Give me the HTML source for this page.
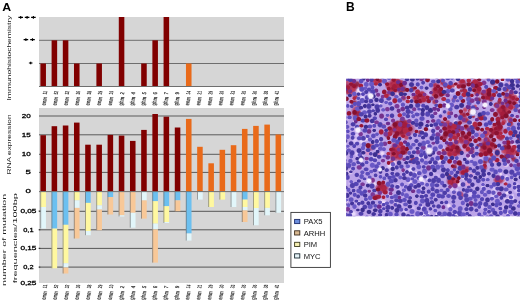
<!DOCTYPE html>
<html><head><meta charset="utf-8"><title>Figure</title>
<style>
html,body{margin:0;padding:0;background:#fff;}
body{width:520px;height:302px;overflow:hidden;font-family:"Liberation Sans",sans-serif;}
svg{display:block;will-change:transform;}
</style></head><body>
<svg width="520" height="302" viewBox="0 0 520 302"><rect x="39" y="17" width="245" height="69.5" fill="#d6d6d6"/><line x1="39" x2="284" y1="40.3" y2="40.3" stroke="#6e6e6e" stroke-width="1"/><line x1="39" x2="284" y1="63.5" y2="63.5" stroke="#6e6e6e" stroke-width="1"/><rect x="40.40" y="63.5" width="5.55" height="23.00" fill="#800000"/><rect x="51.60" y="40.3" width="5.55" height="46.20" fill="#800000"/><rect x="62.80" y="40.3" width="5.55" height="46.20" fill="#800000"/><rect x="73.99" y="63.5" width="5.55" height="23.00" fill="#800000"/><rect x="96.39" y="63.5" width="5.55" height="23.00" fill="#800000"/><rect x="118.79" y="17" width="5.55" height="69.50" fill="#800000"/><rect x="141.18" y="63.5" width="5.55" height="23.00" fill="#800000"/><rect x="152.38" y="40.3" width="5.55" height="46.20" fill="#800000"/><rect x="163.58" y="17" width="5.55" height="69.50" fill="#800000"/><rect x="185.97" y="63.5" width="5.55" height="23.00" fill="#e96a1a"/><line x1="39" x2="284" y1="86.5" y2="86.5" stroke="#6e6e6e" stroke-width="1"/><path d="M18.40 17.40h4.6M20.70 16.00v2.8" stroke="#000" stroke-width="1.15" fill="none"/><path d="M24.80 17.40h4.6M27.10 16.00v2.8" stroke="#000" stroke-width="1.15" fill="none"/><path d="M31.10 17.40h4.6M33.40 16.00v2.8" stroke="#000" stroke-width="1.15" fill="none"/><path d="M23.60 39.60h4.6M25.90 38.20v2.8" stroke="#000" stroke-width="1.15" fill="none"/><path d="M30.20 39.60h4.6M32.50 38.20v2.8" stroke="#000" stroke-width="1.15" fill="none"/><path d="M28.90 63.00h3.6M30.70 61.70v2.6" stroke="#000" stroke-width="1.2" fill="none"/><rect x="39" y="108" width="245" height="83.5" fill="#d6d6d6"/><line x1="39" x2="284" y1="116.0" y2="116.0" stroke="#5a5a5a" stroke-width="1"/><line x1="39" x2="284" y1="134.8" y2="134.8" stroke="#5a5a5a" stroke-width="1"/><line x1="39" x2="284" y1="154.3" y2="154.3" stroke="#5a5a5a" stroke-width="1"/><line x1="39" x2="284" y1="172.4" y2="172.4" stroke="#5a5a5a" stroke-width="1"/><rect x="40.40" y="135.2" width="5.55" height="56.30" fill="#800000"/><rect x="51.60" y="126.2" width="5.55" height="65.30" fill="#800000"/><rect x="62.80" y="125.5" width="5.55" height="66.00" fill="#800000"/><rect x="73.99" y="122.6" width="5.55" height="68.90" fill="#800000"/><rect x="85.19" y="144.7" width="5.55" height="46.80" fill="#800000"/><rect x="96.39" y="144.7" width="5.55" height="46.80" fill="#800000"/><rect x="107.59" y="134.9" width="5.55" height="56.60" fill="#800000"/><rect x="118.79" y="135.6" width="5.55" height="55.90" fill="#800000"/><rect x="129.98" y="140.9" width="5.55" height="50.60" fill="#800000"/><rect x="141.18" y="129.9" width="5.55" height="61.60" fill="#800000"/><rect x="152.38" y="114.0" width="5.55" height="77.50" fill="#800000"/><rect x="163.58" y="116.7" width="5.55" height="74.80" fill="#800000"/><rect x="174.78" y="127.5" width="5.55" height="64.00" fill="#800000"/><rect x="185.97" y="118.9" width="5.55" height="72.60" fill="#e96a1a"/><rect x="197.17" y="146.8" width="5.55" height="44.70" fill="#e96a1a"/><rect x="208.37" y="163.3" width="5.55" height="28.20" fill="#e96a1a"/><rect x="219.57" y="149.8" width="5.55" height="41.70" fill="#e96a1a"/><rect x="230.77" y="145.2" width="5.55" height="46.30" fill="#e96a1a"/><rect x="241.96" y="128.9" width="5.55" height="62.60" fill="#e96a1a"/><rect x="253.16" y="125.9" width="5.55" height="65.60" fill="#e96a1a"/><rect x="264.36" y="124.6" width="5.55" height="66.90" fill="#e96a1a"/><rect x="275.56" y="134.5" width="5.55" height="57.00" fill="#e96a1a"/><rect x="39" y="191.5" width="245" height="91.5" fill="#d6d6d6"/><line x1="39" x2="284" y1="211.3" y2="211.3" stroke="#555" stroke-width="1"/><line x1="39" x2="284" y1="229.8" y2="229.8" stroke="#555" stroke-width="1"/><line x1="39" x2="284" y1="248.4" y2="248.4" stroke="#555" stroke-width="1"/><line x1="39" x2="284" y1="267.1" y2="267.1" stroke="#555" stroke-width="1"/><rect x="40.40" y="192.00" width="5.55" height="15.00" fill="#fff8a0"/><rect x="40.40" y="207.00" width="5.55" height="21.50" fill="#e2f6fa"/><line x1="40.70" x2="40.70" y1="192" y2="228.50" stroke="#6a6a6a" stroke-width="0.8" opacity="0.8"/><rect x="51.60" y="192.00" width="5.55" height="36.60" fill="#6cc0f0"/><rect x="51.60" y="228.60" width="5.55" height="39.70" fill="#fff8a0"/><line x1="51.90" x2="51.90" y1="192" y2="268.30" stroke="#6a6a6a" stroke-width="0.8" opacity="0.8"/><rect x="62.80" y="192.00" width="5.55" height="32.80" fill="#6cc0f0"/><rect x="62.80" y="224.80" width="5.55" height="38.50" fill="#fff8a0"/><rect x="62.80" y="263.30" width="5.55" height="4.20" fill="#e2f6fa"/><rect x="62.80" y="267.50" width="5.55" height="6.00" fill="#f8c898"/><line x1="63.10" x2="63.10" y1="192" y2="273.50" stroke="#6a6a6a" stroke-width="0.8" opacity="0.8"/><rect x="73.99" y="192.00" width="5.55" height="8.40" fill="#fff8a0"/><rect x="73.99" y="200.40" width="5.55" height="7.50" fill="#e2f6fa"/><rect x="73.99" y="207.90" width="5.55" height="30.60" fill="#f8c898"/><line x1="74.29" x2="74.29" y1="192" y2="238.50" stroke="#6a6a6a" stroke-width="0.8" opacity="0.8"/><rect x="85.19" y="192.00" width="5.55" height="10.90" fill="#6cc0f0"/><rect x="85.19" y="202.90" width="5.55" height="28.10" fill="#fff8a0"/><rect x="85.19" y="231.00" width="5.55" height="4.20" fill="#e2f6fa"/><line x1="85.49" x2="85.49" y1="192" y2="235.20" stroke="#6a6a6a" stroke-width="0.8" opacity="0.8"/><rect x="96.39" y="192.00" width="5.55" height="13.40" fill="#fff8a0"/><rect x="96.39" y="205.40" width="5.55" height="4.10" fill="#e2f6fa"/><rect x="96.39" y="209.50" width="5.55" height="20.70" fill="#f8c898"/><line x1="96.69" x2="96.69" y1="192" y2="230.20" stroke="#6a6a6a" stroke-width="0.8" opacity="0.8"/><rect x="107.59" y="192.00" width="5.55" height="5.10" fill="#6cc0f0"/><rect x="107.59" y="197.10" width="5.55" height="17.40" fill="#f8c898"/><line x1="107.89" x2="107.89" y1="192" y2="214.50" stroke="#6a6a6a" stroke-width="0.8" opacity="0.8"/><rect x="118.79" y="192.00" width="5.55" height="23.30" fill="#f8c898"/><rect x="118.79" y="215.30" width="5.55" height="1.20" fill="#e2f6fa"/><line x1="119.09" x2="119.09" y1="192" y2="216.50" stroke="#6a6a6a" stroke-width="0.8" opacity="0.8"/><rect x="129.98" y="192.00" width="5.55" height="20.80" fill="#f8c898"/><rect x="129.98" y="212.80" width="5.55" height="14.90" fill="#e2f6fa"/><line x1="130.28" x2="130.28" y1="192" y2="227.70" stroke="#6a6a6a" stroke-width="0.8" opacity="0.8"/><rect x="141.18" y="192.00" width="5.55" height="8.40" fill="#e2f6fa"/><rect x="141.18" y="200.40" width="5.55" height="18.20" fill="#f8c898"/><line x1="141.48" x2="141.48" y1="192" y2="218.60" stroke="#6a6a6a" stroke-width="0.8" opacity="0.8"/><rect x="152.38" y="192.00" width="5.55" height="9.20" fill="#6cc0f0"/><rect x="152.38" y="201.20" width="5.55" height="22.40" fill="#fff8a0"/><rect x="152.38" y="223.60" width="5.55" height="5.80" fill="#e2f6fa"/><rect x="152.38" y="229.40" width="5.55" height="33.20" fill="#f8c898"/><line x1="152.68" x2="152.68" y1="192" y2="262.60" stroke="#6a6a6a" stroke-width="0.8" opacity="0.8"/><rect x="163.58" y="192.00" width="5.55" height="14.20" fill="#6cc0f0"/><rect x="163.58" y="206.20" width="5.55" height="15.80" fill="#fff8a0"/><rect x="163.58" y="222.00" width="5.55" height="1.00" fill="#e2f6fa"/><line x1="163.88" x2="163.88" y1="192" y2="223.00" stroke="#6a6a6a" stroke-width="0.8" opacity="0.8"/><rect x="174.78" y="192.00" width="5.55" height="8.40" fill="#6cc0f0"/><rect x="174.78" y="200.40" width="5.55" height="10.80" fill="#f8c898"/><line x1="175.08" x2="175.08" y1="192" y2="211.20" stroke="#6a6a6a" stroke-width="0.8" opacity="0.8"/><rect x="185.97" y="192.00" width="5.55" height="41.50" fill="#6cc0f0"/><rect x="185.97" y="233.50" width="5.55" height="7.10" fill="#e2f6fa"/><line x1="186.27" x2="186.27" y1="192" y2="240.60" stroke="#6a6a6a" stroke-width="0.8" opacity="0.8"/><rect x="197.17" y="192.00" width="5.55" height="7.60" fill="#e2f6fa"/><line x1="197.47" x2="197.47" y1="192" y2="199.60" stroke="#6a6a6a" stroke-width="0.8" opacity="0.8"/><rect x="208.37" y="192.00" width="5.55" height="15.00" fill="#fff8a0"/><line x1="208.67" x2="208.67" y1="192" y2="207.00" stroke="#6a6a6a" stroke-width="0.8" opacity="0.8"/><rect x="219.57" y="192.00" width="5.55" height="7.60" fill="#fff8a0"/><line x1="219.87" x2="219.87" y1="192" y2="199.60" stroke="#6a6a6a" stroke-width="0.8" opacity="0.8"/><rect x="230.77" y="192.00" width="5.55" height="15.00" fill="#e2f6fa"/><line x1="231.07" x2="231.07" y1="192" y2="207.00" stroke="#6a6a6a" stroke-width="0.8" opacity="0.8"/><rect x="241.96" y="192.00" width="5.55" height="7.60" fill="#6cc0f0"/><rect x="241.96" y="199.60" width="5.55" height="7.40" fill="#fff8a0"/><rect x="241.96" y="207.00" width="5.55" height="3.40" fill="#e2f6fa"/><rect x="241.96" y="210.40" width="5.55" height="11.60" fill="#f8c898"/><line x1="242.26" x2="242.26" y1="192" y2="222.00" stroke="#6a6a6a" stroke-width="0.8" opacity="0.8"/><rect x="253.16" y="192.00" width="5.55" height="16.00" fill="#fff8a0"/><rect x="253.16" y="208.00" width="5.55" height="17.30" fill="#e2f6fa"/><line x1="253.46" x2="253.46" y1="192" y2="225.30" stroke="#6a6a6a" stroke-width="0.8" opacity="0.8"/><rect x="264.36" y="192.00" width="5.55" height="15.90" fill="#fff8a0"/><rect x="264.36" y="207.90" width="5.55" height="7.40" fill="#e2f6fa"/><line x1="264.66" x2="264.66" y1="192" y2="215.30" stroke="#6a6a6a" stroke-width="0.8" opacity="0.8"/><rect x="275.56" y="192.00" width="5.55" height="20.80" fill="#e2f6fa"/><line x1="275.86" x2="275.86" y1="192" y2="212.80" stroke="#6a6a6a" stroke-width="0.8" opacity="0.8"/><line x1="39" x2="284" y1="191.6" y2="191.6" stroke="#6e6e6e" stroke-width="1"/><text x="21.8" y="117.7" font-family="Liberation Sans, sans-serif" font-size="5.7" stroke="#000" stroke-width="0.28" textLength="9.0" lengthAdjust="spacingAndGlyphs">20</text><text x="21.8" y="136.7" font-family="Liberation Sans, sans-serif" font-size="5.7" stroke="#000" stroke-width="0.28" textLength="9.0" lengthAdjust="spacingAndGlyphs">15</text><text x="21.8" y="156.2" font-family="Liberation Sans, sans-serif" font-size="5.7" stroke="#000" stroke-width="0.28" textLength="9.0" lengthAdjust="spacingAndGlyphs">10</text><text x="25.4" y="174.4" font-family="Liberation Sans, sans-serif" font-size="5.7" stroke="#000" stroke-width="0.28" textLength="5.4" lengthAdjust="spacingAndGlyphs">5</text><text x="25.4" y="193.4" font-family="Liberation Sans, sans-serif" font-size="5.7" stroke="#000" stroke-width="0.28" textLength="5.4" lengthAdjust="spacingAndGlyphs">0</text><text x="20.4" y="213.1" font-family="Liberation Sans, sans-serif" font-size="5.7" stroke="#000" stroke-width="0.28" textLength="16.0" lengthAdjust="spacingAndGlyphs">0,05</text><text x="23.2" y="231.8" font-family="Liberation Sans, sans-serif" font-size="5.7" stroke="#000" stroke-width="0.28" textLength="10.4" lengthAdjust="spacingAndGlyphs">0,1</text><text x="20.4" y="250.3" font-family="Liberation Sans, sans-serif" font-size="5.7" stroke="#000" stroke-width="0.28" textLength="16.0" lengthAdjust="spacingAndGlyphs">0,15</text><text x="23.2" y="269.1" font-family="Liberation Sans, sans-serif" font-size="5.7" stroke="#000" stroke-width="0.28" textLength="10.4" lengthAdjust="spacingAndGlyphs">0,2</text><text x="20.4" y="285.0" font-family="Liberation Sans, sans-serif" font-size="5.7" stroke="#000" stroke-width="0.28" textLength="16.0" lengthAdjust="spacingAndGlyphs">0,25</text><line x1="38.6" x2="40.3" y1="211.1" y2="211.1" stroke="#222" stroke-width="0.9"/><line x1="38.6" x2="40.3" y1="229.8" y2="229.8" stroke="#222" stroke-width="0.9"/><line x1="38.6" x2="40.3" y1="248.3" y2="248.3" stroke="#222" stroke-width="0.9"/><line x1="38.6" x2="40.3" y1="267.1" y2="267.1" stroke="#222" stroke-width="0.9"/><text transform="translate(10.5,100.5) rotate(-90)" font-family="Liberation Sans, sans-serif" font-size="5.0" fill="#1a1a1a" textLength="85" lengthAdjust="spacingAndGlyphs">Immunohistochemistry</text><text transform="translate(10.7,174.6) rotate(-90)" font-family="Liberation Sans, sans-serif" font-size="5.2" fill="#1a1a1a" textLength="60.2" lengthAdjust="spacingAndGlyphs">RNA expression</text><text transform="translate(5.8,286.0) rotate(-90)" font-family="Liberation Sans, sans-serif" font-size="5.0" fill="#1a1a1a" textLength="92.3" lengthAdjust="spacingAndGlyphs">number of mutation</text><text transform="translate(16.9,283.3) rotate(-90)" font-family="Liberation Sans, sans-serif" font-size="5.0" fill="#1a1a1a" textLength="90.2" lengthAdjust="spacingAndGlyphs">frequencies/100bp</text><text transform="translate(45.40,105.6) rotate(-90) skewY(12)" font-family="Liberation Sans, sans-serif" font-size="6.4" font-style="italic" font-weight="bold" fill="#222" textLength="8.6" lengthAdjust="spacingAndGlyphs">enm</text><text transform="translate(46.60,94.6) rotate(-90) skewY(12)" font-family="Liberation Sans, sans-serif" font-size="6.0" font-style="italic" font-weight="bold" fill="#222" textLength="3.6" lengthAdjust="spacingAndGlyphs">11</text><text transform="translate(45.40,299.8) rotate(-90) skewY(12)" font-family="Liberation Sans, sans-serif" font-size="6.4" font-style="italic" font-weight="bold" fill="#222" textLength="8.6" lengthAdjust="spacingAndGlyphs">enm</text><text transform="translate(46.60,288.2) rotate(-90) skewY(12)" font-family="Liberation Sans, sans-serif" font-size="6.0" font-style="italic" font-weight="bold" fill="#222" textLength="3.6" lengthAdjust="spacingAndGlyphs">11</text><text transform="translate(56.44,105.6) rotate(-90) skewY(12)" font-family="Liberation Sans, sans-serif" font-size="6.4" font-style="italic" font-weight="bold" fill="#222" textLength="8.6" lengthAdjust="spacingAndGlyphs">enm</text><text transform="translate(57.64,94.6) rotate(-90) skewY(12)" font-family="Liberation Sans, sans-serif" font-size="6.0" font-style="italic" font-weight="bold" fill="#222" textLength="3.6" lengthAdjust="spacingAndGlyphs">52</text><text transform="translate(56.44,299.8) rotate(-90) skewY(12)" font-family="Liberation Sans, sans-serif" font-size="6.4" font-style="italic" font-weight="bold" fill="#222" textLength="8.6" lengthAdjust="spacingAndGlyphs">enm</text><text transform="translate(57.64,288.2) rotate(-90) skewY(12)" font-family="Liberation Sans, sans-serif" font-size="6.0" font-style="italic" font-weight="bold" fill="#222" textLength="3.6" lengthAdjust="spacingAndGlyphs">52</text><text transform="translate(67.48,105.6) rotate(-90) skewY(12)" font-family="Liberation Sans, sans-serif" font-size="6.4" font-style="italic" font-weight="bold" fill="#222" textLength="8.6" lengthAdjust="spacingAndGlyphs">enm</text><text transform="translate(68.68,94.6) rotate(-90) skewY(12)" font-family="Liberation Sans, sans-serif" font-size="6.0" font-style="italic" font-weight="bold" fill="#222" textLength="3.6" lengthAdjust="spacingAndGlyphs">32</text><text transform="translate(67.48,299.8) rotate(-90) skewY(12)" font-family="Liberation Sans, sans-serif" font-size="6.4" font-style="italic" font-weight="bold" fill="#222" textLength="8.6" lengthAdjust="spacingAndGlyphs">enm</text><text transform="translate(68.68,288.2) rotate(-90) skewY(12)" font-family="Liberation Sans, sans-serif" font-size="6.0" font-style="italic" font-weight="bold" fill="#222" textLength="3.6" lengthAdjust="spacingAndGlyphs">32</text><text transform="translate(78.52,105.6) rotate(-90) skewY(12)" font-family="Liberation Sans, sans-serif" font-size="6.4" font-style="italic" font-weight="bold" fill="#222" textLength="8.6" lengthAdjust="spacingAndGlyphs">enm</text><text transform="translate(79.72,94.6) rotate(-90) skewY(12)" font-family="Liberation Sans, sans-serif" font-size="6.0" font-style="italic" font-weight="bold" fill="#222" textLength="3.6" lengthAdjust="spacingAndGlyphs">36</text><text transform="translate(78.52,299.8) rotate(-90) skewY(12)" font-family="Liberation Sans, sans-serif" font-size="6.4" font-style="italic" font-weight="bold" fill="#222" textLength="8.6" lengthAdjust="spacingAndGlyphs">enm</text><text transform="translate(79.72,288.2) rotate(-90) skewY(12)" font-family="Liberation Sans, sans-serif" font-size="6.0" font-style="italic" font-weight="bold" fill="#222" textLength="3.6" lengthAdjust="spacingAndGlyphs">36</text><text transform="translate(89.56,105.6) rotate(-90) skewY(12)" font-family="Liberation Sans, sans-serif" font-size="6.4" font-style="italic" font-weight="bold" fill="#222" textLength="8.6" lengthAdjust="spacingAndGlyphs">enm</text><text transform="translate(90.76,94.6) rotate(-90) skewY(12)" font-family="Liberation Sans, sans-serif" font-size="6.0" font-style="italic" font-weight="bold" fill="#222" textLength="3.6" lengthAdjust="spacingAndGlyphs">38</text><text transform="translate(89.56,299.8) rotate(-90) skewY(12)" font-family="Liberation Sans, sans-serif" font-size="6.4" font-style="italic" font-weight="bold" fill="#222" textLength="8.6" lengthAdjust="spacingAndGlyphs">enm</text><text transform="translate(90.76,288.2) rotate(-90) skewY(12)" font-family="Liberation Sans, sans-serif" font-size="6.0" font-style="italic" font-weight="bold" fill="#222" textLength="3.6" lengthAdjust="spacingAndGlyphs">38</text><text transform="translate(100.60,105.6) rotate(-90) skewY(12)" font-family="Liberation Sans, sans-serif" font-size="6.4" font-style="italic" font-weight="bold" fill="#222" textLength="8.6" lengthAdjust="spacingAndGlyphs">enm</text><text transform="translate(101.80,94.6) rotate(-90) skewY(12)" font-family="Liberation Sans, sans-serif" font-size="6.0" font-style="italic" font-weight="bold" fill="#222" textLength="3.6" lengthAdjust="spacingAndGlyphs">29</text><text transform="translate(100.60,299.8) rotate(-90) skewY(12)" font-family="Liberation Sans, sans-serif" font-size="6.4" font-style="italic" font-weight="bold" fill="#222" textLength="8.6" lengthAdjust="spacingAndGlyphs">enm</text><text transform="translate(101.80,288.2) rotate(-90) skewY(12)" font-family="Liberation Sans, sans-serif" font-size="6.0" font-style="italic" font-weight="bold" fill="#222" textLength="3.6" lengthAdjust="spacingAndGlyphs">29</text><text transform="translate(111.64,105.6) rotate(-90) skewY(12)" font-family="Liberation Sans, sans-serif" font-size="6.4" font-style="italic" font-weight="bold" fill="#222" textLength="8.6" lengthAdjust="spacingAndGlyphs">enm</text><text transform="translate(112.84,94.6) rotate(-90) skewY(12)" font-family="Liberation Sans, sans-serif" font-size="6.0" font-style="italic" font-weight="bold" fill="#222" textLength="3.6" lengthAdjust="spacingAndGlyphs">10</text><text transform="translate(111.64,299.8) rotate(-90) skewY(12)" font-family="Liberation Sans, sans-serif" font-size="6.4" font-style="italic" font-weight="bold" fill="#222" textLength="8.6" lengthAdjust="spacingAndGlyphs">enm</text><text transform="translate(112.84,288.2) rotate(-90) skewY(12)" font-family="Liberation Sans, sans-serif" font-size="6.0" font-style="italic" font-weight="bold" fill="#222" textLength="3.6" lengthAdjust="spacingAndGlyphs">10</text><text transform="translate(122.68,105.6) rotate(-90) skewY(12)" font-family="Liberation Sans, sans-serif" font-size="6.4" font-style="italic" font-weight="bold" fill="#222" textLength="8.6" lengthAdjust="spacingAndGlyphs">ghm</text><text transform="translate(123.88,94.6) rotate(-90) skewY(12)" font-family="Liberation Sans, sans-serif" font-size="6.0" font-style="italic" font-weight="bold" fill="#222" textLength="2.4" lengthAdjust="spacingAndGlyphs">2</text><text transform="translate(122.68,299.8) rotate(-90) skewY(12)" font-family="Liberation Sans, sans-serif" font-size="6.4" font-style="italic" font-weight="bold" fill="#222" textLength="8.6" lengthAdjust="spacingAndGlyphs">ghm</text><text transform="translate(123.88,288.2) rotate(-90) skewY(12)" font-family="Liberation Sans, sans-serif" font-size="6.0" font-style="italic" font-weight="bold" fill="#222" textLength="2.4" lengthAdjust="spacingAndGlyphs">2</text><text transform="translate(133.72,105.6) rotate(-90) skewY(12)" font-family="Liberation Sans, sans-serif" font-size="6.4" font-style="italic" font-weight="bold" fill="#222" textLength="8.6" lengthAdjust="spacingAndGlyphs">ghm</text><text transform="translate(134.92,94.6) rotate(-90) skewY(12)" font-family="Liberation Sans, sans-serif" font-size="6.0" font-style="italic" font-weight="bold" fill="#222" textLength="2.4" lengthAdjust="spacingAndGlyphs">4</text><text transform="translate(133.72,299.8) rotate(-90) skewY(12)" font-family="Liberation Sans, sans-serif" font-size="6.4" font-style="italic" font-weight="bold" fill="#222" textLength="8.6" lengthAdjust="spacingAndGlyphs">ghm</text><text transform="translate(134.92,288.2) rotate(-90) skewY(12)" font-family="Liberation Sans, sans-serif" font-size="6.0" font-style="italic" font-weight="bold" fill="#222" textLength="2.4" lengthAdjust="spacingAndGlyphs">4</text><text transform="translate(144.76,105.6) rotate(-90) skewY(12)" font-family="Liberation Sans, sans-serif" font-size="6.4" font-style="italic" font-weight="bold" fill="#222" textLength="8.6" lengthAdjust="spacingAndGlyphs">ghm</text><text transform="translate(145.96,94.6) rotate(-90) skewY(12)" font-family="Liberation Sans, sans-serif" font-size="6.0" font-style="italic" font-weight="bold" fill="#222" textLength="2.4" lengthAdjust="spacingAndGlyphs">5</text><text transform="translate(144.76,299.8) rotate(-90) skewY(12)" font-family="Liberation Sans, sans-serif" font-size="6.4" font-style="italic" font-weight="bold" fill="#222" textLength="8.6" lengthAdjust="spacingAndGlyphs">ghm</text><text transform="translate(145.96,288.2) rotate(-90) skewY(12)" font-family="Liberation Sans, sans-serif" font-size="6.0" font-style="italic" font-weight="bold" fill="#222" textLength="2.4" lengthAdjust="spacingAndGlyphs">5</text><text transform="translate(155.80,105.6) rotate(-90) skewY(12)" font-family="Liberation Sans, sans-serif" font-size="6.4" font-style="italic" font-weight="bold" fill="#222" textLength="8.6" lengthAdjust="spacingAndGlyphs">ghm</text><text transform="translate(157.00,94.6) rotate(-90) skewY(12)" font-family="Liberation Sans, sans-serif" font-size="6.0" font-style="italic" font-weight="bold" fill="#222" textLength="2.4" lengthAdjust="spacingAndGlyphs">6</text><text transform="translate(155.80,299.8) rotate(-90) skewY(12)" font-family="Liberation Sans, sans-serif" font-size="6.4" font-style="italic" font-weight="bold" fill="#222" textLength="8.6" lengthAdjust="spacingAndGlyphs">ghm</text><text transform="translate(157.00,288.2) rotate(-90) skewY(12)" font-family="Liberation Sans, sans-serif" font-size="6.0" font-style="italic" font-weight="bold" fill="#222" textLength="2.4" lengthAdjust="spacingAndGlyphs">6</text><text transform="translate(166.84,105.6) rotate(-90) skewY(12)" font-family="Liberation Sans, sans-serif" font-size="6.4" font-style="italic" font-weight="bold" fill="#222" textLength="8.6" lengthAdjust="spacingAndGlyphs">ghm</text><text transform="translate(168.04,94.6) rotate(-90) skewY(12)" font-family="Liberation Sans, sans-serif" font-size="6.0" font-style="italic" font-weight="bold" fill="#222" textLength="2.4" lengthAdjust="spacingAndGlyphs">7</text><text transform="translate(166.84,299.8) rotate(-90) skewY(12)" font-family="Liberation Sans, sans-serif" font-size="6.4" font-style="italic" font-weight="bold" fill="#222" textLength="8.6" lengthAdjust="spacingAndGlyphs">ghm</text><text transform="translate(168.04,288.2) rotate(-90) skewY(12)" font-family="Liberation Sans, sans-serif" font-size="6.0" font-style="italic" font-weight="bold" fill="#222" textLength="2.4" lengthAdjust="spacingAndGlyphs">7</text><text transform="translate(177.88,105.6) rotate(-90) skewY(12)" font-family="Liberation Sans, sans-serif" font-size="6.4" font-style="italic" font-weight="bold" fill="#222" textLength="8.6" lengthAdjust="spacingAndGlyphs">ghm</text><text transform="translate(179.08,94.6) rotate(-90) skewY(12)" font-family="Liberation Sans, sans-serif" font-size="6.0" font-style="italic" font-weight="bold" fill="#222" textLength="2.4" lengthAdjust="spacingAndGlyphs">9</text><text transform="translate(177.88,299.8) rotate(-90) skewY(12)" font-family="Liberation Sans, sans-serif" font-size="6.4" font-style="italic" font-weight="bold" fill="#222" textLength="8.6" lengthAdjust="spacingAndGlyphs">ghm</text><text transform="translate(179.08,288.2) rotate(-90) skewY(12)" font-family="Liberation Sans, sans-serif" font-size="6.0" font-style="italic" font-weight="bold" fill="#222" textLength="2.4" lengthAdjust="spacingAndGlyphs">9</text><text transform="translate(188.92,105.6) rotate(-90) skewY(12)" font-family="Liberation Sans, sans-serif" font-size="6.4" font-style="italic" font-weight="bold" fill="#222" textLength="8.6" lengthAdjust="spacingAndGlyphs">enm</text><text transform="translate(190.12,94.6) rotate(-90) skewY(12)" font-family="Liberation Sans, sans-serif" font-size="6.0" font-style="italic" font-weight="bold" fill="#222" textLength="3.6" lengthAdjust="spacingAndGlyphs">14</text><text transform="translate(188.92,299.8) rotate(-90) skewY(12)" font-family="Liberation Sans, sans-serif" font-size="6.4" font-style="italic" font-weight="bold" fill="#222" textLength="8.6" lengthAdjust="spacingAndGlyphs">enm</text><text transform="translate(190.12,288.2) rotate(-90) skewY(12)" font-family="Liberation Sans, sans-serif" font-size="6.0" font-style="italic" font-weight="bold" fill="#222" textLength="3.6" lengthAdjust="spacingAndGlyphs">14</text><text transform="translate(199.96,105.6) rotate(-90) skewY(12)" font-family="Liberation Sans, sans-serif" font-size="6.4" font-style="italic" font-weight="bold" fill="#222" textLength="8.6" lengthAdjust="spacingAndGlyphs">enm</text><text transform="translate(201.16,94.6) rotate(-90) skewY(12)" font-family="Liberation Sans, sans-serif" font-size="6.0" font-style="italic" font-weight="bold" fill="#222" textLength="3.6" lengthAdjust="spacingAndGlyphs">21</text><text transform="translate(199.96,299.8) rotate(-90) skewY(12)" font-family="Liberation Sans, sans-serif" font-size="6.4" font-style="italic" font-weight="bold" fill="#222" textLength="8.6" lengthAdjust="spacingAndGlyphs">enm</text><text transform="translate(201.16,288.2) rotate(-90) skewY(12)" font-family="Liberation Sans, sans-serif" font-size="6.0" font-style="italic" font-weight="bold" fill="#222" textLength="3.6" lengthAdjust="spacingAndGlyphs">21</text><text transform="translate(211.00,105.6) rotate(-90) skewY(12)" font-family="Liberation Sans, sans-serif" font-size="6.4" font-style="italic" font-weight="bold" fill="#222" textLength="8.6" lengthAdjust="spacingAndGlyphs">enm</text><text transform="translate(212.20,94.6) rotate(-90) skewY(12)" font-family="Liberation Sans, sans-serif" font-size="6.0" font-style="italic" font-weight="bold" fill="#222" textLength="3.6" lengthAdjust="spacingAndGlyphs">29</text><text transform="translate(211.00,299.8) rotate(-90) skewY(12)" font-family="Liberation Sans, sans-serif" font-size="6.4" font-style="italic" font-weight="bold" fill="#222" textLength="8.6" lengthAdjust="spacingAndGlyphs">enm</text><text transform="translate(212.20,288.2) rotate(-90) skewY(12)" font-family="Liberation Sans, sans-serif" font-size="6.0" font-style="italic" font-weight="bold" fill="#222" textLength="3.6" lengthAdjust="spacingAndGlyphs">29</text><text transform="translate(222.04,105.6) rotate(-90) skewY(12)" font-family="Liberation Sans, sans-serif" font-size="6.4" font-style="italic" font-weight="bold" fill="#222" textLength="8.6" lengthAdjust="spacingAndGlyphs">enm</text><text transform="translate(223.24,94.6) rotate(-90) skewY(12)" font-family="Liberation Sans, sans-serif" font-size="6.0" font-style="italic" font-weight="bold" fill="#222" textLength="3.6" lengthAdjust="spacingAndGlyphs">30</text><text transform="translate(222.04,299.8) rotate(-90) skewY(12)" font-family="Liberation Sans, sans-serif" font-size="6.4" font-style="italic" font-weight="bold" fill="#222" textLength="8.6" lengthAdjust="spacingAndGlyphs">enm</text><text transform="translate(223.24,288.2) rotate(-90) skewY(12)" font-family="Liberation Sans, sans-serif" font-size="6.0" font-style="italic" font-weight="bold" fill="#222" textLength="3.6" lengthAdjust="spacingAndGlyphs">30</text><text transform="translate(233.08,105.6) rotate(-90) skewY(12)" font-family="Liberation Sans, sans-serif" font-size="6.4" font-style="italic" font-weight="bold" fill="#222" textLength="8.6" lengthAdjust="spacingAndGlyphs">enm</text><text transform="translate(234.28,94.6) rotate(-90) skewY(12)" font-family="Liberation Sans, sans-serif" font-size="6.0" font-style="italic" font-weight="bold" fill="#222" textLength="3.6" lengthAdjust="spacingAndGlyphs">33</text><text transform="translate(233.08,299.8) rotate(-90) skewY(12)" font-family="Liberation Sans, sans-serif" font-size="6.4" font-style="italic" font-weight="bold" fill="#222" textLength="8.6" lengthAdjust="spacingAndGlyphs">enm</text><text transform="translate(234.28,288.2) rotate(-90) skewY(12)" font-family="Liberation Sans, sans-serif" font-size="6.0" font-style="italic" font-weight="bold" fill="#222" textLength="3.6" lengthAdjust="spacingAndGlyphs">33</text><text transform="translate(244.12,105.6) rotate(-90) skewY(12)" font-family="Liberation Sans, sans-serif" font-size="6.4" font-style="italic" font-weight="bold" fill="#222" textLength="8.6" lengthAdjust="spacingAndGlyphs">enm</text><text transform="translate(245.32,94.6) rotate(-90) skewY(12)" font-family="Liberation Sans, sans-serif" font-size="6.0" font-style="italic" font-weight="bold" fill="#222" textLength="3.6" lengthAdjust="spacingAndGlyphs">35</text><text transform="translate(244.12,299.8) rotate(-90) skewY(12)" font-family="Liberation Sans, sans-serif" font-size="6.4" font-style="italic" font-weight="bold" fill="#222" textLength="8.6" lengthAdjust="spacingAndGlyphs">enm</text><text transform="translate(245.32,288.2) rotate(-90) skewY(12)" font-family="Liberation Sans, sans-serif" font-size="6.0" font-style="italic" font-weight="bold" fill="#222" textLength="3.6" lengthAdjust="spacingAndGlyphs">35</text><text transform="translate(255.16,105.6) rotate(-90) skewY(12)" font-family="Liberation Sans, sans-serif" font-size="6.4" font-style="italic" font-weight="bold" fill="#222" textLength="8.6" lengthAdjust="spacingAndGlyphs">ghm</text><text transform="translate(256.36,94.6) rotate(-90) skewY(12)" font-family="Liberation Sans, sans-serif" font-size="6.0" font-style="italic" font-weight="bold" fill="#222" textLength="3.6" lengthAdjust="spacingAndGlyphs">36</text><text transform="translate(255.16,299.8) rotate(-90) skewY(12)" font-family="Liberation Sans, sans-serif" font-size="6.4" font-style="italic" font-weight="bold" fill="#222" textLength="8.6" lengthAdjust="spacingAndGlyphs">ghm</text><text transform="translate(256.36,288.2) rotate(-90) skewY(12)" font-family="Liberation Sans, sans-serif" font-size="6.0" font-style="italic" font-weight="bold" fill="#222" textLength="3.6" lengthAdjust="spacingAndGlyphs">36</text><text transform="translate(266.20,105.6) rotate(-90) skewY(12)" font-family="Liberation Sans, sans-serif" font-size="6.4" font-style="italic" font-weight="bold" fill="#222" textLength="8.6" lengthAdjust="spacingAndGlyphs">ghm</text><text transform="translate(267.40,94.6) rotate(-90) skewY(12)" font-family="Liberation Sans, sans-serif" font-size="6.0" font-style="italic" font-weight="bold" fill="#222" textLength="3.6" lengthAdjust="spacingAndGlyphs">38</text><text transform="translate(266.20,299.8) rotate(-90) skewY(12)" font-family="Liberation Sans, sans-serif" font-size="6.4" font-style="italic" font-weight="bold" fill="#222" textLength="8.6" lengthAdjust="spacingAndGlyphs">ghm</text><text transform="translate(267.40,288.2) rotate(-90) skewY(12)" font-family="Liberation Sans, sans-serif" font-size="6.0" font-style="italic" font-weight="bold" fill="#222" textLength="3.6" lengthAdjust="spacingAndGlyphs">38</text><text transform="translate(277.24,105.6) rotate(-90) skewY(12)" font-family="Liberation Sans, sans-serif" font-size="6.4" font-style="italic" font-weight="bold" fill="#222" textLength="8.6" lengthAdjust="spacingAndGlyphs">ghm</text><text transform="translate(278.44,94.6) rotate(-90) skewY(12)" font-family="Liberation Sans, sans-serif" font-size="6.0" font-style="italic" font-weight="bold" fill="#222" textLength="3.6" lengthAdjust="spacingAndGlyphs">41</text><text transform="translate(277.24,299.8) rotate(-90) skewY(12)" font-family="Liberation Sans, sans-serif" font-size="6.4" font-style="italic" font-weight="bold" fill="#222" textLength="8.6" lengthAdjust="spacingAndGlyphs">ghm</text><text transform="translate(278.44,288.2) rotate(-90) skewY(12)" font-family="Liberation Sans, sans-serif" font-size="6.0" font-style="italic" font-weight="bold" fill="#222" textLength="3.6" lengthAdjust="spacingAndGlyphs">41</text><rect x="290.9" y="212.4" width="39.5" height="55" fill="#fff" stroke="#333" stroke-width="0.9"/><rect x="294.6" y="219.4" width="5.2" height="4.2" fill="#6c8ede" stroke="#1c2c6c" stroke-width="0.9"/><text x="303.7" y="224.2" font-family="Liberation Sans, sans-serif" font-size="7.6" fill="#111">PAX5</text><rect x="294.6" y="230.8" width="5.2" height="4.2" fill="#d8b890" stroke="#3c2c1c" stroke-width="0.9"/><text x="303.7" y="235.6" font-family="Liberation Sans, sans-serif" font-size="7.6" fill="#111">ARHH</text><rect x="294.6" y="242.3" width="5.2" height="4.2" fill="#f4eeb0" stroke="#3c3a1c" stroke-width="0.9"/><text x="303.7" y="247.1" font-family="Liberation Sans, sans-serif" font-size="7.6" fill="#111">PIM</text><rect x="294.6" y="253.8" width="5.2" height="4.2" fill="#e4f2f6" stroke="#1c2c34" stroke-width="0.9"/><text x="303.7" y="258.6" font-family="Liberation Sans, sans-serif" font-size="7.6" fill="#111">MYC</text><text x="2.2" y="10.75" font-family="Liberation Sans, sans-serif" font-size="11.8" font-weight="bold" textLength="8.9" lengthAdjust="spacingAndGlyphs">A</text><text x="345.9" y="11" font-family="Liberation Sans, sans-serif" font-size="12" font-weight="bold">B</text><defs><clipPath id="hc"><rect x="346.2" y="78.7" width="173.8" height="137.5"/></clipPath><radialGradient id="g0"><stop offset="0.3" stop-color="#e8dafc"/><stop offset="1" stop-color="#e8dafc" stop-opacity="0"/></radialGradient><radialGradient id="g1"><stop offset="0.3" stop-color="#dcc8f8"/><stop offset="1" stop-color="#dcc8f8" stop-opacity="0"/></radialGradient><radialGradient id="g2"><stop offset="0.3" stop-color="#e0a0d4"/><stop offset="1" stop-color="#e0a0d4" stop-opacity="0"/></radialGradient><radialGradient id="g3"><stop offset="0.3" stop-color="#d890c8"/><stop offset="1" stop-color="#d890c8" stop-opacity="0"/></radialGradient><radialGradient id="g4"><stop offset="0.3" stop-color="#d0b8f4"/><stop offset="1" stop-color="#d0b8f4" stop-opacity="0"/></radialGradient><radialGradient id="g5"><stop offset="0.3" stop-color="#f0dcf8"/><stop offset="1" stop-color="#f0dcf8" stop-opacity="0"/></radialGradient><radialGradient id="g6"><stop offset="0.3" stop-color="#c878b8"/><stop offset="1" stop-color="#c878b8" stop-opacity="0"/></radialGradient><radialGradient id="g7"><stop offset="0.55" stop-color="#a81c42"/><stop offset="1" stop-color="#a81c42" stop-opacity="0"/></radialGradient><radialGradient id="g8"><stop offset="0.4" stop-color="#b8304c"/><stop offset="1" stop-color="#b8304c" stop-opacity="0"/></radialGradient><radialGradient id="g9"><stop offset="0.4" stop-color="#9a1a3a"/><stop offset="1" stop-color="#9a1a3a" stop-opacity="0"/></radialGradient><radialGradient id="g10"><stop offset="0.4" stop-color="#c03a54"/><stop offset="1" stop-color="#c03a54" stop-opacity="0"/></radialGradient><radialGradient id="g11"><stop offset="0.4" stop-color="#8c1838"/><stop offset="1" stop-color="#8c1838" stop-opacity="0"/></radialGradient><radialGradient id="g12"><stop offset="0.4" stop-color="#a82444"/><stop offset="1" stop-color="#a82444" stop-opacity="0"/></radialGradient><radialGradient id="g13"><stop offset="0.62" stop-color="#5444b4"/><stop offset="1" stop-color="#5444b4" stop-opacity="0"/></radialGradient><radialGradient id="g14"><stop offset="0.62" stop-color="#74308c"/><stop offset="1" stop-color="#74308c" stop-opacity="0"/></radialGradient><radialGradient id="g15"><stop offset="0.62" stop-color="#44349c"/><stop offset="1" stop-color="#44349c" stop-opacity="0"/></radialGradient><radialGradient id="g16"><stop offset="0.62" stop-color="#6a58c6"/><stop offset="1" stop-color="#6a58c6" stop-opacity="0"/></radialGradient><radialGradient id="g17"><stop offset="0.62" stop-color="#4c3ca8"/><stop offset="1" stop-color="#4c3ca8" stop-opacity="0"/></radialGradient><radialGradient id="g18"><stop offset="0.62" stop-color="#803490"/><stop offset="1" stop-color="#803490" stop-opacity="0"/></radialGradient><radialGradient id="g19"><stop offset="0.62" stop-color="#5c4cbc"/><stop offset="1" stop-color="#5c4cbc" stop-opacity="0"/></radialGradient><radialGradient id="g20"><stop offset="0.62" stop-color="#8c1232"/><stop offset="1" stop-color="#8c1232" stop-opacity="0"/></radialGradient><radialGradient id="g21"><stop offset="0.62" stop-color="#84102e"/><stop offset="1" stop-color="#84102e" stop-opacity="0"/></radialGradient><radialGradient id="g22"><stop offset="0.62" stop-color="#a41c3c"/><stop offset="1" stop-color="#a41c3c" stop-opacity="0"/></radialGradient><radialGradient id="g23"><stop offset="0.62" stop-color="#6c2c90"/><stop offset="1" stop-color="#6c2c90" stop-opacity="0"/></radialGradient><radialGradient id="g24"><stop offset="0.62" stop-color="#3c2e90"/><stop offset="1" stop-color="#3c2e90" stop-opacity="0"/></radialGradient><radialGradient id="g25"><stop offset="0.62" stop-color="#5040ac"/><stop offset="1" stop-color="#5040ac" stop-opacity="0"/></radialGradient><radialGradient id="g26"><stop offset="0.62" stop-color="#b02644"/><stop offset="1" stop-color="#b02644" stop-opacity="0"/></radialGradient><radialGradient id="g27"><stop offset="0.62" stop-color="#6454c0"/><stop offset="1" stop-color="#6454c0" stop-opacity="0"/></radialGradient><radialGradient id="g28"><stop offset="0.62" stop-color="#7a3898"/><stop offset="1" stop-color="#7a3898" stop-opacity="0"/></radialGradient><radialGradient id="g29"><stop offset="0.62" stop-color="#961434"/><stop offset="1" stop-color="#961434" stop-opacity="0"/></radialGradient><radialGradient id="g30"><stop offset="0.5" stop-color="#f6f0fc"/><stop offset="1" stop-color="#f6f0fc" stop-opacity="0"/></radialGradient></defs><g clip-path="url(#hc)"><rect x="341.2" y="73.7" width="183.8" height="147.5" fill="#bca4e8"/><circle cx="424.8" cy="155.7" r="3.8" fill="url(#g0)"/><circle cx="378.3" cy="149.1" r="3.2" fill="url(#g1)"/><circle cx="423.8" cy="98.2" r="3.0" fill="url(#g2)"/><circle cx="353.5" cy="213.8" r="3.9" fill="url(#g0)"/><circle cx="454.5" cy="193.1" r="1.9" fill="url(#g3)"/><circle cx="450.4" cy="185.7" r="2.5" fill="url(#g0)"/><circle cx="436.4" cy="166.7" r="2.9" fill="url(#g4)"/><circle cx="460.0" cy="134.6" r="3.0" fill="url(#g1)"/><circle cx="469.2" cy="122.1" r="2.3" fill="url(#g3)"/><circle cx="444.1" cy="93.5" r="2.0" fill="url(#g3)"/><circle cx="512.7" cy="195.2" r="1.8" fill="url(#g1)"/><circle cx="427.9" cy="213.5" r="2.7" fill="url(#g0)"/><circle cx="481.5" cy="115.8" r="2.0" fill="url(#g4)"/><circle cx="477.9" cy="94.9" r="2.3" fill="url(#g3)"/><circle cx="427.0" cy="145.6" r="3.3" fill="url(#g0)"/><circle cx="517.4" cy="184.5" r="2.7" fill="url(#g4)"/><circle cx="419.3" cy="108.0" r="2.4" fill="url(#g5)"/><circle cx="519.6" cy="81.4" r="2.2" fill="url(#g1)"/><circle cx="353.5" cy="98.8" r="2.8" fill="url(#g2)"/><circle cx="403.4" cy="119.4" r="2.0" fill="url(#g2)"/><circle cx="456.8" cy="80.8" r="2.6" fill="url(#g0)"/><circle cx="512.9" cy="145.2" r="3.1" fill="url(#g0)"/><circle cx="455.2" cy="121.4" r="2.3" fill="url(#g0)"/><circle cx="373.7" cy="165.2" r="3.0" fill="url(#g4)"/><circle cx="499.5" cy="161.7" r="2.7" fill="url(#g3)"/><circle cx="435.2" cy="113.8" r="3.4" fill="url(#g4)"/><circle cx="489.4" cy="160.7" r="2.4" fill="url(#g2)"/><circle cx="516.0" cy="96.1" r="2.9" fill="url(#g1)"/><circle cx="394.9" cy="204.8" r="2.2" fill="url(#g6)"/><circle cx="417.7" cy="112.9" r="1.9" fill="url(#g0)"/><circle cx="362.2" cy="97.7" r="2.8" fill="url(#g0)"/><circle cx="448.7" cy="205.7" r="2.8" fill="url(#g5)"/><circle cx="513.5" cy="81.6" r="3.2" fill="url(#g5)"/><circle cx="401.6" cy="216.1" r="2.0" fill="url(#g1)"/><circle cx="502.7" cy="180.0" r="3.3" fill="url(#g5)"/><circle cx="407.3" cy="172.9" r="3.8" fill="url(#g4)"/><circle cx="510.3" cy="82.9" r="2.9" fill="url(#g2)"/><circle cx="412.6" cy="158.8" r="3.1" fill="url(#g2)"/><circle cx="366.3" cy="114.1" r="2.7" fill="url(#g4)"/><circle cx="422.8" cy="194.0" r="2.0" fill="url(#g1)"/><circle cx="400.1" cy="90.8" r="1.8" fill="url(#g1)"/><circle cx="432.6" cy="163.2" r="3.8" fill="url(#g1)"/><circle cx="410.1" cy="98.4" r="3.1" fill="url(#g5)"/><circle cx="460.9" cy="139.5" r="3.8" fill="url(#g2)"/><circle cx="389.8" cy="165.9" r="3.6" fill="url(#g0)"/><circle cx="499.2" cy="131.6" r="3.1" fill="url(#g3)"/><circle cx="369.6" cy="126.9" r="3.8" fill="url(#g3)"/><circle cx="511.3" cy="116.8" r="2.2" fill="url(#g6)"/><circle cx="507.1" cy="192.9" r="2.6" fill="url(#g5)"/><circle cx="470.7" cy="194.5" r="3.2" fill="url(#g1)"/><circle cx="394.5" cy="162.2" r="3.3" fill="url(#g6)"/><circle cx="399.9" cy="187.5" r="1.8" fill="url(#g4)"/><circle cx="379.2" cy="184.5" r="2.4" fill="url(#g1)"/><circle cx="517.2" cy="94.6" r="2.0" fill="url(#g5)"/><circle cx="512.8" cy="172.8" r="2.2" fill="url(#g0)"/><circle cx="470.3" cy="182.5" r="3.0" fill="url(#g0)"/><circle cx="393.5" cy="126.2" r="3.3" fill="url(#g2)"/><circle cx="519.4" cy="100.6" r="3.7" fill="url(#g0)"/><circle cx="361.4" cy="206.9" r="3.4" fill="url(#g4)"/><circle cx="380.4" cy="200.7" r="1.8" fill="url(#g5)"/><circle cx="426.8" cy="168.3" r="2.3" fill="url(#g1)"/><circle cx="383.3" cy="202.4" r="4.0" fill="url(#g5)"/><circle cx="391.7" cy="177.5" r="1.8" fill="url(#g1)"/><circle cx="422.8" cy="154.4" r="3.5" fill="url(#g1)"/><circle cx="384.1" cy="198.0" r="2.7" fill="url(#g2)"/><circle cx="404.4" cy="187.0" r="2.1" fill="url(#g4)"/><circle cx="510.6" cy="146.4" r="3.9" fill="url(#g3)"/><circle cx="422.6" cy="155.5" r="3.6" fill="url(#g0)"/><circle cx="437.1" cy="194.7" r="3.0" fill="url(#g4)"/><circle cx="512.1" cy="198.3" r="3.1" fill="url(#g0)"/><circle cx="514.5" cy="150.8" r="3.1" fill="url(#g2)"/><circle cx="366.1" cy="79.4" r="2.6" fill="url(#g1)"/><circle cx="435.9" cy="133.8" r="3.6" fill="url(#g4)"/><circle cx="362.4" cy="101.6" r="3.8" fill="url(#g4)"/><circle cx="393.0" cy="143.8" r="2.1" fill="url(#g6)"/><circle cx="437.4" cy="93.6" r="2.7" fill="url(#g6)"/><circle cx="368.7" cy="185.9" r="1.9" fill="url(#g0)"/><circle cx="348.3" cy="117.8" r="3.4" fill="url(#g4)"/><circle cx="364.4" cy="179.2" r="2.1" fill="url(#g5)"/><circle cx="470.9" cy="175.1" r="3.7" fill="url(#g2)"/><circle cx="418.0" cy="151.5" r="2.2" fill="url(#g0)"/><circle cx="438.2" cy="195.7" r="3.1" fill="url(#g0)"/><circle cx="505.2" cy="165.0" r="2.6" fill="url(#g2)"/><circle cx="400.9" cy="205.6" r="2.3" fill="url(#g1)"/><circle cx="369.5" cy="111.6" r="3.4" fill="url(#g1)"/><circle cx="421.8" cy="208.1" r="3.0" fill="url(#g0)"/><circle cx="416.2" cy="172.9" r="1.8" fill="url(#g5)"/><circle cx="504.6" cy="211.9" r="2.1" fill="url(#g5)"/><circle cx="433.6" cy="173.0" r="2.2" fill="url(#g1)"/><circle cx="350.4" cy="183.5" r="3.1" fill="url(#g4)"/><circle cx="371.7" cy="104.1" r="2.2" fill="url(#g5)"/><circle cx="507.3" cy="91.8" r="1.9" fill="url(#g4)"/><circle cx="359.7" cy="92.0" r="2.7" fill="url(#g5)"/><circle cx="420.9" cy="161.3" r="1.8" fill="url(#g0)"/><circle cx="377.7" cy="141.1" r="3.4" fill="url(#g0)"/><circle cx="451.3" cy="91.7" r="3.5" fill="url(#g1)"/><circle cx="485.5" cy="175.6" r="3.7" fill="url(#g4)"/><circle cx="445.2" cy="105.0" r="3.1" fill="url(#g5)"/><circle cx="394.8" cy="94.7" r="3.4" fill="url(#g6)"/><circle cx="369.4" cy="124.1" r="3.0" fill="url(#g4)"/><circle cx="479.2" cy="134.5" r="3.4" fill="url(#g6)"/><circle cx="398.6" cy="92.6" r="3.8" fill="url(#g1)"/><circle cx="386.5" cy="208.6" r="3.3" fill="url(#g4)"/><circle cx="445.2" cy="152.0" r="2.7" fill="url(#g0)"/><circle cx="468.1" cy="183.4" r="4.0" fill="url(#g2)"/><circle cx="365.0" cy="111.3" r="2.8" fill="url(#g0)"/><circle cx="458.8" cy="80.2" r="2.4" fill="url(#g6)"/><circle cx="441.8" cy="148.5" r="3.9" fill="url(#g1)"/><circle cx="457.1" cy="190.0" r="2.0" fill="url(#g1)"/><circle cx="413.4" cy="207.8" r="2.6" fill="url(#g4)"/><circle cx="440.4" cy="160.7" r="2.7" fill="url(#g5)"/><circle cx="437.8" cy="160.9" r="2.6" fill="url(#g5)"/><circle cx="443.6" cy="117.7" r="3.4" fill="url(#g3)"/><circle cx="480.5" cy="159.2" r="3.2" fill="url(#g4)"/><circle cx="355.4" cy="122.0" r="2.7" fill="url(#g5)"/><circle cx="359.0" cy="203.2" r="2.7" fill="url(#g0)"/><circle cx="354.1" cy="92.2" r="3.6" fill="url(#g0)"/><circle cx="516.3" cy="191.0" r="3.1" fill="url(#g4)"/><circle cx="425.4" cy="106.7" r="1.9" fill="url(#g1)"/><circle cx="409.3" cy="97.9" r="2.7" fill="url(#g4)"/><circle cx="409.5" cy="181.0" r="3.6" fill="url(#g5)"/><circle cx="473.8" cy="111.5" r="2.1" fill="url(#g5)"/><circle cx="394.0" cy="162.5" r="3.4" fill="url(#g0)"/><circle cx="456.2" cy="182.3" r="2.2" fill="url(#g2)"/><circle cx="505.4" cy="199.5" r="1.9" fill="url(#g5)"/><circle cx="391.3" cy="82.4" r="1.9" fill="url(#g6)"/><circle cx="358.8" cy="90.6" r="3.3" fill="url(#g5)"/><circle cx="430.3" cy="127.4" r="2.5" fill="url(#g0)"/><circle cx="491.9" cy="88.9" r="2.1" fill="url(#g0)"/><circle cx="423.4" cy="181.5" r="2.7" fill="url(#g0)"/><circle cx="459.8" cy="214.7" r="2.5" fill="url(#g0)"/><circle cx="420.5" cy="129.5" r="2.0" fill="url(#g1)"/><circle cx="440.7" cy="138.1" r="3.0" fill="url(#g4)"/><circle cx="398.1" cy="185.3" r="2.0" fill="url(#g1)"/><circle cx="467.0" cy="146.7" r="3.5" fill="url(#g3)"/><circle cx="384.2" cy="169.1" r="2.5" fill="url(#g5)"/><circle cx="469.5" cy="157.0" r="3.8" fill="url(#g5)"/><circle cx="422.3" cy="189.1" r="2.5" fill="url(#g4)"/><circle cx="514.4" cy="179.0" r="2.9" fill="url(#g5)"/><circle cx="350.4" cy="171.8" r="3.1" fill="url(#g5)"/><circle cx="484.7" cy="153.0" r="3.6" fill="url(#g3)"/><circle cx="361.8" cy="141.2" r="3.7" fill="url(#g0)"/><circle cx="435.8" cy="153.5" r="3.0" fill="url(#g4)"/><circle cx="357.3" cy="153.9" r="3.5" fill="url(#g1)"/><circle cx="393.8" cy="93.2" r="2.5" fill="url(#g2)"/><circle cx="371.2" cy="181.2" r="3.2" fill="url(#g0)"/><circle cx="431.2" cy="203.5" r="2.5" fill="url(#g5)"/><circle cx="404.9" cy="211.8" r="3.3" fill="url(#g1)"/><circle cx="469.3" cy="204.5" r="2.7" fill="url(#g5)"/><circle cx="494.5" cy="189.5" r="3.6" fill="url(#g1)"/><circle cx="437.2" cy="176.3" r="3.6" fill="url(#g4)"/><circle cx="505.3" cy="112.5" r="2.2" fill="url(#g2)"/><circle cx="375.3" cy="106.8" r="2.7" fill="url(#g1)"/><circle cx="428.1" cy="179.2" r="2.5" fill="url(#g0)"/><circle cx="504.7" cy="182.3" r="1.8" fill="url(#g1)"/><circle cx="400.5" cy="105.9" r="2.6" fill="url(#g4)"/><circle cx="449.6" cy="109.5" r="2.2" fill="url(#g3)"/><circle cx="504.5" cy="207.6" r="3.2" fill="url(#g4)"/><circle cx="494.5" cy="145.4" r="2.7" fill="url(#g1)"/><circle cx="430.1" cy="109.1" r="1.9" fill="url(#g4)"/><circle cx="515.8" cy="188.0" r="3.5" fill="url(#g1)"/><circle cx="460.5" cy="111.4" r="1.8" fill="url(#g5)"/><circle cx="424.4" cy="112.6" r="2.7" fill="url(#g4)"/><circle cx="373.5" cy="122.9" r="2.4" fill="url(#g0)"/><circle cx="456.9" cy="215.3" r="2.4" fill="url(#g0)"/><circle cx="445.6" cy="103.2" r="2.2" fill="url(#g0)"/><circle cx="489.1" cy="90.0" r="2.4" fill="url(#g3)"/><circle cx="500.8" cy="174.1" r="2.0" fill="url(#g5)"/><circle cx="349.5" cy="104.5" r="2.2" fill="url(#g4)"/><circle cx="382.4" cy="153.4" r="3.0" fill="url(#g5)"/><circle cx="401.1" cy="134.5" r="3.0" fill="url(#g1)"/><circle cx="408.7" cy="173.2" r="2.0" fill="url(#g4)"/><circle cx="476.0" cy="186.6" r="2.1" fill="url(#g4)"/><circle cx="469.9" cy="144.0" r="2.4" fill="url(#g3)"/><circle cx="495.0" cy="194.8" r="3.4" fill="url(#g0)"/><circle cx="396.7" cy="130.4" r="3.0" fill="url(#g6)"/><circle cx="477.4" cy="155.1" r="2.0" fill="url(#g6)"/><circle cx="473.3" cy="124.0" r="3.9" fill="url(#g5)"/><circle cx="423.9" cy="131.3" r="2.0" fill="url(#g0)"/><circle cx="464.0" cy="176.1" r="2.2" fill="url(#g6)"/><circle cx="449.2" cy="91.1" r="2.3" fill="url(#g3)"/><circle cx="421.6" cy="184.7" r="2.6" fill="url(#g0)"/><circle cx="458.7" cy="184.1" r="3.6" fill="url(#g5)"/><circle cx="506.3" cy="164.4" r="3.4" fill="url(#g5)"/><circle cx="516.9" cy="187.3" r="3.3" fill="url(#g1)"/><circle cx="391.5" cy="104.7" r="2.5" fill="url(#g4)"/><circle cx="381.8" cy="124.5" r="2.4" fill="url(#g2)"/><circle cx="373.7" cy="184.1" r="3.8" fill="url(#g5)"/><circle cx="452.6" cy="149.3" r="3.1" fill="url(#g2)"/><circle cx="519.7" cy="175.9" r="3.9" fill="url(#g1)"/><circle cx="455.2" cy="105.9" r="2.0" fill="url(#g2)"/><circle cx="418.8" cy="124.6" r="2.0" fill="url(#g5)"/><circle cx="426.7" cy="95.8" r="3.9" fill="url(#g2)"/><circle cx="440.6" cy="155.8" r="3.0" fill="url(#g2)"/><circle cx="518.6" cy="191.1" r="3.1" fill="url(#g1)"/><circle cx="396.4" cy="202.0" r="2.3" fill="url(#g0)"/><circle cx="378.5" cy="154.0" r="2.0" fill="url(#g3)"/><circle cx="482.2" cy="206.6" r="4.0" fill="url(#g4)"/><circle cx="453.1" cy="166.7" r="3.5" fill="url(#g6)"/><circle cx="427.5" cy="98.4" r="2.7" fill="url(#g3)"/><circle cx="404.6" cy="96.8" r="2.3" fill="url(#g1)"/><circle cx="457.7" cy="83.9" r="3.3" fill="url(#g6)"/><circle cx="450.5" cy="143.3" r="2.7" fill="url(#g2)"/><circle cx="444.4" cy="134.7" r="2.4" fill="url(#g4)"/><circle cx="491.9" cy="196.3" r="2.7" fill="url(#g1)"/><circle cx="503.5" cy="151.0" r="3.0" fill="url(#g3)"/><circle cx="401.9" cy="86.2" r="3.4" fill="url(#g2)"/><circle cx="411.6" cy="123.0" r="3.5" fill="url(#g1)"/><circle cx="388.7" cy="194.8" r="2.3" fill="url(#g1)"/><circle cx="428.9" cy="93.2" r="3.8" fill="url(#g4)"/><circle cx="509.6" cy="199.7" r="4.0" fill="url(#g5)"/><circle cx="496.8" cy="136.6" r="3.6" fill="url(#g2)"/><circle cx="419.5" cy="95.6" r="2.0" fill="url(#g3)"/><circle cx="367.7" cy="152.6" r="3.9" fill="url(#g3)"/><circle cx="472.8" cy="82.0" r="2.2" fill="url(#g6)"/><circle cx="487.9" cy="133.3" r="2.6" fill="url(#g3)"/><circle cx="399.4" cy="141.2" r="2.5" fill="url(#g3)"/><circle cx="508.5" cy="213.1" r="2.8" fill="url(#g5)"/><circle cx="495.5" cy="173.9" r="1.9" fill="url(#g5)"/><circle cx="502.5" cy="80.9" r="3.2" fill="url(#g0)"/><circle cx="438.9" cy="111.2" r="3.9" fill="url(#g1)"/><circle cx="399.4" cy="191.1" r="3.9" fill="url(#g4)"/><circle cx="470.1" cy="97.2" r="3.3" fill="url(#g4)"/><circle cx="418.4" cy="102.0" r="3.7" fill="url(#g2)"/><circle cx="380.3" cy="103.6" r="2.3" fill="url(#g5)"/><circle cx="410.9" cy="169.7" r="3.7" fill="url(#g0)"/><circle cx="516.0" cy="201.8" r="2.2" fill="url(#g0)"/><circle cx="457.4" cy="91.1" r="4.0" fill="url(#g1)"/><circle cx="438.5" cy="84.9" r="3.1" fill="url(#g6)"/><circle cx="419.8" cy="156.9" r="2.2" fill="url(#g0)"/><circle cx="388.9" cy="117.1" r="3.0" fill="url(#g3)"/><circle cx="517.9" cy="83.3" r="2.8" fill="url(#g4)"/><circle cx="346.7" cy="201.3" r="1.9" fill="url(#g5)"/><circle cx="402.0" cy="145.2" r="1.9" fill="url(#g2)"/><circle cx="465.1" cy="150.3" r="3.9" fill="url(#g3)"/><circle cx="365.7" cy="138.6" r="3.3" fill="url(#g5)"/><circle cx="482.9" cy="187.5" r="2.3" fill="url(#g0)"/><circle cx="494.4" cy="161.7" r="2.4" fill="url(#g2)"/><circle cx="355.3" cy="140.4" r="3.7" fill="url(#g1)"/><circle cx="452.0" cy="189.5" r="2.9" fill="url(#g1)"/><circle cx="358.8" cy="203.5" r="3.1" fill="url(#g0)"/><circle cx="454.5" cy="86.1" r="2.7" fill="url(#g5)"/><circle cx="479.2" cy="147.2" r="3.2" fill="url(#g4)"/><circle cx="390.5" cy="100.7" r="3.3" fill="url(#g4)"/><circle cx="356.8" cy="135.2" r="2.6" fill="url(#g1)"/><circle cx="368.5" cy="182.6" r="3.1" fill="url(#g4)"/><circle cx="436.9" cy="214.2" r="1.8" fill="url(#g0)"/><circle cx="362.1" cy="155.2" r="2.8" fill="url(#g1)"/><circle cx="464.4" cy="177.3" r="3.9" fill="url(#g5)"/><circle cx="390.2" cy="154.6" r="2.3" fill="url(#g3)"/><circle cx="409.5" cy="125.0" r="4.0" fill="url(#g3)"/><circle cx="374.1" cy="159.2" r="4.0" fill="url(#g0)"/><circle cx="426.6" cy="132.7" r="3.7" fill="url(#g1)"/><circle cx="383.6" cy="126.5" r="2.2" fill="url(#g0)"/><circle cx="429.7" cy="133.7" r="3.1" fill="url(#g4)"/><circle cx="423.9" cy="215.3" r="3.3" fill="url(#g0)"/><circle cx="440.1" cy="136.3" r="1.9" fill="url(#g6)"/><circle cx="454.1" cy="150.0" r="3.4" fill="url(#g2)"/><circle cx="506.7" cy="177.0" r="2.4" fill="url(#g0)"/><circle cx="472.7" cy="185.5" r="2.1" fill="url(#g1)"/><ellipse cx="351" cy="88" rx="6.6" ry="8.8" fill="url(#g7)" opacity="0.81"/><ellipse cx="356" cy="112" rx="5.5" ry="7.7" fill="url(#g7)" opacity="0.63"/><ellipse cx="375" cy="82" rx="5.5" ry="4.4" fill="url(#g7)" opacity="0.54"/><ellipse cx="396" cy="86" rx="11.0" ry="7.7" fill="url(#g7)" opacity="0.95"/><ellipse cx="420" cy="98" rx="9.9" ry="6.6" fill="url(#g7)" opacity="0.81"/><ellipse cx="437" cy="92" rx="6.6" ry="8.8" fill="url(#g7)" opacity="0.72"/><ellipse cx="463" cy="84" rx="4.4" ry="5.5" fill="url(#g7)" opacity="0.72"/><ellipse cx="476" cy="84" rx="5.5" ry="5.5" fill="url(#g7)" opacity="0.90"/><ellipse cx="487" cy="95" rx="6.6" ry="6.6" fill="url(#g7)" opacity="0.81"/><ellipse cx="503" cy="111" rx="6.6" ry="8.8" fill="url(#g7)" opacity="0.95"/><ellipse cx="512" cy="101" rx="4.4" ry="7.7" fill="url(#g7)" opacity="0.81"/><ellipse cx="463" cy="118" rx="5.5" ry="6.6" fill="url(#g7)" opacity="0.54"/><ellipse cx="402" cy="129" rx="14.3" ry="8.8" fill="url(#g7)" opacity="0.95"/><ellipse cx="396" cy="152" rx="7.7" ry="9.9" fill="url(#g7)" opacity="0.95"/><ellipse cx="371" cy="147" rx="4.4" ry="4.4" fill="url(#g7)" opacity="0.54"/><ellipse cx="452" cy="130" rx="9.9" ry="6.6" fill="url(#g7)" opacity="0.90"/><ellipse cx="453" cy="150" rx="8.8" ry="8.8" fill="url(#g7)" opacity="0.90"/><ellipse cx="415" cy="160" rx="3.3" ry="3.3" fill="url(#g7)" opacity="0.72"/><ellipse cx="487" cy="146" rx="6.6" ry="11.0" fill="url(#g7)" opacity="0.90"/><ellipse cx="510" cy="152" rx="6.6" ry="6.6" fill="url(#g7)" opacity="0.90"/><ellipse cx="466" cy="140" rx="6.6" ry="8.8" fill="url(#g7)" opacity="0.63"/><ellipse cx="498" cy="130" rx="6.6" ry="6.6" fill="url(#g7)" opacity="0.63"/><ellipse cx="382" cy="188" rx="7.7" ry="5.5" fill="url(#g7)" opacity="0.95"/><ellipse cx="376" cy="197" rx="4.4" ry="3.3" fill="url(#g7)" opacity="0.81"/><ellipse cx="453" cy="181" rx="7.7" ry="5.5" fill="url(#g7)" opacity="0.72"/><ellipse cx="463" cy="172" rx="5.5" ry="4.4" fill="url(#g7)" opacity="0.72"/><ellipse cx="499" cy="180" rx="6.6" ry="4.4" fill="url(#g7)" opacity="0.81"/><ellipse cx="461" cy="195" rx="3.3" ry="4.4" fill="url(#g7)" opacity="0.63"/><circle cx="481.2" cy="150.2" r="2.9" fill="url(#g8)" opacity="0.85"/><circle cx="461.6" cy="86.2" r="3.2" fill="url(#g9)" opacity="0.85"/><circle cx="420.2" cy="132.2" r="2.9" fill="url(#g9)" opacity="0.85"/><circle cx="508.8" cy="105.3" r="2.8" fill="url(#g8)" opacity="0.85"/><circle cx="487.2" cy="144.4" r="3.7" fill="url(#g9)" opacity="0.85"/><circle cx="454.6" cy="134.9" r="2.7" fill="url(#g10)" opacity="0.85"/><circle cx="465.1" cy="109.9" r="3.2" fill="url(#g10)" opacity="0.85"/><circle cx="391.2" cy="91.4" r="3.7" fill="url(#g8)" opacity="0.85"/><circle cx="490.8" cy="99.3" r="3.1" fill="url(#g11)" opacity="0.85"/><circle cx="396.4" cy="135.4" r="3.4" fill="url(#g10)" opacity="0.85"/><circle cx="355.4" cy="86.4" r="3.5" fill="url(#g12)" opacity="0.85"/><circle cx="457.1" cy="128.7" r="2.5" fill="url(#g8)" opacity="0.85"/><circle cx="466.5" cy="136.0" r="2.9" fill="url(#g8)" opacity="0.85"/><circle cx="486.5" cy="97.5" r="2.4" fill="url(#g9)" opacity="0.85"/><circle cx="500.8" cy="137.9" r="3.8" fill="url(#g9)" opacity="0.85"/><circle cx="375.5" cy="80.5" r="2.4" fill="url(#g12)" opacity="0.85"/><circle cx="392.4" cy="80.1" r="2.3" fill="url(#g10)" opacity="0.85"/><circle cx="457.6" cy="126.8" r="3.8" fill="url(#g9)" opacity="0.85"/><circle cx="376.2" cy="83.3" r="2.7" fill="url(#g8)" opacity="0.85"/><circle cx="406.5" cy="137.7" r="3.1" fill="url(#g10)" opacity="0.85"/><circle cx="479.6" cy="79.6" r="2.3" fill="url(#g11)" opacity="0.85"/><circle cx="515.4" cy="107.8" r="3.5" fill="url(#g8)" opacity="0.85"/><circle cx="453.8" cy="125.5" r="3.5" fill="url(#g10)" opacity="0.85"/><circle cx="462.5" cy="136.0" r="2.6" fill="url(#g11)" opacity="0.85"/><circle cx="352.4" cy="84.4" r="3.2" fill="url(#g9)" opacity="0.85"/><circle cx="485.9" cy="98.2" r="2.4" fill="url(#g12)" opacity="0.85"/><circle cx="395.5" cy="135.6" r="2.3" fill="url(#g11)" opacity="0.85"/><circle cx="459.6" cy="152.0" r="3.9" fill="url(#g8)" opacity="0.85"/><circle cx="381.5" cy="185.1" r="3.2" fill="url(#g12)" opacity="0.85"/><circle cx="452.7" cy="127.3" r="4.0" fill="url(#g8)" opacity="0.85"/><circle cx="416.8" cy="97.4" r="3.0" fill="url(#g11)" opacity="0.85"/><circle cx="387.7" cy="134.9" r="3.8" fill="url(#g9)" opacity="0.85"/><circle cx="461.1" cy="140.8" r="3.6" fill="url(#g12)" opacity="0.85"/><circle cx="455.0" cy="181.7" r="3.7" fill="url(#g10)" opacity="0.85"/><circle cx="482.2" cy="93.6" r="2.2" fill="url(#g9)" opacity="0.85"/><circle cx="434.4" cy="94.3" r="2.4" fill="url(#g12)" opacity="0.85"/><circle cx="488.2" cy="148.0" r="3.2" fill="url(#g8)" opacity="0.85"/><circle cx="515.6" cy="135.2" r="2.5" fill="url(#g12)" opacity="0.85"/><circle cx="358.1" cy="113.6" r="3.9" fill="url(#g9)" opacity="0.85"/><circle cx="391.7" cy="161.6" r="2.4" fill="url(#g10)" opacity="0.85"/><circle cx="466.5" cy="127.2" r="3.9" fill="url(#g9)" opacity="0.85"/><circle cx="354.2" cy="102.7" r="3.6" fill="url(#g9)" opacity="0.85"/><circle cx="353.6" cy="89.8" r="2.7" fill="url(#g10)" opacity="0.85"/><circle cx="459.3" cy="129.5" r="3.2" fill="url(#g12)" opacity="0.85"/><circle cx="484.4" cy="167.6" r="3.6" fill="url(#g12)" opacity="0.85"/><circle cx="490.7" cy="144.5" r="3.3" fill="url(#g12)" opacity="0.85"/><circle cx="486.6" cy="139.7" r="3.5" fill="url(#g12)" opacity="0.85"/><circle cx="467.0" cy="169.1" r="3.8" fill="url(#g12)" opacity="0.85"/><circle cx="494.0" cy="127.4" r="3.1" fill="url(#g10)" opacity="0.85"/><circle cx="389.9" cy="85.8" r="2.9" fill="url(#g8)" opacity="0.85"/><circle cx="442.3" cy="123.8" r="3.9" fill="url(#g9)" opacity="0.85"/><circle cx="487.5" cy="90.5" r="2.6" fill="url(#g8)" opacity="0.85"/><circle cx="497.3" cy="181.1" r="2.5" fill="url(#g8)" opacity="0.85"/><circle cx="393.6" cy="148.8" r="2.5" fill="url(#g11)" opacity="0.85"/><circle cx="483.7" cy="150.4" r="3.1" fill="url(#g8)" opacity="0.85"/><circle cx="503.9" cy="121.4" r="3.6" fill="url(#g8)" opacity="0.85"/><circle cx="487.8" cy="76.8" r="3.6" fill="url(#g10)" opacity="0.85"/><circle cx="492.4" cy="134.4" r="2.8" fill="url(#g12)" opacity="0.85"/><circle cx="504.0" cy="110.9" r="2.9" fill="url(#g9)" opacity="0.85"/><circle cx="507.6" cy="102.9" r="3.3" fill="url(#g11)" opacity="0.85"/><circle cx="484.7" cy="153.1" r="3.6" fill="url(#g8)" opacity="0.85"/><circle cx="401.0" cy="82.8" r="3.5" fill="url(#g8)" opacity="0.85"/><circle cx="358.7" cy="108.2" r="2.8" fill="url(#g11)" opacity="0.85"/><circle cx="448.1" cy="153.6" r="2.3" fill="url(#g10)" opacity="0.85"/><circle cx="475.1" cy="106.6" r="2.6" fill="url(#g10)" opacity="0.85"/><circle cx="453.0" cy="85.6" r="2.8" fill="url(#g8)" opacity="0.85"/><circle cx="398.3" cy="82.6" r="3.3" fill="url(#g9)" opacity="0.85"/><circle cx="453.1" cy="137.5" r="2.7" fill="url(#g10)" opacity="0.85"/><circle cx="456.5" cy="142.1" r="3.1" fill="url(#g10)" opacity="0.85"/><circle cx="355.2" cy="96.9" r="3.2" fill="url(#g12)" opacity="0.85"/><circle cx="504.7" cy="148.0" r="3.2" fill="url(#g12)" opacity="0.85"/><circle cx="493.8" cy="147.9" r="2.6" fill="url(#g8)" opacity="0.85"/><circle cx="466.8" cy="139.8" r="3.4" fill="url(#g8)" opacity="0.85"/><circle cx="473.4" cy="85.0" r="3.6" fill="url(#g12)" opacity="0.85"/><circle cx="467.7" cy="149.7" r="2.7" fill="url(#g8)" opacity="0.85"/><circle cx="398.1" cy="142.4" r="2.4" fill="url(#g8)" opacity="0.85"/><circle cx="504.7" cy="112.2" r="4.0" fill="url(#g11)" opacity="0.85"/><circle cx="391.9" cy="189.5" r="2.3" fill="url(#g12)" opacity="0.85"/><circle cx="422.0" cy="94.8" r="3.2" fill="url(#g8)" opacity="0.85"/><circle cx="347.2" cy="87.0" r="3.0" fill="url(#g12)" opacity="0.85"/><circle cx="457.6" cy="124.2" r="3.7" fill="url(#g11)" opacity="0.85"/><circle cx="378.3" cy="81.5" r="2.7" fill="url(#g8)" opacity="0.85"/><circle cx="493.1" cy="132.1" r="3.5" fill="url(#g9)" opacity="0.85"/><circle cx="393.0" cy="157.0" r="3.1" fill="url(#g8)" opacity="0.85"/><circle cx="464.4" cy="90.6" r="3.0" fill="url(#g11)" opacity="0.85"/><circle cx="491.5" cy="130.5" r="2.8" fill="url(#g11)" opacity="0.85"/><circle cx="396.0" cy="123.5" r="2.9" fill="url(#g9)" opacity="0.85"/><circle cx="472.0" cy="83.4" r="2.3" fill="url(#g11)" opacity="0.85"/><circle cx="442.7" cy="82.9" r="3.4" fill="url(#g12)" opacity="0.85"/><circle cx="407.5" cy="127.6" r="2.7" fill="url(#g9)" opacity="0.85"/><circle cx="486.4" cy="139.6" r="2.6" fill="url(#g10)" opacity="0.85"/><circle cx="508.3" cy="155.5" r="2.9" fill="url(#g10)" opacity="0.85"/><circle cx="514.0" cy="152.0" r="3.8" fill="url(#g10)" opacity="0.85"/><circle cx="377.7" cy="189.4" r="2.5" fill="url(#g9)" opacity="0.85"/><circle cx="380.1" cy="80.9" r="3.1" fill="url(#g9)" opacity="0.85"/><circle cx="401.0" cy="93.0" r="3.4" fill="url(#g11)" opacity="0.85"/><circle cx="460.6" cy="81.7" r="2.7" fill="url(#g8)" opacity="0.85"/><circle cx="464.1" cy="86.0" r="2.6" fill="url(#g9)" opacity="0.85"/><circle cx="510.5" cy="122.0" r="2.9" fill="url(#g11)" opacity="0.85"/><circle cx="506.8" cy="102.2" r="3.1" fill="url(#g11)" opacity="0.85"/><circle cx="455.6" cy="140.2" r="2.3" fill="url(#g11)" opacity="0.85"/><circle cx="373.1" cy="82.0" r="3.8" fill="url(#g10)" opacity="0.85"/><circle cx="485.0" cy="134.7" r="3.5" fill="url(#g12)" opacity="0.85"/><circle cx="508.6" cy="103.0" r="3.7" fill="url(#g9)" opacity="0.85"/><circle cx="498.2" cy="127.9" r="3.9" fill="url(#g11)" opacity="0.85"/><circle cx="502.3" cy="115.9" r="3.1" fill="url(#g9)" opacity="0.85"/><circle cx="514.9" cy="97.0" r="3.2" fill="url(#g8)" opacity="0.85"/><circle cx="390.9" cy="130.5" r="3.5" fill="url(#g12)" opacity="0.85"/><circle cx="453.8" cy="99.6" r="2.9" fill="url(#g8)" opacity="0.85"/><circle cx="510.1" cy="96.4" r="2.7" fill="url(#g9)" opacity="0.85"/><circle cx="385.0" cy="80.9" r="2.3" fill="url(#g11)" opacity="0.85"/><circle cx="459.7" cy="129.2" r="3.3" fill="url(#g8)" opacity="0.85"/><circle cx="435.0" cy="85.0" r="3.3" fill="url(#g12)" opacity="0.85"/><circle cx="480.0" cy="139.6" r="2.9" fill="url(#g8)" opacity="0.85"/><circle cx="473.7" cy="77.2" r="2.5" fill="url(#g8)" opacity="0.85"/><circle cx="510.5" cy="124.1" r="3.6" fill="url(#g12)" opacity="0.85"/><circle cx="510.8" cy="108.4" r="3.1" fill="url(#g8)" opacity="0.85"/><circle cx="458.8" cy="128.3" r="2.5" fill="url(#g11)" opacity="0.85"/><circle cx="406.9" cy="126.5" r="3.6" fill="url(#g8)" opacity="0.85"/><circle cx="494.2" cy="131.3" r="2.7" fill="url(#g9)" opacity="0.85"/><circle cx="456.1" cy="152.3" r="3.1" fill="url(#g12)" opacity="0.85"/><circle cx="500.3" cy="126.6" r="2.6" fill="url(#g9)" opacity="0.85"/><circle cx="482.7" cy="147.0" r="3.0" fill="url(#g12)" opacity="0.85"/><circle cx="485.0" cy="162.0" r="3.0" fill="url(#g11)" opacity="0.85"/><circle cx="455.9" cy="163.0" r="2.8" fill="url(#g10)" opacity="0.85"/><circle cx="510.8" cy="106.2" r="2.5" fill="url(#g8)" opacity="0.85"/><circle cx="506.2" cy="89.6" r="3.7" fill="url(#g9)" opacity="0.85"/><circle cx="384.1" cy="126.3" r="2.6" fill="url(#g12)" opacity="0.85"/><circle cx="493.4" cy="130.7" r="2.4" fill="url(#g12)" opacity="0.85"/><circle cx="405.2" cy="151.8" r="3.7" fill="url(#g9)" opacity="0.85"/><circle cx="379.9" cy="190.6" r="2.7" fill="url(#g10)" opacity="0.85"/><circle cx="487.6" cy="133.1" r="3.7" fill="url(#g10)" opacity="0.85"/><circle cx="482.4" cy="115.6" r="3.5" fill="url(#g12)" opacity="0.85"/><circle cx="448.8" cy="175.8" r="3.0" fill="url(#g8)" opacity="0.85"/><circle cx="510.4" cy="94.3" r="2.7" fill="url(#g11)" opacity="0.85"/><circle cx="347.6" cy="89.5" r="3.5" fill="url(#g12)" opacity="0.85"/><circle cx="461.3" cy="90.8" r="2.3" fill="url(#g9)" opacity="0.85"/><circle cx="505.3" cy="158.8" r="2.8" fill="url(#g11)" opacity="0.85"/><circle cx="476.5" cy="93.1" r="3.5" fill="url(#g10)" opacity="0.85"/><circle cx="493.2" cy="82.9" r="3.5" fill="url(#g10)" opacity="0.85"/><circle cx="496.1" cy="104.9" r="3.0" fill="url(#g12)" opacity="0.85"/><circle cx="441.7" cy="92.1" r="2.9" fill="url(#g8)" opacity="0.85"/><circle cx="490.0" cy="160.3" r="3.6" fill="url(#g11)" opacity="0.85"/><circle cx="397.7" cy="122.6" r="2.9" fill="url(#g9)" opacity="0.85"/><circle cx="399.4" cy="130.1" r="2.6" fill="url(#g12)" opacity="0.85"/><circle cx="508.0" cy="112.5" r="2.4" fill="url(#g11)" opacity="0.85"/><circle cx="488.3" cy="144.9" r="3.4" fill="url(#g8)" opacity="0.85"/><circle cx="471.7" cy="151.3" r="3.6" fill="url(#g12)" opacity="0.85"/><circle cx="396.3" cy="88.8" r="2.6" fill="url(#g12)" opacity="0.85"/><circle cx="482.3" cy="145.7" r="3.8" fill="url(#g11)" opacity="0.85"/><circle cx="392.5" cy="88.7" r="3.7" fill="url(#g8)" opacity="0.85"/><circle cx="438.9" cy="91.2" r="3.3" fill="url(#g11)" opacity="0.85"/><circle cx="356.1" cy="118.5" r="3.8" fill="url(#g9)" opacity="0.85"/><circle cx="422.5" cy="94.4" r="3.7" fill="url(#g9)" opacity="0.85"/><circle cx="394.2" cy="155.0" r="3.4" fill="url(#g10)" opacity="0.85"/><circle cx="497.2" cy="151.5" r="3.3" fill="url(#g10)" opacity="0.85"/><circle cx="513.6" cy="148.3" r="3.2" fill="url(#g12)" opacity="0.85"/><circle cx="512.1" cy="157.5" r="2.2" fill="url(#g9)" opacity="0.85"/><circle cx="449.3" cy="113.4" r="3.2" fill="url(#g10)" opacity="0.85"/><circle cx="406.6" cy="125.3" r="2.6" fill="url(#g11)" opacity="0.85"/><circle cx="513.8" cy="159.1" r="3.4" fill="url(#g9)" opacity="0.85"/><circle cx="388.2" cy="86.1" r="3.4" fill="url(#g10)" opacity="0.85"/><circle cx="447.7" cy="122.5" r="3.2" fill="url(#g8)" opacity="0.85"/><circle cx="509.9" cy="119.1" r="3.6" fill="url(#g8)" opacity="0.85"/><circle cx="395.5" cy="129.4" r="3.5" fill="url(#g11)" opacity="0.85"/><circle cx="412.6" cy="89.0" r="3.3" fill="url(#g11)" opacity="0.85"/><circle cx="497.1" cy="154.3" r="3.1" fill="url(#g10)" opacity="0.85"/><circle cx="397.2" cy="80.6" r="3.7" fill="url(#g8)" opacity="0.85"/><circle cx="457.6" cy="141.8" r="2.8" fill="url(#g10)" opacity="0.85"/><circle cx="444.6" cy="136.8" r="4.0" fill="url(#g9)" opacity="0.85"/><circle cx="507.7" cy="110.4" r="3.1" fill="url(#g10)" opacity="0.85"/><circle cx="519.8" cy="78.9" r="3.7" fill="url(#g9)" opacity="0.85"/><circle cx="478.0" cy="145.5" r="2.3" fill="url(#g11)" opacity="0.85"/><circle cx="434.8" cy="101.8" r="3.4" fill="url(#g12)" opacity="0.85"/><circle cx="496.3" cy="92.2" r="2.3" fill="url(#g9)" opacity="0.85"/><circle cx="402.2" cy="134.3" r="3.7" fill="url(#g10)" opacity="0.85"/><circle cx="448.0" cy="134.3" r="3.1" fill="url(#g9)" opacity="0.85"/><circle cx="443.2" cy="150.2" r="2.2" fill="url(#g9)" opacity="0.85"/><circle cx="458.3" cy="150.7" r="3.9" fill="url(#g11)" opacity="0.85"/><circle cx="448.8" cy="144.6" r="2.3" fill="url(#g11)" opacity="0.85"/><circle cx="499.5" cy="102.1" r="3.2" fill="url(#g11)" opacity="0.85"/><circle cx="498.4" cy="128.8" r="4.0" fill="url(#g9)" opacity="0.85"/><circle cx="389.2" cy="93.5" r="3.1" fill="url(#g10)" opacity="0.85"/><circle cx="490.1" cy="96.5" r="2.8" fill="url(#g9)" opacity="0.85"/><circle cx="508.4" cy="106.0" r="3.1" fill="url(#g9)" opacity="0.85"/><circle cx="478.3" cy="87.2" r="3.1" fill="url(#g12)" opacity="0.85"/><circle cx="464.1" cy="89.8" r="2.5" fill="url(#g9)" opacity="0.85"/><circle cx="466.6" cy="120.4" r="3.4" fill="url(#g12)" opacity="0.85"/><circle cx="451.1" cy="144.3" r="3.4" fill="url(#g10)" opacity="0.85"/><circle cx="521.8" cy="152.1" r="3.2" fill="url(#g10)" opacity="0.85"/><circle cx="344.5" cy="85.3" r="3.9" fill="url(#g9)" opacity="0.85"/><circle cx="452.9" cy="134.6" r="2.8" fill="url(#g8)" opacity="0.85"/><circle cx="490.7" cy="146.0" r="3.7" fill="url(#g8)" opacity="0.85"/><circle cx="468.8" cy="97.9" r="3.3" fill="url(#g10)" opacity="0.85"/><circle cx="453.6" cy="146.1" r="2.9" fill="url(#g8)" opacity="0.85"/><circle cx="394.6" cy="88.8" r="2.3" fill="url(#g8)" opacity="0.85"/><circle cx="454.8" cy="166.8" r="2.9" fill="url(#g11)" opacity="0.85"/><circle cx="505.8" cy="156.8" r="3.5" fill="url(#g11)" opacity="0.85"/><circle cx="500.4" cy="125.7" r="3.3" fill="url(#g11)" opacity="0.85"/><circle cx="456.3" cy="127.5" r="2.6" fill="url(#g11)" opacity="0.85"/><circle cx="453.0" cy="184.8" r="2.8" fill="url(#g12)" opacity="0.85"/><circle cx="493.8" cy="140.2" r="2.7" fill="url(#g12)" opacity="0.85"/><circle cx="515.2" cy="103.1" r="3.2" fill="url(#g8)" opacity="0.85"/><circle cx="450.6" cy="153.4" r="2.7" fill="url(#g8)" opacity="0.85"/><circle cx="493.1" cy="144.7" r="3.3" fill="url(#g9)" opacity="0.85"/><circle cx="453.1" cy="148.2" r="4.0" fill="url(#g10)" opacity="0.85"/><circle cx="460.9" cy="165.2" r="2.3" fill="url(#g8)" opacity="0.85"/><circle cx="453.4" cy="183.3" r="2.8" fill="url(#g8)" opacity="0.85"/><circle cx="473.2" cy="116.3" r="2.5" fill="url(#g9)" opacity="0.85"/><circle cx="392.8" cy="88.3" r="2.4" fill="url(#g11)" opacity="0.85"/><circle cx="473.0" cy="89.6" r="2.8" fill="url(#g10)" opacity="0.85"/><circle cx="504.2" cy="151.0" r="3.7" fill="url(#g10)" opacity="0.85"/><circle cx="403.8" cy="126.2" r="3.5" fill="url(#g9)" opacity="0.85"/><circle cx="351.6" cy="80.8" r="3.1" fill="url(#g10)" opacity="0.85"/><circle cx="405.3" cy="130.9" r="3.7" fill="url(#g8)" opacity="0.85"/><circle cx="346.1" cy="81.7" r="3.2" fill="url(#g10)" opacity="0.85"/><circle cx="406.3" cy="122.1" r="2.9" fill="url(#g12)" opacity="0.85"/><circle cx="505.7" cy="147.1" r="3.9" fill="url(#g11)" opacity="0.85"/><circle cx="475.3" cy="89.6" r="3.1" fill="url(#g12)" opacity="0.85"/><circle cx="506.6" cy="96.9" r="3.8" fill="url(#g12)" opacity="0.85"/><circle cx="457.0" cy="137.5" r="2.3" fill="url(#g9)" opacity="0.85"/><circle cx="453.0" cy="146.7" r="2.9" fill="url(#g11)" opacity="0.85"/><circle cx="400.3" cy="123.6" r="2.7" fill="url(#g12)" opacity="0.85"/><circle cx="393.8" cy="84.2" r="3.4" fill="url(#g8)" opacity="0.85"/><circle cx="400.7" cy="156.0" r="3.0" fill="url(#g12)" opacity="0.85"/><circle cx="467.0" cy="142.9" r="3.3" fill="url(#g9)" opacity="0.85"/><circle cx="449.8" cy="125.9" r="3.8" fill="url(#g9)" opacity="0.85"/><circle cx="499.4" cy="110.3" r="3.9" fill="url(#g12)" opacity="0.85"/><circle cx="455.0" cy="131.9" r="2.7" fill="url(#g8)" opacity="0.85"/><circle cx="439.6" cy="81.0" r="2.6" fill="url(#g8)" opacity="0.85"/><circle cx="519.1" cy="139.1" r="2.6" fill="url(#g9)" opacity="0.85"/><circle cx="489.7" cy="150.3" r="3.7" fill="url(#g9)" opacity="0.85"/><circle cx="478.8" cy="100.0" r="3.4" fill="url(#g11)" opacity="0.85"/><circle cx="404.9" cy="142.1" r="2.3" fill="url(#g8)" opacity="0.85"/><circle cx="433.7" cy="94.6" r="2.4" fill="url(#g10)" opacity="0.85"/><circle cx="404.0" cy="89.5" r="3.5" fill="url(#g11)" opacity="0.85"/><circle cx="469.6" cy="135.2" r="2.2" fill="url(#g11)" opacity="0.85"/><circle cx="452.8" cy="149.0" r="2.5" fill="url(#g10)" opacity="0.85"/><circle cx="402.5" cy="121.0" r="4.0" fill="url(#g11)" opacity="0.85"/><circle cx="400.1" cy="157.5" r="3.6" fill="url(#g8)" opacity="0.85"/><circle cx="517.3" cy="152.3" r="2.7" fill="url(#g9)" opacity="0.85"/><circle cx="491.3" cy="143.2" r="2.4" fill="url(#g12)" opacity="0.85"/><circle cx="357.2" cy="84.0" r="3.7" fill="url(#g11)" opacity="0.85"/><circle cx="395.6" cy="146.2" r="3.9" fill="url(#g8)" opacity="0.85"/><circle cx="463.9" cy="114.9" r="3.4" fill="url(#g9)" opacity="0.85"/><circle cx="511.9" cy="93.4" r="3.0" fill="url(#g10)" opacity="0.85"/><circle cx="397.7" cy="130.5" r="3.8" fill="url(#g8)" opacity="0.85"/><circle cx="398.0" cy="148.2" r="3.2" fill="url(#g10)" opacity="0.85"/><circle cx="505.2" cy="114.5" r="3.2" fill="url(#g9)" opacity="0.85"/><circle cx="401.7" cy="131.9" r="3.9" fill="url(#g11)" opacity="0.85"/><circle cx="347.3" cy="91.8" r="3.5" fill="url(#g12)" opacity="0.85"/><circle cx="450.5" cy="182.3" r="3.8" fill="url(#g11)" opacity="0.85"/><circle cx="435.3" cy="90.9" r="3.4" fill="url(#g12)" opacity="0.85"/><circle cx="421.6" cy="93.7" r="3.7" fill="url(#g8)" opacity="0.85"/><circle cx="444.2" cy="152.3" r="3.0" fill="url(#g9)" opacity="0.85"/><circle cx="412.6" cy="160.6" r="3.7" fill="url(#g11)" opacity="0.85"/><circle cx="479.8" cy="117.5" r="3.1" fill="url(#g11)" opacity="0.85"/><circle cx="461.2" cy="113.7" r="2.2" fill="url(#g8)" opacity="0.85"/><circle cx="478.5" cy="91.9" r="3.9" fill="url(#g12)" opacity="0.85"/><circle cx="445.4" cy="85.5" r="3.3" fill="url(#g11)" opacity="0.85"/><circle cx="443.6" cy="93.1" r="3.5" fill="url(#g12)" opacity="0.85"/><circle cx="496.5" cy="105.4" r="3.5" fill="url(#g9)" opacity="0.85"/><circle cx="488.7" cy="152.3" r="3.5" fill="url(#g10)" opacity="0.85"/><circle cx="401.6" cy="123.0" r="2.9" fill="url(#g11)" opacity="0.85"/><circle cx="498.8" cy="134.0" r="2.9" fill="url(#g8)" opacity="0.85"/><circle cx="475.6" cy="127.2" r="3.4" fill="url(#g9)" opacity="0.85"/><circle cx="477.9" cy="84.2" r="3.5" fill="url(#g12)" opacity="0.85"/><circle cx="400.7" cy="149.7" r="3.2" fill="url(#g8)" opacity="0.85"/><circle cx="403.7" cy="97.9" r="3.4" fill="url(#g9)" opacity="0.85"/><circle cx="489.1" cy="152.7" r="3.4" fill="url(#g9)" opacity="0.85"/><circle cx="468.4" cy="136.6" r="2.9" fill="url(#g8)" opacity="0.85"/><ellipse cx="502.2" cy="148.3" rx="2.9" ry="2.7" fill="url(#g13)"/><ellipse cx="354.0" cy="81.2" rx="2.8" ry="2.7" fill="url(#g14)"/><ellipse cx="358.5" cy="94.1" rx="2.5" ry="2.1" fill="url(#g15)"/><ellipse cx="374.8" cy="118.2" rx="2.7" ry="2.3" fill="url(#g13)"/><ellipse cx="370.2" cy="197.8" rx="2.9" ry="2.9" fill="url(#g16)"/><ellipse cx="407.8" cy="144.5" rx="2.8" ry="3.0" fill="url(#g17)"/><ellipse cx="484.3" cy="101.6" rx="3.0" ry="2.8" fill="url(#g18)"/><ellipse cx="433.3" cy="81.6" rx="2.9" ry="2.4" fill="url(#g19)"/><ellipse cx="430.4" cy="208.9" rx="2.3" ry="2.1" fill="url(#g17)"/><ellipse cx="445.1" cy="119.1" rx="2.6" ry="2.4" fill="url(#g20)"/><ellipse cx="457.1" cy="147.7" rx="2.9" ry="2.6" fill="url(#g21)"/><ellipse cx="432.7" cy="167.0" rx="3.1" ry="3.0" fill="url(#g19)"/><ellipse cx="471.1" cy="203.5" rx="3.1" ry="3.2" fill="url(#g14)"/><ellipse cx="518.8" cy="213.7" rx="2.3" ry="2.4" fill="url(#g19)"/><ellipse cx="488.9" cy="173.7" rx="2.3" ry="2.2" fill="url(#g15)"/><ellipse cx="378.7" cy="196.6" rx="3.2" ry="2.6" fill="url(#g22)"/><ellipse cx="421.5" cy="78.7" rx="3.0" ry="3.1" fill="url(#g14)"/><ellipse cx="477.1" cy="94.9" rx="2.2" ry="2.1" fill="url(#g23)"/><ellipse cx="392.2" cy="207.9" rx="2.3" ry="2.4" fill="url(#g15)"/><ellipse cx="391.1" cy="189.6" rx="3.2" ry="2.7" fill="url(#g23)"/><ellipse cx="411.8" cy="156.4" rx="3.0" ry="2.5" fill="url(#g24)"/><ellipse cx="466.1" cy="178.7" rx="2.4" ry="2.5" fill="url(#g17)"/><ellipse cx="380.5" cy="172.0" rx="2.3" ry="2.2" fill="url(#g15)"/><ellipse cx="373.1" cy="110.8" rx="2.3" ry="1.9" fill="url(#g25)"/><ellipse cx="483.1" cy="97.6" rx="2.5" ry="2.5" fill="url(#g20)"/><ellipse cx="417.6" cy="92.0" rx="3.1" ry="3.3" fill="url(#g26)"/><ellipse cx="447.9" cy="100.9" rx="3.0" ry="2.7" fill="url(#g27)"/><ellipse cx="408.1" cy="216.2" rx="2.6" ry="2.7" fill="url(#g17)"/><ellipse cx="423.3" cy="147.6" rx="3.0" ry="3.1" fill="url(#g28)"/><ellipse cx="349.0" cy="113.4" rx="2.9" ry="2.9" fill="url(#g29)"/><ellipse cx="362.3" cy="164.6" rx="2.9" ry="2.7" fill="url(#g17)"/><ellipse cx="370.9" cy="101.1" rx="2.8" ry="2.9" fill="url(#g25)"/><ellipse cx="368.9" cy="182.0" rx="2.4" ry="2.0" fill="url(#g19)"/><ellipse cx="460.5" cy="117.6" rx="3.1" ry="3.2" fill="url(#g25)"/><ellipse cx="399.8" cy="115.3" rx="2.8" ry="2.6" fill="url(#g26)"/><ellipse cx="441.7" cy="157.4" rx="2.9" ry="3.1" fill="url(#g21)"/><ellipse cx="367.0" cy="97.7" rx="2.6" ry="2.9" fill="url(#g13)"/><ellipse cx="455.8" cy="115.9" rx="2.5" ry="2.4" fill="url(#g23)"/><ellipse cx="462.9" cy="100.9" rx="2.8" ry="2.6" fill="url(#g20)"/><ellipse cx="360.8" cy="85.7" rx="2.9" ry="2.6" fill="url(#g22)"/><ellipse cx="497.3" cy="152.7" rx="3.1" ry="3.3" fill="url(#g24)"/><ellipse cx="346.7" cy="126.8" rx="3.2" ry="2.6" fill="url(#g27)"/><ellipse cx="456.7" cy="107.1" rx="3.2" ry="2.8" fill="url(#g17)"/><ellipse cx="492.8" cy="76.4" rx="2.8" ry="2.5" fill="url(#g13)"/><ellipse cx="437.7" cy="158.2" rx="2.9" ry="3.0" fill="url(#g19)"/><ellipse cx="377.1" cy="217.3" rx="2.3" ry="1.9" fill="url(#g16)"/><ellipse cx="441.4" cy="94.5" rx="3.0" ry="2.7" fill="url(#g20)"/><ellipse cx="479.0" cy="79.7" rx="2.3" ry="1.9" fill="url(#g21)"/><ellipse cx="465.8" cy="195.5" rx="3.1" ry="2.9" fill="url(#g25)"/><ellipse cx="458.0" cy="79.0" rx="2.9" ry="2.6" fill="url(#g24)"/><ellipse cx="354.7" cy="194.8" rx="2.5" ry="2.5" fill="url(#g19)"/><ellipse cx="495.5" cy="114.4" rx="3.1" ry="3.2" fill="url(#g20)"/><ellipse cx="510.1" cy="192.4" rx="2.3" ry="2.1" fill="url(#g15)"/><ellipse cx="362.4" cy="202.7" rx="2.6" ry="2.6" fill="url(#g17)"/><ellipse cx="345.7" cy="122.3" rx="2.4" ry="2.6" fill="url(#g25)"/><ellipse cx="380.8" cy="105.9" rx="2.2" ry="2.0" fill="url(#g27)"/><ellipse cx="516.8" cy="105.9" rx="2.9" ry="2.6" fill="url(#g19)"/><ellipse cx="465.8" cy="126.2" rx="2.4" ry="1.9" fill="url(#g21)"/><ellipse cx="508.1" cy="156.1" rx="3.2" ry="2.8" fill="url(#g23)"/><ellipse cx="432.4" cy="184.8" rx="3.0" ry="3.2" fill="url(#g27)"/><ellipse cx="444.3" cy="140.4" rx="2.5" ry="2.1" fill="url(#g21)"/><ellipse cx="374.4" cy="190.5" rx="2.7" ry="2.3" fill="url(#g17)"/><ellipse cx="456.2" cy="142.2" rx="2.6" ry="2.4" fill="url(#g14)"/><ellipse cx="520.9" cy="142.3" rx="2.3" ry="2.0" fill="url(#g24)"/><ellipse cx="476.5" cy="99.2" rx="2.7" ry="2.4" fill="url(#g14)"/><ellipse cx="407.8" cy="166.2" rx="2.7" ry="2.3" fill="url(#g16)"/><ellipse cx="389.7" cy="218.7" rx="2.3" ry="2.1" fill="url(#g16)"/><ellipse cx="521.3" cy="168.3" rx="3.0" ry="3.0" fill="url(#g25)"/><ellipse cx="472.5" cy="114.6" rx="2.6" ry="2.1" fill="url(#g19)"/><ellipse cx="482.0" cy="199.2" rx="2.6" ry="2.6" fill="url(#g13)"/><ellipse cx="425.7" cy="156.8" rx="2.5" ry="2.6" fill="url(#g17)"/><ellipse cx="460.9" cy="111.4" rx="2.7" ry="2.5" fill="url(#g20)"/><ellipse cx="351.4" cy="101.8" rx="2.5" ry="2.3" fill="url(#g20)"/><ellipse cx="437.7" cy="167.1" rx="3.2" ry="3.2" fill="url(#g27)"/><ellipse cx="373.4" cy="135.9" rx="2.9" ry="2.8" fill="url(#g19)"/><ellipse cx="431.1" cy="174.0" rx="2.7" ry="2.7" fill="url(#g15)"/><ellipse cx="362.2" cy="100.6" rx="3.2" ry="3.3" fill="url(#g27)"/><ellipse cx="427.9" cy="150.5" rx="2.3" ry="2.1" fill="url(#g17)"/><ellipse cx="374.8" cy="170.4" rx="2.8" ry="2.3" fill="url(#g25)"/><ellipse cx="444.7" cy="213.9" rx="3.1" ry="3.0" fill="url(#g27)"/><ellipse cx="514.7" cy="165.8" rx="2.5" ry="2.4" fill="url(#g16)"/><ellipse cx="359.1" cy="150.6" rx="3.1" ry="3.1" fill="url(#g15)"/><ellipse cx="392.0" cy="115.7" rx="2.8" ry="2.8" fill="url(#g17)"/><ellipse cx="356.8" cy="174.9" rx="2.7" ry="2.7" fill="url(#g25)"/><ellipse cx="384.7" cy="218.1" rx="2.4" ry="2.3" fill="url(#g13)"/><ellipse cx="442.6" cy="175.8" rx="3.0" ry="3.0" fill="url(#g25)"/><ellipse cx="387.4" cy="210.9" rx="2.4" ry="2.1" fill="url(#g15)"/><ellipse cx="472.4" cy="148.7" rx="2.6" ry="2.3" fill="url(#g14)"/><ellipse cx="363.3" cy="138.3" rx="3.2" ry="2.9" fill="url(#g25)"/><ellipse cx="347.7" cy="105.9" rx="2.3" ry="2.3" fill="url(#g19)"/><ellipse cx="483.7" cy="91.7" rx="2.8" ry="2.5" fill="url(#g18)"/><ellipse cx="380.1" cy="124.7" rx="3.2" ry="3.3" fill="url(#g25)"/><ellipse cx="517.2" cy="99.3" rx="2.7" ry="2.3" fill="url(#g22)"/><ellipse cx="418.0" cy="152.1" rx="3.1" ry="2.8" fill="url(#g28)"/><ellipse cx="351.4" cy="156.5" rx="2.3" ry="2.4" fill="url(#g27)"/><ellipse cx="355.8" cy="121.6" rx="2.3" ry="2.5" fill="url(#g23)"/><ellipse cx="401.2" cy="218.8" rx="3.2" ry="2.6" fill="url(#g16)"/><ellipse cx="422.0" cy="118.6" rx="3.2" ry="2.9" fill="url(#g19)"/><ellipse cx="402.4" cy="118.8" rx="3.0" ry="2.9" fill="url(#g28)"/><ellipse cx="372.3" cy="121.0" rx="3.0" ry="2.8" fill="url(#g15)"/><ellipse cx="384.4" cy="81.2" rx="3.0" ry="3.1" fill="url(#g16)"/><ellipse cx="484.8" cy="118.5" rx="2.9" ry="2.7" fill="url(#g25)"/><ellipse cx="391.9" cy="197.4" rx="2.5" ry="2.2" fill="url(#g19)"/><ellipse cx="517.5" cy="154.7" rx="2.3" ry="2.0" fill="url(#g21)"/><ellipse cx="428.7" cy="101.0" rx="2.9" ry="2.8" fill="url(#g29)"/><ellipse cx="375.6" cy="175.3" rx="2.3" ry="2.3" fill="url(#g25)"/><ellipse cx="520.6" cy="177.2" rx="2.5" ry="2.7" fill="url(#g24)"/><ellipse cx="346.8" cy="78.6" rx="2.7" ry="3.0" fill="url(#g19)"/><ellipse cx="515.7" cy="92.3" rx="2.6" ry="2.3" fill="url(#g15)"/><ellipse cx="463.4" cy="172.6" rx="3.2" ry="3.0" fill="url(#g22)"/><ellipse cx="348.5" cy="205.2" rx="2.2" ry="2.4" fill="url(#g16)"/><ellipse cx="399.6" cy="129.4" rx="2.4" ry="2.6" fill="url(#g26)"/><ellipse cx="485.7" cy="153.7" rx="3.1" ry="3.2" fill="url(#g29)"/><ellipse cx="455.8" cy="84.0" rx="2.3" ry="2.0" fill="url(#g20)"/><ellipse cx="455.1" cy="97.1" rx="2.8" ry="2.4" fill="url(#g13)"/><ellipse cx="491.3" cy="186.8" rx="2.5" ry="2.3" fill="url(#g16)"/><ellipse cx="459.9" cy="168.3" rx="2.9" ry="3.1" fill="url(#g17)"/><ellipse cx="518.8" cy="194.7" rx="2.4" ry="2.4" fill="url(#g19)"/><ellipse cx="471.9" cy="127.4" rx="3.2" ry="3.0" fill="url(#g25)"/><ellipse cx="345.5" cy="219.2" rx="2.4" ry="2.0" fill="url(#g17)"/><ellipse cx="450.2" cy="218.1" rx="2.4" ry="2.6" fill="url(#g13)"/><ellipse cx="423.3" cy="105.7" rx="2.6" ry="2.5" fill="url(#g13)"/><ellipse cx="346.6" cy="98.8" rx="2.6" ry="2.8" fill="url(#g21)"/><ellipse cx="408.4" cy="125.8" rx="2.6" ry="2.5" fill="url(#g23)"/><ellipse cx="391.6" cy="201.8" rx="2.8" ry="2.5" fill="url(#g27)"/><ellipse cx="522.9" cy="216.1" rx="3.2" ry="2.8" fill="url(#g27)"/><ellipse cx="372.7" cy="142.0" rx="2.3" ry="2.5" fill="url(#g24)"/><ellipse cx="433.2" cy="120.9" rx="2.8" ry="2.2" fill="url(#g14)"/><ellipse cx="484.2" cy="107.2" rx="2.4" ry="2.3" fill="url(#g23)"/><ellipse cx="487.5" cy="185.6" rx="2.5" ry="2.1" fill="url(#g24)"/><ellipse cx="365.0" cy="191.4" rx="2.5" ry="2.5" fill="url(#g13)"/><ellipse cx="515.6" cy="110.1" rx="2.7" ry="2.5" fill="url(#g19)"/><ellipse cx="463.0" cy="184.5" rx="2.9" ry="2.8" fill="url(#g25)"/><ellipse cx="499.4" cy="95.2" rx="3.1" ry="2.8" fill="url(#g15)"/><ellipse cx="380.0" cy="84.7" rx="2.4" ry="2.2" fill="url(#g24)"/><ellipse cx="468.7" cy="99.3" rx="3.2" ry="3.0" fill="url(#g16)"/><ellipse cx="422.0" cy="160.4" rx="2.6" ry="2.7" fill="url(#g19)"/><ellipse cx="514.1" cy="103.2" rx="2.3" ry="2.2" fill="url(#g21)"/><ellipse cx="484.0" cy="82.9" rx="3.0" ry="2.9" fill="url(#g18)"/><ellipse cx="358.1" cy="196.4" rx="2.3" ry="2.5" fill="url(#g17)"/><ellipse cx="503.0" cy="107.2" rx="2.4" ry="2.6" fill="url(#g29)"/><ellipse cx="470.3" cy="168.8" rx="2.3" ry="2.0" fill="url(#g17)"/><ellipse cx="519.0" cy="146.8" rx="2.9" ry="2.9" fill="url(#g24)"/><ellipse cx="409.4" cy="201.7" rx="2.9" ry="2.9" fill="url(#g24)"/><ellipse cx="408.4" cy="134.1" rx="3.0" ry="2.7" fill="url(#g18)"/><ellipse cx="521.0" cy="133.1" rx="2.8" ry="2.6" fill="url(#g15)"/><ellipse cx="443.5" cy="169.8" rx="3.1" ry="3.1" fill="url(#g15)"/><ellipse cx="472.6" cy="131.7" rx="2.9" ry="3.1" fill="url(#g15)"/><ellipse cx="411.6" cy="101.1" rx="2.3" ry="2.3" fill="url(#g15)"/><ellipse cx="455.8" cy="123.1" rx="2.4" ry="2.3" fill="url(#g15)"/><ellipse cx="499.4" cy="193.8" rx="2.9" ry="2.6" fill="url(#g14)"/><ellipse cx="407.2" cy="89.9" rx="2.6" ry="2.5" fill="url(#g21)"/><ellipse cx="442.5" cy="196.4" rx="3.1" ry="2.6" fill="url(#g13)"/><ellipse cx="493.8" cy="95.0" rx="2.7" ry="2.8" fill="url(#g22)"/><ellipse cx="517.4" cy="141.6" rx="2.6" ry="2.6" fill="url(#g24)"/><ellipse cx="427.7" cy="97.4" rx="2.6" ry="2.2" fill="url(#g22)"/><ellipse cx="386.1" cy="102.4" rx="2.3" ry="2.0" fill="url(#g16)"/><ellipse cx="393.7" cy="153.8" rx="2.6" ry="2.1" fill="url(#g21)"/><ellipse cx="507.0" cy="138.6" rx="2.6" ry="2.7" fill="url(#g17)"/><ellipse cx="424.5" cy="94.5" rx="2.4" ry="2.1" fill="url(#g18)"/><ellipse cx="520.1" cy="77.5" rx="2.3" ry="2.3" fill="url(#g19)"/><ellipse cx="395.0" cy="145.5" rx="3.0" ry="2.5" fill="url(#g23)"/><ellipse cx="425.1" cy="176.8" rx="2.6" ry="2.1" fill="url(#g25)"/><ellipse cx="355.2" cy="117.8" rx="2.9" ry="3.1" fill="url(#g27)"/><ellipse cx="366.3" cy="84.4" rx="3.0" ry="3.1" fill="url(#g16)"/><ellipse cx="353.1" cy="168.6" rx="2.4" ry="2.4" fill="url(#g13)"/><ellipse cx="516.5" cy="160.9" rx="2.8" ry="2.6" fill="url(#g17)"/><ellipse cx="378.7" cy="163.4" rx="2.4" ry="2.2" fill="url(#g27)"/><ellipse cx="432.2" cy="116.3" rx="2.8" ry="2.8" fill="url(#g25)"/><ellipse cx="487.8" cy="113.4" rx="2.7" ry="2.5" fill="url(#g16)"/><ellipse cx="398.2" cy="82.2" rx="2.8" ry="2.4" fill="url(#g23)"/><ellipse cx="429.4" cy="180.3" rx="2.4" ry="2.4" fill="url(#g17)"/><ellipse cx="407.0" cy="148.8" rx="2.9" ry="2.5" fill="url(#g21)"/><ellipse cx="398.7" cy="149.6" rx="2.3" ry="2.5" fill="url(#g18)"/><ellipse cx="347.7" cy="131.3" rx="2.4" ry="2.2" fill="url(#g19)"/><ellipse cx="364.0" cy="144.4" rx="2.9" ry="2.9" fill="url(#g27)"/><ellipse cx="438.6" cy="206.4" rx="2.8" ry="2.6" fill="url(#g17)"/><ellipse cx="500.1" cy="203.9" rx="2.5" ry="2.3" fill="url(#g13)"/><ellipse cx="411.5" cy="84.6" rx="3.2" ry="3.0" fill="url(#g15)"/><ellipse cx="509.7" cy="102.4" rx="2.4" ry="2.3" fill="url(#g21)"/><ellipse cx="493.6" cy="175.8" rx="2.6" ry="2.8" fill="url(#g15)"/><ellipse cx="488.0" cy="143.5" rx="2.9" ry="2.5" fill="url(#g23)"/><ellipse cx="513.3" cy="208.5" rx="3.0" ry="2.8" fill="url(#g24)"/><ellipse cx="409.3" cy="153.0" rx="2.4" ry="2.6" fill="url(#g27)"/><ellipse cx="420.4" cy="205.0" rx="2.3" ry="2.0" fill="url(#g19)"/><ellipse cx="496.7" cy="133.2" rx="3.1" ry="2.8" fill="url(#g20)"/><ellipse cx="409.3" cy="121.2" rx="3.0" ry="2.6" fill="url(#g28)"/><ellipse cx="463.9" cy="76.6" rx="2.5" ry="2.3" fill="url(#g16)"/><ellipse cx="474.4" cy="192.6" rx="2.9" ry="2.9" fill="url(#g13)"/><ellipse cx="383.8" cy="208.7" rx="2.3" ry="1.8" fill="url(#g13)"/><ellipse cx="490.8" cy="104.0" rx="2.4" ry="2.4" fill="url(#g24)"/><ellipse cx="377.0" cy="106.9" rx="3.2" ry="3.3" fill="url(#g17)"/><ellipse cx="406.1" cy="209.6" rx="2.2" ry="2.0" fill="url(#g13)"/><ellipse cx="492.6" cy="82.1" rx="3.2" ry="3.2" fill="url(#g24)"/><ellipse cx="498.1" cy="119.3" rx="3.2" ry="3.3" fill="url(#g22)"/><ellipse cx="345.9" cy="200.1" rx="2.5" ry="2.0" fill="url(#g16)"/><ellipse cx="510.7" cy="133.0" rx="3.1" ry="3.3" fill="url(#g26)"/><ellipse cx="407.8" cy="101.4" rx="2.7" ry="2.4" fill="url(#g26)"/><ellipse cx="435.7" cy="199.8" rx="2.5" ry="2.3" fill="url(#g15)"/><ellipse cx="439.2" cy="153.1" rx="3.2" ry="2.6" fill="url(#g18)"/><ellipse cx="382.7" cy="96.8" rx="2.4" ry="2.4" fill="url(#g28)"/><ellipse cx="386.0" cy="119.3" rx="2.6" ry="2.2" fill="url(#g13)"/><ellipse cx="392.0" cy="108.5" rx="2.9" ry="2.8" fill="url(#g15)"/><ellipse cx="476.4" cy="210.3" rx="2.4" ry="2.2" fill="url(#g25)"/><ellipse cx="417.7" cy="84.4" rx="2.5" ry="2.6" fill="url(#g13)"/><ellipse cx="359.9" cy="154.8" rx="2.8" ry="2.6" fill="url(#g27)"/><ellipse cx="387.4" cy="109.2" rx="2.9" ry="2.7" fill="url(#g28)"/><ellipse cx="364.6" cy="112.4" rx="3.1" ry="2.7" fill="url(#g16)"/><ellipse cx="385.2" cy="192.3" rx="3.2" ry="2.7" fill="url(#g22)"/><ellipse cx="484.6" cy="147.7" rx="2.5" ry="2.6" fill="url(#g20)"/><ellipse cx="442.1" cy="183.0" rx="2.6" ry="2.8" fill="url(#g16)"/><ellipse cx="449.4" cy="86.8" rx="3.2" ry="3.1" fill="url(#g26)"/><ellipse cx="427.8" cy="216.0" rx="2.7" ry="2.3" fill="url(#g16)"/><ellipse cx="447.8" cy="170.3" rx="2.4" ry="2.6" fill="url(#g25)"/><ellipse cx="352.1" cy="203.5" rx="2.5" ry="2.5" fill="url(#g15)"/><ellipse cx="443.4" cy="207.2" rx="2.4" ry="2.5" fill="url(#g23)"/><ellipse cx="413.4" cy="169.0" rx="2.5" ry="2.2" fill="url(#g25)"/><ellipse cx="459.9" cy="123.0" rx="2.5" ry="2.3" fill="url(#g29)"/><ellipse cx="436.3" cy="216.7" rx="2.7" ry="2.2" fill="url(#g15)"/><ellipse cx="444.6" cy="111.9" rx="2.3" ry="2.1" fill="url(#g25)"/><ellipse cx="347.5" cy="136.7" rx="2.9" ry="3.0" fill="url(#g16)"/><ellipse cx="417.7" cy="105.3" rx="3.1" ry="3.2" fill="url(#g25)"/><ellipse cx="512.4" cy="150.4" rx="2.6" ry="2.7" fill="url(#g22)"/><ellipse cx="449.5" cy="131.6" rx="2.4" ry="2.4" fill="url(#g29)"/><ellipse cx="509.1" cy="185.7" rx="2.8" ry="2.8" fill="url(#g19)"/><ellipse cx="469.8" cy="216.3" rx="2.4" ry="2.7" fill="url(#g15)"/><ellipse cx="394.2" cy="76.0" rx="3.0" ry="2.4" fill="url(#g23)"/><ellipse cx="462.8" cy="202.9" rx="2.6" ry="2.8" fill="url(#g16)"/><ellipse cx="466.6" cy="171.0" rx="2.3" ry="2.3" fill="url(#g22)"/><ellipse cx="441.5" cy="190.4" rx="2.5" ry="2.1" fill="url(#g16)"/><ellipse cx="358.9" cy="181.0" rx="2.5" ry="2.1" fill="url(#g17)"/><ellipse cx="450.6" cy="143.8" rx="2.9" ry="2.5" fill="url(#g23)"/><ellipse cx="403.9" cy="190.3" rx="2.6" ry="2.2" fill="url(#g16)"/><ellipse cx="441.5" cy="138.1" rx="2.3" ry="2.4" fill="url(#g21)"/><ellipse cx="435.8" cy="177.5" rx="2.5" ry="2.3" fill="url(#g25)"/><ellipse cx="493.5" cy="192.7" rx="2.6" ry="2.7" fill="url(#g27)"/><ellipse cx="470.7" cy="110.8" rx="3.1" ry="3.1" fill="url(#g22)"/><ellipse cx="343.3" cy="93.0" rx="2.9" ry="2.6" fill="url(#g13)"/><ellipse cx="357.1" cy="143.6" rx="2.6" ry="2.4" fill="url(#g13)"/><ellipse cx="479.1" cy="138.9" rx="2.3" ry="2.3" fill="url(#g20)"/><ellipse cx="500.2" cy="127.3" rx="3.0" ry="2.7" fill="url(#g29)"/><ellipse cx="366.7" cy="158.6" rx="2.7" ry="2.3" fill="url(#g18)"/><ellipse cx="395.4" cy="180.2" rx="2.8" ry="2.7" fill="url(#g15)"/><ellipse cx="386.5" cy="214.8" rx="2.3" ry="2.4" fill="url(#g15)"/><ellipse cx="447.6" cy="190.0" rx="2.5" ry="2.6" fill="url(#g13)"/><ellipse cx="503.7" cy="76.1" rx="3.2" ry="2.9" fill="url(#g13)"/><ellipse cx="517.2" cy="168.8" rx="3.2" ry="3.2" fill="url(#g19)"/><ellipse cx="384.9" cy="143.8" rx="3.0" ry="2.7" fill="url(#g28)"/><ellipse cx="397.4" cy="186.9" rx="2.7" ry="2.4" fill="url(#g17)"/><ellipse cx="415.1" cy="88.0" rx="2.2" ry="2.0" fill="url(#g20)"/><ellipse cx="503.1" cy="123.2" rx="2.3" ry="2.4" fill="url(#g26)"/><ellipse cx="366.6" cy="162.5" rx="2.4" ry="2.1" fill="url(#g19)"/><ellipse cx="514.9" cy="175.2" rx="2.7" ry="2.6" fill="url(#g13)"/><ellipse cx="459.2" cy="193.8" rx="3.0" ry="3.1" fill="url(#g13)"/><ellipse cx="399.7" cy="100.4" rx="3.1" ry="2.8" fill="url(#g19)"/><ellipse cx="489.0" cy="211.7" rx="2.3" ry="2.3" fill="url(#g25)"/><ellipse cx="518.8" cy="150.4" rx="2.5" ry="2.0" fill="url(#g25)"/><ellipse cx="520.5" cy="93.2" rx="2.3" ry="2.1" fill="url(#g13)"/><ellipse cx="438.3" cy="109.7" rx="2.3" ry="2.5" fill="url(#g23)"/><ellipse cx="412.4" cy="79.3" rx="3.0" ry="2.8" fill="url(#g24)"/><ellipse cx="463.4" cy="86.4" rx="3.0" ry="2.4" fill="url(#g21)"/><ellipse cx="395.3" cy="90.3" rx="2.5" ry="2.1" fill="url(#g29)"/><ellipse cx="468.3" cy="106.9" rx="3.2" ry="2.9" fill="url(#g23)"/><ellipse cx="442.9" cy="80.5" rx="2.4" ry="2.7" fill="url(#g19)"/><ellipse cx="445.0" cy="124.8" rx="2.9" ry="3.0" fill="url(#g28)"/><ellipse cx="396.5" cy="200.4" rx="2.9" ry="2.5" fill="url(#g25)"/><ellipse cx="354.2" cy="146.1" rx="2.4" ry="2.4" fill="url(#g13)"/><ellipse cx="373.4" cy="147.3" rx="3.0" ry="3.1" fill="url(#g25)"/><ellipse cx="394.6" cy="129.9" rx="2.4" ry="2.1" fill="url(#g18)"/><ellipse cx="389.6" cy="177.7" rx="2.7" ry="2.5" fill="url(#g13)"/><ellipse cx="417.9" cy="163.1" rx="2.9" ry="3.1" fill="url(#g17)"/><ellipse cx="449.3" cy="177.7" rx="3.1" ry="2.9" fill="url(#g24)"/><ellipse cx="468.0" cy="155.6" rx="2.5" ry="2.5" fill="url(#g28)"/><ellipse cx="438.3" cy="81.4" rx="2.6" ry="2.5" fill="url(#g24)"/><ellipse cx="476.8" cy="147.6" rx="2.2" ry="2.1" fill="url(#g17)"/><ellipse cx="513.5" cy="135.6" rx="2.2" ry="2.1" fill="url(#g15)"/><ellipse cx="427.9" cy="204.3" rx="3.1" ry="3.3" fill="url(#g15)"/><ellipse cx="423.1" cy="137.6" rx="2.6" ry="2.3" fill="url(#g15)"/><ellipse cx="475.5" cy="204.5" rx="3.2" ry="2.7" fill="url(#g25)"/><ellipse cx="381.6" cy="116.1" rx="3.0" ry="3.2" fill="url(#g14)"/><ellipse cx="379.8" cy="192.8" rx="2.8" ry="2.8" fill="url(#g28)"/><ellipse cx="463.9" cy="119.9" rx="2.4" ry="2.6" fill="url(#g18)"/><ellipse cx="362.4" cy="172.3" rx="2.6" ry="2.4" fill="url(#g27)"/><ellipse cx="477.4" cy="167.8" rx="2.5" ry="2.5" fill="url(#g15)"/><ellipse cx="471.7" cy="161.5" rx="2.4" ry="2.0" fill="url(#g16)"/><ellipse cx="348.5" cy="189.8" rx="2.4" ry="2.6" fill="url(#g16)"/><ellipse cx="499.8" cy="99.7" rx="2.3" ry="2.4" fill="url(#g26)"/><ellipse cx="412.1" cy="216.8" rx="3.0" ry="2.5" fill="url(#g13)"/><ellipse cx="379.2" cy="206.6" rx="3.1" ry="2.8" fill="url(#g23)"/><ellipse cx="489.5" cy="207.1" rx="2.7" ry="2.7" fill="url(#g27)"/><ellipse cx="504.7" cy="89.0" rx="2.7" ry="2.7" fill="url(#g13)"/><ellipse cx="374.3" cy="125.7" rx="2.4" ry="2.5" fill="url(#g19)"/><ellipse cx="485.1" cy="194.8" rx="2.8" ry="2.4" fill="url(#g16)"/><ellipse cx="415.0" cy="134.9" rx="2.5" ry="2.7" fill="url(#g25)"/><ellipse cx="453.1" cy="179.0" rx="2.4" ry="2.0" fill="url(#g20)"/><ellipse cx="383.2" cy="182.5" rx="2.4" ry="2.5" fill="url(#g29)"/><ellipse cx="451.9" cy="157.9" rx="2.9" ry="2.7" fill="url(#g24)"/><ellipse cx="437.8" cy="134.7" rx="3.2" ry="3.1" fill="url(#g28)"/><ellipse cx="345.9" cy="152.9" rx="3.0" ry="3.3" fill="url(#g24)"/><ellipse cx="417.7" cy="213.9" rx="3.2" ry="3.5" fill="url(#g16)"/><ellipse cx="513.0" cy="88.6" rx="2.6" ry="2.3" fill="url(#g24)"/><ellipse cx="464.6" cy="146.3" rx="2.8" ry="2.9" fill="url(#g20)"/><ellipse cx="384.3" cy="92.0" rx="2.9" ry="3.0" fill="url(#g29)"/><ellipse cx="459.9" cy="216.8" rx="2.7" ry="2.4" fill="url(#g17)"/><ellipse cx="511.4" cy="202.2" rx="3.1" ry="3.1" fill="url(#g13)"/><ellipse cx="471.5" cy="76.8" rx="2.9" ry="2.6" fill="url(#g15)"/><ellipse cx="371.2" cy="159.2" rx="3.1" ry="2.7" fill="url(#g13)"/><ellipse cx="438.9" cy="195.8" rx="3.2" ry="2.9" fill="url(#g13)"/><ellipse cx="348.7" cy="165.5" rx="3.2" ry="3.4" fill="url(#g19)"/><ellipse cx="356.1" cy="184.0" rx="3.2" ry="2.7" fill="url(#g13)"/><ellipse cx="482.0" cy="217.1" rx="2.6" ry="2.3" fill="url(#g16)"/><ellipse cx="396.8" cy="167.4" rx="2.4" ry="2.6" fill="url(#g17)"/><ellipse cx="440.6" cy="146.7" rx="3.0" ry="3.0" fill="url(#g16)"/><ellipse cx="450.3" cy="139.5" rx="2.5" ry="2.3" fill="url(#g26)"/><ellipse cx="411.3" cy="185.2" rx="2.7" ry="2.5" fill="url(#g19)"/><ellipse cx="363.0" cy="148.0" rx="2.5" ry="2.8" fill="url(#g16)"/><ellipse cx="432.6" cy="189.1" rx="2.6" ry="2.7" fill="url(#g25)"/><ellipse cx="518.7" cy="124.2" rx="2.3" ry="2.2" fill="url(#g17)"/><ellipse cx="467.6" cy="205.0" rx="2.3" ry="2.3" fill="url(#g24)"/><ellipse cx="424.2" cy="217.2" rx="2.3" ry="2.4" fill="url(#g19)"/><ellipse cx="357.3" cy="158.7" rx="2.4" ry="2.2" fill="url(#g24)"/><ellipse cx="401.2" cy="84.9" rx="2.6" ry="2.7" fill="url(#g21)"/><ellipse cx="509.5" cy="87.2" rx="3.2" ry="2.7" fill="url(#g13)"/><ellipse cx="410.1" cy="197.9" rx="2.4" ry="2.1" fill="url(#g25)"/><ellipse cx="399.0" cy="206.5" rx="3.1" ry="3.0" fill="url(#g15)"/><ellipse cx="423.7" cy="166.9" rx="2.5" ry="2.1" fill="url(#g25)"/><ellipse cx="485.8" cy="204.3" rx="3.1" ry="3.1" fill="url(#g25)"/><ellipse cx="521.5" cy="82.3" rx="2.6" ry="2.6" fill="url(#g24)"/><ellipse cx="427.1" cy="125.7" rx="2.4" ry="2.0" fill="url(#g24)"/><ellipse cx="405.1" cy="219.2" rx="2.4" ry="2.1" fill="url(#g27)"/><ellipse cx="451.6" cy="105.1" rx="3.1" ry="3.1" fill="url(#g16)"/><ellipse cx="360.7" cy="134.1" rx="2.7" ry="2.8" fill="url(#g28)"/><ellipse cx="357.9" cy="210.0" rx="2.2" ry="1.8" fill="url(#g24)"/><ellipse cx="389.6" cy="128.4" rx="2.9" ry="2.5" fill="url(#g29)"/><ellipse cx="409.9" cy="206.6" rx="2.8" ry="2.4" fill="url(#g24)"/><ellipse cx="508.2" cy="142.7" rx="3.2" ry="3.1" fill="url(#g29)"/><ellipse cx="505.6" cy="183.9" rx="2.5" ry="2.0" fill="url(#g26)"/><ellipse cx="387.5" cy="196.2" rx="2.2" ry="2.1" fill="url(#g27)"/><ellipse cx="388.3" cy="153.7" rx="2.4" ry="2.1" fill="url(#g26)"/><ellipse cx="389.1" cy="77.9" rx="2.9" ry="2.5" fill="url(#g27)"/><ellipse cx="377.0" cy="134.2" rx="2.3" ry="2.1" fill="url(#g27)"/><ellipse cx="478.3" cy="180.7" rx="3.0" ry="3.0" fill="url(#g25)"/><ellipse cx="425.9" cy="162.8" rx="3.0" ry="2.5" fill="url(#g16)"/><ellipse cx="470.9" cy="152.1" rx="3.2" ry="2.6" fill="url(#g14)"/><ellipse cx="480.0" cy="114.7" rx="3.0" ry="2.9" fill="url(#g24)"/><ellipse cx="435.9" cy="96.3" rx="2.8" ry="2.8" fill="url(#g21)"/><ellipse cx="415.8" cy="202.9" rx="2.4" ry="2.6" fill="url(#g13)"/><ellipse cx="370.8" cy="153.8" rx="2.3" ry="2.1" fill="url(#g25)"/><ellipse cx="427.1" cy="184.8" rx="2.4" ry="2.3" fill="url(#g27)"/><ellipse cx="441.9" cy="217.5" rx="2.7" ry="2.8" fill="url(#g25)"/><ellipse cx="505.9" cy="171.7" rx="3.1" ry="2.9" fill="url(#g24)"/><ellipse cx="510.9" cy="197.4" rx="2.6" ry="2.3" fill="url(#g19)"/><ellipse cx="438.5" cy="121.5" rx="3.0" ry="3.2" fill="url(#g16)"/><ellipse cx="399.1" cy="163.0" rx="2.8" ry="3.0" fill="url(#g24)"/><ellipse cx="497.5" cy="188.6" rx="2.7" ry="2.4" fill="url(#g25)"/><ellipse cx="478.1" cy="102.5" rx="2.4" ry="2.5" fill="url(#g25)"/><ellipse cx="445.3" cy="84.6" rx="2.9" ry="2.8" fill="url(#g19)"/><ellipse cx="477.3" cy="188.8" rx="2.7" ry="2.8" fill="url(#g24)"/><ellipse cx="381.1" cy="139.2" rx="2.6" ry="2.8" fill="url(#g17)"/><ellipse cx="468.7" cy="84.3" rx="2.9" ry="2.7" fill="url(#g20)"/><ellipse cx="453.4" cy="201.8" rx="2.4" ry="2.2" fill="url(#g25)"/><ellipse cx="375.3" cy="205.9" rx="2.4" ry="2.2" fill="url(#g19)"/><ellipse cx="421.5" cy="87.6" rx="2.4" ry="2.3" fill="url(#g16)"/><ellipse cx="490.0" cy="122.7" rx="3.1" ry="3.1" fill="url(#g13)"/><ellipse cx="366.8" cy="76.3" rx="2.6" ry="2.4" fill="url(#g19)"/><ellipse cx="397.5" cy="141.9" rx="3.0" ry="3.1" fill="url(#g19)"/><ellipse cx="432.3" cy="159.3" rx="2.5" ry="2.7" fill="url(#g13)"/><ellipse cx="357.8" cy="76.1" rx="2.6" ry="2.7" fill="url(#g22)"/><ellipse cx="502.7" cy="136.7" rx="2.9" ry="2.4" fill="url(#g26)"/><ellipse cx="450.1" cy="182.0" rx="2.7" ry="2.7" fill="url(#g26)"/><ellipse cx="407.8" cy="116.1" rx="2.8" ry="2.6" fill="url(#g25)"/><ellipse cx="426.6" cy="88.1" rx="2.5" ry="2.1" fill="url(#g24)"/><ellipse cx="495.7" cy="88.0" rx="3.2" ry="2.6" fill="url(#g29)"/><ellipse cx="492.2" cy="110.1" rx="3.0" ry="2.4" fill="url(#g18)"/><ellipse cx="476.9" cy="108.7" rx="2.5" ry="2.1" fill="url(#g28)"/><ellipse cx="479.3" cy="214.4" rx="2.5" ry="2.4" fill="url(#g19)"/><ellipse cx="497.2" cy="81.5" rx="2.7" ry="2.8" fill="url(#g21)"/><ellipse cx="483.7" cy="188.9" rx="2.6" ry="2.6" fill="url(#g19)"/><ellipse cx="486.0" cy="158.7" rx="3.2" ry="3.2" fill="url(#g16)"/><ellipse cx="504.5" cy="217.8" rx="2.6" ry="2.4" fill="url(#g27)"/><ellipse cx="502.6" cy="113.4" rx="2.8" ry="2.9" fill="url(#g22)"/><ellipse cx="508.0" cy="215.8" rx="2.4" ry="2.2" fill="url(#g16)"/><ellipse cx="344.9" cy="160.5" rx="2.4" ry="2.3" fill="url(#g27)"/><ellipse cx="514.7" cy="120.2" rx="2.8" ry="2.4" fill="url(#g21)"/><ellipse cx="408.5" cy="97.5" rx="2.4" ry="2.2" fill="url(#g29)"/><ellipse cx="501.8" cy="156.6" rx="2.8" ry="2.7" fill="url(#g20)"/><ellipse cx="449.6" cy="161.3" rx="3.0" ry="2.9" fill="url(#g29)"/><ellipse cx="403.5" cy="214.8" rx="2.8" ry="3.0" fill="url(#g15)"/><ellipse cx="359.3" cy="167.4" rx="3.2" ry="2.8" fill="url(#g28)"/><ellipse cx="351.1" cy="143.4" rx="2.9" ry="2.6" fill="url(#g15)"/><ellipse cx="381.2" cy="131.9" rx="3.0" ry="3.3" fill="url(#g22)"/><ellipse cx="482.1" cy="129.7" rx="2.4" ry="2.4" fill="url(#g20)"/><ellipse cx="409.2" cy="75.8" rx="2.9" ry="2.6" fill="url(#g27)"/><ellipse cx="375.3" cy="210.2" rx="2.9" ry="2.3" fill="url(#g24)"/><ellipse cx="432.0" cy="138.1" rx="3.1" ry="3.1" fill="url(#g15)"/><ellipse cx="423.5" cy="188.3" rx="2.4" ry="2.3" fill="url(#g24)"/><ellipse cx="391.0" cy="149.5" rx="2.3" ry="2.1" fill="url(#g29)"/><ellipse cx="444.2" cy="153.2" rx="3.0" ry="2.6" fill="url(#g14)"/><ellipse cx="388.4" cy="138.1" rx="2.3" ry="2.3" fill="url(#g20)"/><ellipse cx="427.7" cy="114.1" rx="3.2" ry="3.3" fill="url(#g13)"/><ellipse cx="435.3" cy="210.6" rx="2.4" ry="2.1" fill="url(#g19)"/><ellipse cx="411.9" cy="112.3" rx="2.2" ry="2.0" fill="url(#g27)"/><ellipse cx="492.2" cy="98.3" rx="2.6" ry="2.3" fill="url(#g23)"/><ellipse cx="444.5" cy="185.7" rx="2.7" ry="2.3" fill="url(#g15)"/><ellipse cx="450.8" cy="124.0" rx="2.3" ry="2.2" fill="url(#g18)"/><ellipse cx="463.5" cy="189.9" rx="2.2" ry="2.2" fill="url(#g15)"/><ellipse cx="463.3" cy="167.0" rx="2.9" ry="3.1" fill="url(#g14)"/><ellipse cx="354.1" cy="86.3" rx="2.3" ry="2.5" fill="url(#g29)"/><ellipse cx="352.0" cy="152.9" rx="3.1" ry="3.3" fill="url(#g17)"/><ellipse cx="506.5" cy="85.0" rx="2.7" ry="2.2" fill="url(#g25)"/><ellipse cx="405.8" cy="186.9" rx="2.5" ry="2.2" fill="url(#g19)"/><ellipse cx="491.1" cy="136.3" rx="2.7" ry="2.7" fill="url(#g21)"/><ellipse cx="459.5" cy="212.9" rx="3.1" ry="3.3" fill="url(#g13)"/><ellipse cx="449.4" cy="214.5" rx="3.1" ry="3.4" fill="url(#g25)"/><ellipse cx="451.3" cy="113.3" rx="2.3" ry="2.5" fill="url(#g28)"/><ellipse cx="433.8" cy="206.0" rx="2.2" ry="2.1" fill="url(#g17)"/><ellipse cx="402.1" cy="184.5" rx="2.4" ry="2.5" fill="url(#g27)"/><ellipse cx="417.7" cy="218.4" rx="2.4" ry="2.3" fill="url(#g15)"/><ellipse cx="417.1" cy="114.4" rx="3.1" ry="2.5" fill="url(#g19)"/><ellipse cx="388.6" cy="162.9" rx="2.3" ry="2.4" fill="url(#g29)"/><ellipse cx="364.9" cy="106.0" rx="2.4" ry="2.4" fill="url(#g24)"/><ellipse cx="397.3" cy="174.5" rx="3.1" ry="2.7" fill="url(#g17)"/><ellipse cx="476.7" cy="153.7" rx="2.9" ry="2.3" fill="url(#g25)"/><ellipse cx="369.9" cy="126.5" rx="2.9" ry="2.5" fill="url(#g19)"/><ellipse cx="354.1" cy="218.7" rx="3.1" ry="3.1" fill="url(#g27)"/><ellipse cx="426.0" cy="195.9" rx="2.5" ry="2.3" fill="url(#g25)"/><ellipse cx="387.5" cy="115.3" rx="2.3" ry="1.9" fill="url(#g27)"/><ellipse cx="369.0" cy="131.4" rx="2.9" ry="2.9" fill="url(#g14)"/><ellipse cx="401.3" cy="94.1" rx="2.9" ry="2.5" fill="url(#g24)"/><ellipse cx="392.2" cy="186.1" rx="2.6" ry="2.3" fill="url(#g25)"/><ellipse cx="343.7" cy="194.0" rx="2.9" ry="2.9" fill="url(#g25)"/><ellipse cx="350.9" cy="171.8" rx="2.2" ry="1.8" fill="url(#g15)"/><ellipse cx="433.6" cy="134.9" rx="2.6" ry="2.2" fill="url(#g19)"/><ellipse cx="447.8" cy="78.2" rx="2.9" ry="2.5" fill="url(#g13)"/><ellipse cx="478.1" cy="196.4" rx="2.9" ry="2.5" fill="url(#g19)"/><ellipse cx="369.2" cy="191.2" rx="2.2" ry="1.9" fill="url(#g18)"/><ellipse cx="378.1" cy="94.7" rx="2.5" ry="2.5" fill="url(#g28)"/><ellipse cx="371.6" cy="84.0" rx="3.1" ry="3.2" fill="url(#g16)"/><ellipse cx="349.9" cy="215.6" rx="2.8" ry="3.0" fill="url(#g13)"/><ellipse cx="421.2" cy="155.2" rx="2.6" ry="2.8" fill="url(#g13)"/><ellipse cx="393.0" cy="158.7" rx="2.9" ry="2.9" fill="url(#g14)"/><ellipse cx="380.1" cy="215.0" rx="2.5" ry="2.2" fill="url(#g17)"/><ellipse cx="469.4" cy="180.9" rx="3.1" ry="3.2" fill="url(#g13)"/><ellipse cx="404.2" cy="159.4" rx="2.4" ry="2.1" fill="url(#g28)"/><ellipse cx="423.6" cy="143.5" rx="3.1" ry="3.4" fill="url(#g27)"/><ellipse cx="368.9" cy="106.2" rx="3.1" ry="3.4" fill="url(#g17)"/><ellipse cx="357.6" cy="108.9" rx="3.2" ry="2.8" fill="url(#g16)"/><ellipse cx="513.2" cy="98.0" rx="2.5" ry="2.5" fill="url(#g22)"/><ellipse cx="477.8" cy="128.7" rx="2.6" ry="2.6" fill="url(#g21)"/><ellipse cx="486.2" cy="86.9" rx="2.5" ry="2.5" fill="url(#g13)"/><ellipse cx="408.0" cy="179.7" rx="3.0" ry="3.1" fill="url(#g16)"/><ellipse cx="400.3" cy="124.4" rx="2.9" ry="3.1" fill="url(#g28)"/><ellipse cx="405.3" cy="130.7" rx="3.2" ry="3.1" fill="url(#g26)"/><ellipse cx="515.8" cy="78.1" rx="3.0" ry="2.9" fill="url(#g16)"/><ellipse cx="472.9" cy="137.2" rx="2.2" ry="2.2" fill="url(#g18)"/><ellipse cx="370.2" cy="206.4" rx="3.2" ry="3.3" fill="url(#g27)"/><ellipse cx="380.5" cy="176.8" rx="2.3" ry="2.2" fill="url(#g19)"/><ellipse cx="368.1" cy="150.1" rx="2.9" ry="2.5" fill="url(#g25)"/><ellipse cx="500.7" cy="133.3" rx="2.4" ry="2.1" fill="url(#g26)"/><ellipse cx="472.4" cy="184.7" rx="2.7" ry="2.8" fill="url(#g15)"/><ellipse cx="375.2" cy="154.6" rx="3.0" ry="3.1" fill="url(#g24)"/><ellipse cx="345.8" cy="215.0" rx="2.7" ry="2.8" fill="url(#g13)"/><ellipse cx="497.5" cy="216.6" rx="2.8" ry="2.8" fill="url(#g15)"/><ellipse cx="461.7" cy="152.9" rx="2.5" ry="2.7" fill="url(#g24)"/><ellipse cx="485.4" cy="209.4" rx="2.5" ry="2.1" fill="url(#g19)"/><ellipse cx="345.4" cy="187.5" rx="2.8" ry="2.4" fill="url(#g15)"/><ellipse cx="470.9" cy="175.9" rx="2.6" ry="2.2" fill="url(#g25)"/><ellipse cx="351.2" cy="181.8" rx="2.2" ry="2.0" fill="url(#g16)"/><ellipse cx="367.7" cy="173.7" rx="2.9" ry="2.4" fill="url(#g19)"/><ellipse cx="358.6" cy="103.7" rx="3.2" ry="3.4" fill="url(#g19)"/><ellipse cx="372.9" cy="202.7" rx="2.7" ry="2.5" fill="url(#g15)"/><ellipse cx="419.7" cy="135.7" rx="2.3" ry="1.9" fill="url(#g27)"/><ellipse cx="421.9" cy="196.6" rx="2.9" ry="2.4" fill="url(#g17)"/><ellipse cx="419.1" cy="109.0" rx="2.3" ry="1.9" fill="url(#g19)"/><ellipse cx="452.2" cy="90.5" rx="3.1" ry="2.6" fill="url(#g25)"/><ellipse cx="464.0" cy="94.8" rx="3.2" ry="3.0" fill="url(#g26)"/><ellipse cx="393.1" cy="120.6" rx="2.6" ry="2.6" fill="url(#g18)"/><ellipse cx="466.5" cy="209.1" rx="2.7" ry="2.4" fill="url(#g17)"/><ellipse cx="449.8" cy="154.3" rx="2.5" ry="2.7" fill="url(#g26)"/><ellipse cx="518.9" cy="206.0" rx="2.4" ry="2.2" fill="url(#g16)"/><ellipse cx="443.7" cy="99.0" rx="3.1" ry="2.5" fill="url(#g26)"/><ellipse cx="497.8" cy="184.1" rx="2.9" ry="2.6" fill="url(#g15)"/><ellipse cx="497.1" cy="105.8" rx="2.6" ry="2.7" fill="url(#g18)"/><ellipse cx="377.6" cy="151.6" rx="2.4" ry="2.4" fill="url(#g24)"/><ellipse cx="388.0" cy="123.5" rx="2.7" ry="2.3" fill="url(#g23)"/><ellipse cx="424.2" cy="209.2" rx="3.1" ry="3.2" fill="url(#g13)"/><ellipse cx="508.1" cy="79.3" rx="3.1" ry="2.8" fill="url(#g27)"/><ellipse cx="461.6" cy="105.4" rx="3.1" ry="3.1" fill="url(#g24)"/><ellipse cx="344.7" cy="164.3" rx="3.1" ry="3.4" fill="url(#g13)"/><ellipse cx="453.9" cy="206.0" rx="2.3" ry="2.3" fill="url(#g16)"/><ellipse cx="364.8" cy="206.9" rx="2.9" ry="2.8" fill="url(#g25)"/><ellipse cx="488.0" cy="97.6" rx="2.5" ry="2.5" fill="url(#g22)"/><ellipse cx="440.3" cy="105.9" rx="3.2" ry="2.8" fill="url(#g21)"/><ellipse cx="354.3" cy="98.3" rx="2.3" ry="2.0" fill="url(#g26)"/><ellipse cx="502.2" cy="117.7" rx="2.5" ry="2.2" fill="url(#g29)"/><ellipse cx="345.5" cy="168.4" rx="3.0" ry="2.8" fill="url(#g24)"/><ellipse cx="456.8" cy="131.4" rx="3.0" ry="3.2" fill="url(#g18)"/><ellipse cx="374.9" cy="160.3" rx="2.8" ry="2.5" fill="url(#g13)"/><ellipse cx="455.2" cy="154.4" rx="2.3" ry="2.0" fill="url(#g26)"/><ellipse cx="480.4" cy="161.6" rx="3.2" ry="3.1" fill="url(#g19)"/><ellipse cx="512.0" cy="156.5" rx="2.5" ry="2.3" fill="url(#g28)"/><ellipse cx="436.3" cy="105.3" rx="2.4" ry="2.0" fill="url(#g13)"/><ellipse cx="376.2" cy="90.6" rx="2.6" ry="2.6" fill="url(#g14)"/><ellipse cx="487.7" cy="179.7" rx="2.5" ry="2.0" fill="url(#g27)"/><ellipse cx="510.3" cy="206.3" rx="2.3" ry="2.5" fill="url(#g13)"/><ellipse cx="418.8" cy="166.9" rx="2.9" ry="2.9" fill="url(#g16)"/><ellipse cx="512.3" cy="85.0" rx="3.2" ry="2.6" fill="url(#g24)"/><ellipse cx="418.7" cy="178.1" rx="2.6" ry="2.3" fill="url(#g19)"/><ellipse cx="484.7" cy="165.7" rx="2.6" ry="2.5" fill="url(#g22)"/><ellipse cx="393.7" cy="79.6" rx="2.6" ry="2.9" fill="url(#g29)"/><ellipse cx="384.4" cy="156.1" rx="2.3" ry="1.9" fill="url(#g16)"/><ellipse cx="504.1" cy="160.1" rx="2.9" ry="3.1" fill="url(#g17)"/><ellipse cx="428.5" cy="168.0" rx="3.1" ry="3.3" fill="url(#g14)"/><ellipse cx="418.8" cy="208.3" rx="2.6" ry="2.4" fill="url(#g15)"/><ellipse cx="477.7" cy="173.5" rx="3.2" ry="2.6" fill="url(#g17)"/><ellipse cx="454.8" cy="212.0" rx="2.8" ry="2.6" fill="url(#g13)"/><ellipse cx="470.2" cy="198.7" rx="3.0" ry="2.5" fill="url(#g27)"/><ellipse cx="475.6" cy="140.8" rx="2.8" ry="2.8" fill="url(#g29)"/><ellipse cx="444.3" cy="105.4" rx="2.6" ry="2.7" fill="url(#g23)"/><ellipse cx="390.3" cy="103.6" rx="2.7" ry="2.5" fill="url(#g19)"/><ellipse cx="389.9" cy="133.8" rx="3.1" ry="2.8" fill="url(#g26)"/><ellipse cx="497.7" cy="177.9" rx="3.1" ry="3.4" fill="url(#g23)"/><ellipse cx="492.1" cy="169.6" rx="3.2" ry="2.6" fill="url(#g16)"/><ellipse cx="455.0" cy="161.9" rx="2.6" ry="2.4" fill="url(#g28)"/><ellipse cx="419.3" cy="173.2" rx="2.9" ry="2.6" fill="url(#g19)"/><ellipse cx="430.5" cy="110.4" rx="3.2" ry="3.1" fill="url(#g24)"/><ellipse cx="379.1" cy="183.2" rx="2.9" ry="2.9" fill="url(#g21)"/><ellipse cx="435.4" cy="89.0" rx="2.5" ry="2.3" fill="url(#g29)"/><ellipse cx="392.7" cy="168.9" rx="2.7" ry="2.7" fill="url(#g24)"/><ellipse cx="507.4" cy="201.3" rx="3.2" ry="2.9" fill="url(#g15)"/><ellipse cx="404.9" cy="94.2" rx="2.5" ry="2.0" fill="url(#g24)"/><ellipse cx="465.4" cy="91.4" rx="2.6" ry="2.8" fill="url(#g26)"/><ellipse cx="410.2" cy="161.8" rx="2.4" ry="1.9" fill="url(#g15)"/><ellipse cx="437.6" cy="128.0" rx="2.9" ry="2.6" fill="url(#g18)"/><ellipse cx="468.2" cy="94.3" rx="3.0" ry="3.2" fill="url(#g24)"/><ellipse cx="354.5" cy="206.6" rx="2.7" ry="2.9" fill="url(#g16)"/><ellipse cx="370.0" cy="139.5" rx="2.7" ry="2.5" fill="url(#g16)"/><ellipse cx="466.1" cy="142.1" rx="3.0" ry="2.7" fill="url(#g18)"/><ellipse cx="413.1" cy="191.2" rx="2.7" ry="2.3" fill="url(#g14)"/><ellipse cx="513.4" cy="128.5" rx="3.2" ry="3.5" fill="url(#g19)"/><ellipse cx="431.0" cy="92.7" rx="2.3" ry="2.1" fill="url(#g23)"/><ellipse cx="343.7" cy="84.8" rx="3.1" ry="3.2" fill="url(#g16)"/><ellipse cx="503.9" cy="195.4" rx="3.0" ry="2.5" fill="url(#g17)"/><ellipse cx="492.2" cy="119.3" rx="2.5" ry="2.8" fill="url(#g20)"/><ellipse cx="352.6" cy="137.8" rx="2.4" ry="2.4" fill="url(#g25)"/><ellipse cx="466.4" cy="218.4" rx="2.4" ry="2.5" fill="url(#g19)"/><ellipse cx="508.2" cy="161.5" rx="2.5" ry="2.6" fill="url(#g14)"/><ellipse cx="380.3" cy="148.6" rx="2.9" ry="2.7" fill="url(#g16)"/><ellipse cx="447.9" cy="91.4" rx="2.8" ry="3.1" fill="url(#g16)"/><ellipse cx="419.9" cy="127.6" rx="2.4" ry="2.0" fill="url(#g19)"/><ellipse cx="438.0" cy="86.5" rx="2.4" ry="2.4" fill="url(#g20)"/><ellipse cx="430.3" cy="76.2" rx="2.4" ry="2.0" fill="url(#g25)"/><ellipse cx="357.0" cy="126.7" rx="2.5" ry="2.5" fill="url(#g13)"/><ellipse cx="479.6" cy="124.1" rx="3.2" ry="2.9" fill="url(#g21)"/><ellipse cx="419.8" cy="144.6" rx="2.7" ry="2.7" fill="url(#g17)"/><ellipse cx="458.2" cy="126.8" rx="3.1" ry="2.9" fill="url(#g14)"/><ellipse cx="505.5" cy="131.2" rx="2.8" ry="3.1" fill="url(#g22)"/><ellipse cx="388.8" cy="98.5" rx="3.2" ry="2.6" fill="url(#g25)"/><ellipse cx="363.0" cy="120.6" rx="3.2" ry="2.5" fill="url(#g25)"/><ellipse cx="514.6" cy="187.7" rx="2.3" ry="2.4" fill="url(#g13)"/><ellipse cx="455.0" cy="185.7" rx="3.2" ry="3.1" fill="url(#g18)"/><ellipse cx="364.9" cy="130.5" rx="3.1" ry="2.7" fill="url(#g13)"/><ellipse cx="353.0" cy="133.8" rx="2.8" ry="2.3" fill="url(#g13)"/><ellipse cx="346.3" cy="173.7" rx="2.7" ry="2.4" fill="url(#g24)"/><ellipse cx="415.5" cy="97.9" rx="2.5" ry="2.2" fill="url(#g26)"/><ellipse cx="480.5" cy="144.5" rx="2.6" ry="2.3" fill="url(#g14)"/><ellipse cx="364.5" cy="178.9" rx="2.3" ry="1.9" fill="url(#g13)"/><ellipse cx="433.2" cy="131.0" rx="2.6" ry="2.7" fill="url(#g17)"/><ellipse cx="518.6" cy="128.0" rx="2.2" ry="2.3" fill="url(#g17)"/><ellipse cx="407.1" cy="107.6" rx="3.0" ry="2.5" fill="url(#g15)"/><ellipse cx="406.3" cy="162.8" rx="2.6" ry="2.1" fill="url(#g24)"/><ellipse cx="450.4" cy="209.3" rx="2.6" ry="2.7" fill="url(#g16)"/><ellipse cx="416.4" cy="141.0" rx="2.7" ry="2.4" fill="url(#g17)"/><ellipse cx="469.2" cy="103.1" rx="3.0" ry="3.0" fill="url(#g27)"/><ellipse cx="500.0" cy="170.5" rx="3.0" ry="2.5" fill="url(#g16)"/><ellipse cx="397.0" cy="106.2" rx="3.1" ry="2.8" fill="url(#g28)"/><ellipse cx="435.3" cy="113.3" rx="2.6" ry="2.3" fill="url(#g28)"/><ellipse cx="400.3" cy="177.5" rx="2.4" ry="2.4" fill="url(#g16)"/><ellipse cx="406.5" cy="195.7" rx="3.1" ry="3.2" fill="url(#g16)"/><ellipse cx="490.8" cy="129.8" rx="2.9" ry="2.4" fill="url(#g20)"/><ellipse cx="512.1" cy="115.6" rx="2.4" ry="2.0" fill="url(#g25)"/><ellipse cx="418.7" cy="191.3" rx="2.9" ry="2.9" fill="url(#g16)"/><ellipse cx="372.7" cy="91.8" rx="3.2" ry="3.4" fill="url(#g13)"/><ellipse cx="486.1" cy="124.6" rx="2.9" ry="2.8" fill="url(#g13)"/><ellipse cx="387.2" cy="84.1" rx="2.7" ry="2.2" fill="url(#g29)"/><ellipse cx="356.3" cy="201.1" rx="2.3" ry="1.9" fill="url(#g25)"/><ellipse cx="361.3" cy="114.3" rx="3.2" ry="2.7" fill="url(#g25)"/><ellipse cx="453.2" cy="132.1" rx="2.8" ry="2.3" fill="url(#g21)"/><ellipse cx="489.4" cy="90.4" rx="3.1" ry="3.3" fill="url(#g20)"/><ellipse cx="395.1" cy="136.7" rx="3.0" ry="3.1" fill="url(#g20)"/><ellipse cx="506.8" cy="94.7" rx="2.9" ry="2.6" fill="url(#g23)"/><ellipse cx="522.9" cy="190.9" rx="3.0" ry="2.5" fill="url(#g25)"/><ellipse cx="521.1" cy="157.7" rx="2.6" ry="2.4" fill="url(#g16)"/><ellipse cx="365.9" cy="199.3" rx="2.4" ry="2.2" fill="url(#g19)"/><ellipse cx="437.2" cy="141.9" rx="2.8" ry="2.9" fill="url(#g25)"/><ellipse cx="466.7" cy="199.8" rx="3.1" ry="3.3" fill="url(#g13)"/><ellipse cx="413.4" cy="144.7" rx="2.8" ry="2.2" fill="url(#g27)"/><ellipse cx="389.5" cy="142.5" rx="2.6" ry="2.2" fill="url(#g20)"/><ellipse cx="470.9" cy="190.3" rx="2.3" ry="2.2" fill="url(#g13)"/><ellipse cx="382.4" cy="76.7" rx="2.7" ry="2.9" fill="url(#g16)"/><ellipse cx="358.9" cy="190.9" rx="3.2" ry="2.9" fill="url(#g27)"/><ellipse cx="350.9" cy="211.7" rx="2.4" ry="2.1" fill="url(#g25)"/><ellipse cx="450.0" cy="186.8" rx="2.3" ry="2.4" fill="url(#g18)"/><ellipse cx="366.8" cy="217.0" rx="2.2" ry="1.9" fill="url(#g16)"/><ellipse cx="498.9" cy="164.2" rx="2.9" ry="2.8" fill="url(#g24)"/><ellipse cx="396.5" cy="214.5" rx="2.7" ry="2.4" fill="url(#g19)"/><ellipse cx="413.5" cy="94.5" rx="2.6" ry="2.1" fill="url(#g23)"/><ellipse cx="487.2" cy="217.3" rx="2.5" ry="2.4" fill="url(#g16)"/><ellipse cx="475.0" cy="124.3" rx="3.2" ry="3.4" fill="url(#g26)"/><ellipse cx="520.1" cy="111.3" rx="3.1" ry="2.7" fill="url(#g14)"/><ellipse cx="458.6" cy="178.1" rx="2.5" ry="2.3" fill="url(#g21)"/><ellipse cx="344.3" cy="117.4" rx="2.8" ry="3.0" fill="url(#g16)"/><ellipse cx="380.0" cy="202.3" rx="2.5" ry="2.2" fill="url(#g27)"/><ellipse cx="383.9" cy="149.2" rx="2.5" ry="2.4" fill="url(#g16)"/><ellipse cx="352.3" cy="129.2" rx="2.3" ry="1.9" fill="url(#g19)"/><ellipse cx="453.7" cy="197.4" rx="3.2" ry="3.1" fill="url(#g17)"/><ellipse cx="396.4" cy="96.8" rx="2.7" ry="2.2" fill="url(#g16)"/><ellipse cx="423.1" cy="82.7" rx="2.3" ry="2.4" fill="url(#g25)"/><ellipse cx="497.0" cy="160.1" rx="3.0" ry="2.8" fill="url(#g22)"/><ellipse cx="520.3" cy="202.3" rx="2.3" ry="2.2" fill="url(#g13)"/><ellipse cx="386.1" cy="130.3" rx="2.3" ry="2.3" fill="url(#g15)"/><ellipse cx="361.3" cy="158.4" rx="3.0" ry="3.3" fill="url(#g15)"/><ellipse cx="512.7" cy="218.6" rx="3.0" ry="2.4" fill="url(#g27)"/><ellipse cx="490.7" cy="161.4" rx="2.5" ry="2.7" fill="url(#g19)"/><ellipse cx="494.1" cy="184.4" rx="2.7" ry="2.9" fill="url(#g19)"/><ellipse cx="363.3" cy="152.8" rx="2.7" ry="2.2" fill="url(#g24)"/><ellipse cx="510.9" cy="120.0" rx="2.4" ry="2.3" fill="url(#g18)"/><ellipse cx="491.9" cy="198.7" rx="2.6" ry="2.3" fill="url(#g19)"/><ellipse cx="500.8" cy="212.9" rx="2.5" ry="2.7" fill="url(#g19)"/><ellipse cx="383.7" cy="188.2" rx="2.3" ry="2.3" fill="url(#g26)"/><ellipse cx="350.1" cy="91.2" rx="2.7" ry="2.2" fill="url(#g14)"/><ellipse cx="418.7" cy="185.3" rx="3.0" ry="2.9" fill="url(#g15)"/><ellipse cx="511.8" cy="172.2" rx="3.2" ry="3.3" fill="url(#g25)"/><ellipse cx="504.5" cy="142.6" rx="2.8" ry="2.4" fill="url(#g18)"/><ellipse cx="517.8" cy="85.9" rx="2.7" ry="2.3" fill="url(#g24)"/><ellipse cx="386.7" cy="170.1" rx="2.7" ry="2.3" fill="url(#g17)"/><ellipse cx="352.4" cy="185.5" rx="3.2" ry="3.3" fill="url(#g25)"/><ellipse cx="498.3" cy="123.2" rx="3.2" ry="3.3" fill="url(#g20)"/><ellipse cx="439.4" cy="213.6" rx="2.9" ry="2.7" fill="url(#g25)"/><ellipse cx="460.6" cy="197.8" rx="2.8" ry="2.8" fill="url(#g25)"/><ellipse cx="372.6" cy="180.3" rx="2.9" ry="3.1" fill="url(#g18)"/><ellipse cx="393.8" cy="140.2" rx="3.0" ry="2.9" fill="url(#g27)"/><ellipse cx="507.3" cy="178.9" rx="2.4" ry="2.6" fill="url(#g27)"/><ellipse cx="488.7" cy="75.7" rx="2.5" ry="2.4" fill="url(#g17)"/><ellipse cx="350.4" cy="161.0" rx="2.7" ry="2.7" fill="url(#g27)"/><ellipse cx="416.7" cy="124.6" rx="2.8" ry="2.9" fill="url(#g17)"/><ellipse cx="427.5" cy="79.6" rx="3.0" ry="3.3" fill="url(#g20)"/><ellipse cx="367.6" cy="136.3" rx="2.4" ry="2.1" fill="url(#g19)"/><ellipse cx="500.0" cy="110.6" rx="2.7" ry="2.2" fill="url(#g26)"/><ellipse cx="474.0" cy="196.3" rx="2.9" ry="3.1" fill="url(#g19)"/><ellipse cx="403.9" cy="174.4" rx="2.3" ry="2.4" fill="url(#g17)"/><ellipse cx="520.8" cy="101.3" rx="3.1" ry="3.0" fill="url(#g19)"/><ellipse cx="435.2" cy="149.0" rx="3.1" ry="3.3" fill="url(#g27)"/><ellipse cx="497.4" cy="201.3" rx="3.1" ry="3.2" fill="url(#g16)"/><ellipse cx="347.2" cy="177.3" rx="3.1" ry="3.2" fill="url(#g13)"/><ellipse cx="422.6" cy="113.9" rx="2.7" ry="3.0" fill="url(#g15)"/><ellipse cx="460.2" cy="208.7" rx="3.0" ry="3.2" fill="url(#g27)"/><ellipse cx="347.8" cy="146.2" rx="2.3" ry="1.9" fill="url(#g16)"/><ellipse cx="458.1" cy="93.5" rx="3.0" ry="3.1" fill="url(#g21)"/><ellipse cx="449.2" cy="116.8" rx="2.6" ry="2.4" fill="url(#g19)"/><ellipse cx="411.0" cy="106.2" rx="2.8" ry="2.9" fill="url(#g24)"/><ellipse cx="348.8" cy="150.5" rx="2.7" ry="2.5" fill="url(#g27)"/><ellipse cx="405.6" cy="204.4" rx="3.0" ry="2.4" fill="url(#g27)"/><ellipse cx="430.1" cy="162.2" rx="2.4" ry="2.3" fill="url(#g15)"/><ellipse cx="410.2" cy="138.0" rx="2.2" ry="2.0" fill="url(#g15)"/><ellipse cx="361.0" cy="213.7" rx="3.0" ry="2.5" fill="url(#g25)"/><ellipse cx="433.3" cy="143.2" rx="2.4" ry="1.9" fill="url(#g28)"/><ellipse cx="345.0" cy="140.9" rx="2.9" ry="2.6" fill="url(#g24)"/><ellipse cx="475.2" cy="81.6" rx="3.2" ry="2.8" fill="url(#g26)"/><ellipse cx="517.3" cy="116.5" rx="2.3" ry="2.0" fill="url(#g18)"/><ellipse cx="343.9" cy="144.3" rx="2.7" ry="2.6" fill="url(#g27)"/><ellipse cx="402.5" cy="194.0" rx="2.4" ry="2.4" fill="url(#g27)"/><ellipse cx="468.8" cy="129.8" rx="2.6" ry="2.7" fill="url(#g18)"/><ellipse cx="414.5" cy="175.4" rx="3.0" ry="3.2" fill="url(#g19)"/><ellipse cx="359.4" cy="138.3" rx="3.1" ry="2.5" fill="url(#g19)"/><ellipse cx="438.5" cy="180.4" rx="3.1" ry="3.3" fill="url(#g25)"/><ellipse cx="404.6" cy="83.1" rx="3.0" ry="2.9" fill="url(#g23)"/><ellipse cx="510.7" cy="138.1" rx="2.5" ry="2.2" fill="url(#g16)"/><ellipse cx="363.0" cy="94.1" rx="2.3" ry="2.2" fill="url(#g13)"/><ellipse cx="344.1" cy="148.3" rx="3.2" ry="2.7" fill="url(#g16)"/><ellipse cx="475.0" cy="163.7" rx="3.2" ry="3.2" fill="url(#g27)"/><ellipse cx="400.4" cy="200.9" rx="3.1" ry="2.5" fill="url(#g17)"/><ellipse cx="408.1" cy="111.5" rx="3.1" ry="3.2" fill="url(#g17)"/><ellipse cx="396.9" cy="210.4" rx="3.0" ry="3.1" fill="url(#g15)"/><ellipse cx="498.5" cy="136.8" rx="2.6" ry="2.6" fill="url(#g26)"/><ellipse cx="417.4" cy="78.4" rx="2.4" ry="2.6" fill="url(#g15)"/><ellipse cx="375.9" cy="83.9" rx="2.3" ry="2.0" fill="url(#g26)"/><ellipse cx="493.8" cy="139.9" rx="2.9" ry="2.5" fill="url(#g21)"/><ellipse cx="447.5" cy="149.1" rx="2.6" ry="2.4" fill="url(#g20)"/><ellipse cx="496.5" cy="205.1" rx="2.6" ry="2.8" fill="url(#g19)"/><ellipse cx="401.1" cy="209.6" rx="2.5" ry="2.5" fill="url(#g27)"/><ellipse cx="506.1" cy="207.4" rx="2.7" ry="2.8" fill="url(#g24)"/><ellipse cx="499.1" cy="145.6" rx="2.5" ry="2.5" fill="url(#g15)"/><ellipse cx="351.8" cy="106.3" rx="2.2" ry="2.2" fill="url(#g13)"/><ellipse cx="509.0" cy="124.3" rx="2.7" ry="2.3" fill="url(#g25)"/><ellipse cx="505.0" cy="163.9" rx="2.8" ry="2.5" fill="url(#g27)"/><ellipse cx="466.2" cy="137.2" rx="2.9" ry="2.5" fill="url(#g20)"/><ellipse cx="447.7" cy="95.3" rx="2.7" ry="2.4" fill="url(#g14)"/><ellipse cx="515.6" cy="179.4" rx="2.6" ry="2.3" fill="url(#g24)"/><ellipse cx="397.1" cy="133.6" rx="2.9" ry="3.0" fill="url(#g20)"/><ellipse cx="361.9" cy="193.4" rx="3.0" ry="2.9" fill="url(#g19)"/><ellipse cx="412.0" cy="211.5" rx="3.1" ry="3.0" fill="url(#g16)"/><ellipse cx="483.7" cy="174.6" rx="2.9" ry="2.9" fill="url(#g15)"/><ellipse cx="399.6" cy="138.8" rx="2.2" ry="2.3" fill="url(#g24)"/><ellipse cx="387.0" cy="203.3" rx="2.6" ry="2.2" fill="url(#g27)"/><ellipse cx="349.5" cy="117.4" rx="2.8" ry="2.3" fill="url(#g19)"/><ellipse cx="367.8" cy="80.0" rx="2.4" ry="2.6" fill="url(#g23)"/><ellipse cx="410.7" cy="173.8" rx="2.6" ry="2.8" fill="url(#g17)"/><ellipse cx="388.7" cy="88.8" rx="2.4" ry="2.5" fill="url(#g29)"/><ellipse cx="420.9" cy="124.1" rx="3.2" ry="3.2" fill="url(#g24)"/><ellipse cx="491.5" cy="154.9" rx="2.4" ry="2.4" fill="url(#g26)"/><ellipse cx="388.1" cy="184.3" rx="2.9" ry="3.2" fill="url(#g27)"/><ellipse cx="398.6" cy="110.8" rx="2.5" ry="2.7" fill="url(#g23)"/><ellipse cx="366.9" cy="120.5" rx="3.1" ry="2.7" fill="url(#g29)"/><ellipse cx="476.4" cy="134.8" rx="3.0" ry="2.7" fill="url(#g16)"/><ellipse cx="441.7" cy="202.6" rx="2.3" ry="1.9" fill="url(#g15)"/><ellipse cx="403.2" cy="97.7" rx="2.4" ry="2.0" fill="url(#g18)"/><ellipse cx="452.0" cy="77.4" rx="2.6" ry="2.9" fill="url(#g19)"/><ellipse cx="436.8" cy="77.1" rx="2.4" ry="2.4" fill="url(#g27)"/><ellipse cx="502.4" cy="177.7" rx="2.5" ry="2.6" fill="url(#g13)"/><ellipse cx="373.3" cy="96.3" rx="2.9" ry="2.9" fill="url(#g24)"/><ellipse cx="470.0" cy="117.2" rx="2.5" ry="2.1" fill="url(#g24)"/><ellipse cx="493.7" cy="158.0" rx="3.2" ry="3.3" fill="url(#g19)"/><ellipse cx="402.9" cy="152.5" rx="3.2" ry="3.0" fill="url(#g20)"/><ellipse cx="424.7" cy="153.3" rx="3.1" ry="3.3" fill="url(#g13)"/><ellipse cx="427.7" cy="142.2" rx="2.9" ry="2.6" fill="url(#g16)"/><ellipse cx="403.1" cy="170.1" rx="2.2" ry="2.4" fill="url(#g18)"/><ellipse cx="420.0" cy="101.0" rx="2.8" ry="2.7" fill="url(#g29)"/><ellipse cx="440.9" cy="124.3" rx="2.4" ry="2.1" fill="url(#g13)"/><ellipse cx="413.8" cy="161.5" rx="3.0" ry="3.2" fill="url(#g17)"/><ellipse cx="442.1" cy="166.2" rx="2.5" ry="2.2" fill="url(#g16)"/><ellipse cx="473.1" cy="108.0" rx="3.0" ry="3.3" fill="url(#g13)"/><ellipse cx="515.2" cy="213.5" rx="2.7" ry="2.9" fill="url(#g15)"/><ellipse cx="505.5" cy="100.6" rx="2.5" ry="2.7" fill="url(#g23)"/><ellipse cx="376.8" cy="141.2" rx="2.7" ry="2.7" fill="url(#g25)"/><ellipse cx="488.6" cy="79.7" rx="2.4" ry="2.3" fill="url(#g27)"/><ellipse cx="462.7" cy="133.0" rx="3.0" ry="2.8" fill="url(#g20)"/><ellipse cx="423.7" cy="99.8" rx="3.1" ry="2.8" fill="url(#g26)"/><ellipse cx="441.6" cy="76.5" rx="2.7" ry="2.7" fill="url(#g26)"/><ellipse cx="393.3" cy="176.9" rx="3.0" ry="2.4" fill="url(#g19)"/><ellipse cx="422.5" cy="200.9" rx="3.2" ry="3.2" fill="url(#g27)"/><ellipse cx="494.6" cy="124.5" rx="2.6" ry="2.1" fill="url(#g29)"/><ellipse cx="343.6" cy="76.3" rx="2.8" ry="2.8" fill="url(#g16)"/><ellipse cx="380.3" cy="211.2" rx="2.8" ry="2.8" fill="url(#g17)"/><ellipse cx="518.4" cy="136.3" rx="3.0" ry="2.7" fill="url(#g24)"/><ellipse cx="351.0" cy="84.2" rx="2.4" ry="1.9" fill="url(#g29)"/><ellipse cx="476.9" cy="119.7" rx="2.5" ry="2.2" fill="url(#g23)"/><ellipse cx="412.2" cy="178.9" rx="2.3" ry="1.9" fill="url(#g19)"/><ellipse cx="363.7" cy="78.3" rx="2.6" ry="2.8" fill="url(#g24)"/><ellipse cx="416.9" cy="196.1" rx="2.3" ry="2.2" fill="url(#g24)"/><ellipse cx="431.6" cy="216.9" rx="2.4" ry="2.6" fill="url(#g24)"/><ellipse cx="381.3" cy="144.4" rx="3.0" ry="2.9" fill="url(#g27)"/><ellipse cx="483.0" cy="184.6" rx="2.2" ry="1.9" fill="url(#g16)"/><ellipse cx="459.3" cy="162.9" rx="3.2" ry="3.3" fill="url(#g21)"/><ellipse cx="506.1" cy="189.4" rx="3.0" ry="2.5" fill="url(#g27)"/><ellipse cx="390.6" cy="193.5" rx="2.4" ry="2.0" fill="url(#g18)"/><ellipse cx="369.0" cy="211.9" rx="2.9" ry="2.6" fill="url(#g24)"/><ellipse cx="450.7" cy="135.6" rx="3.0" ry="3.2" fill="url(#g14)"/><ellipse cx="435.3" cy="162.6" rx="3.1" ry="2.8" fill="url(#g17)"/><ellipse cx="416.6" cy="158.9" rx="2.7" ry="2.7" fill="url(#g13)"/><ellipse cx="422.0" cy="183.6" rx="2.7" ry="2.4" fill="url(#g16)"/><ellipse cx="515.1" cy="132.2" rx="3.0" ry="2.9" fill="url(#g15)"/><ellipse cx="365.4" cy="88.3" rx="2.6" ry="2.1" fill="url(#g16)"/><ellipse cx="354.3" cy="93.8" rx="2.7" ry="2.7" fill="url(#g16)"/><ellipse cx="404.4" cy="200.0" rx="2.9" ry="2.5" fill="url(#g19)"/><ellipse cx="426.8" cy="107.6" rx="3.0" ry="3.1" fill="url(#g15)"/><ellipse cx="409.4" cy="188.4" rx="3.2" ry="3.5" fill="url(#g15)"/><ellipse cx="492.8" cy="204.3" rx="2.4" ry="2.2" fill="url(#g24)"/><ellipse cx="431.3" cy="198.1" rx="2.3" ry="2.0" fill="url(#g27)"/><ellipse cx="402.2" cy="77.1" rx="3.0" ry="2.5" fill="url(#g27)"/><ellipse cx="445.6" cy="133.7" rx="3.1" ry="3.4" fill="url(#g21)"/><ellipse cx="393.8" cy="218.2" rx="2.4" ry="2.1" fill="url(#g25)"/><ellipse cx="456.8" cy="158.1" rx="2.3" ry="2.3" fill="url(#g19)"/><ellipse cx="389.0" cy="92.5" rx="2.3" ry="2.5" fill="url(#g28)"/><ellipse cx="372.0" cy="186.0" rx="3.2" ry="3.3" fill="url(#g25)"/><ellipse cx="432.8" cy="194.7" rx="3.1" ry="2.8" fill="url(#g13)"/><ellipse cx="383.7" cy="126.6" rx="2.9" ry="2.5" fill="url(#g19)"/><ellipse cx="392.3" cy="173.4" rx="2.4" ry="2.1" fill="url(#g17)"/><ellipse cx="520.9" cy="105.6" rx="2.5" ry="2.1" fill="url(#g24)"/><ellipse cx="344.7" cy="88.8" rx="3.2" ry="2.9" fill="url(#g17)"/><ellipse cx="394.4" cy="86.4" rx="2.9" ry="3.0" fill="url(#g22)"/><ellipse cx="403.3" cy="136.1" rx="2.7" ry="2.2" fill="url(#g22)"/><ellipse cx="431.3" cy="125.3" rx="2.3" ry="2.2" fill="url(#g24)"/><ellipse cx="454.5" cy="137.6" rx="2.9" ry="2.4" fill="url(#g26)"/><ellipse cx="424.6" cy="171.3" rx="3.2" ry="3.4" fill="url(#g16)"/><ellipse cx="377.7" cy="110.4" rx="2.9" ry="3.1" fill="url(#g15)"/><ellipse cx="434.6" cy="108.8" rx="3.0" ry="2.5" fill="url(#g23)"/><ellipse cx="471.2" cy="208.9" rx="2.9" ry="3.0" fill="url(#g17)"/><ellipse cx="433.3" cy="152.7" rx="2.4" ry="2.6" fill="url(#g15)"/><ellipse cx="491.0" cy="217.0" rx="3.1" ry="3.3" fill="url(#g27)"/><ellipse cx="368.1" cy="145.6" rx="3.0" ry="3.2" fill="url(#g21)"/><ellipse cx="366.1" cy="169.3" rx="3.0" ry="2.4" fill="url(#g13)"/><ellipse cx="441.0" cy="89.0" rx="2.7" ry="2.8" fill="url(#g29)"/><ellipse cx="420.0" cy="95.2" rx="2.7" ry="2.3" fill="url(#g29)"/><ellipse cx="522.3" cy="211.4" rx="2.4" ry="2.6" fill="url(#g24)"/><ellipse cx="440.5" cy="116.1" rx="2.3" ry="2.2" fill="url(#g13)"/><ellipse cx="481.3" cy="167.4" rx="3.1" ry="2.8" fill="url(#g27)"/><ellipse cx="416.4" cy="131.4" rx="2.3" ry="2.2" fill="url(#g29)"/><ellipse cx="509.3" cy="111.9" rx="2.5" ry="2.0" fill="url(#g20)"/><ellipse cx="515.2" cy="201.1" rx="2.6" ry="2.3" fill="url(#g15)"/><ellipse cx="501.4" cy="197.9" rx="2.3" ry="2.3" fill="url(#g17)"/><ellipse cx="414.9" cy="181.6" rx="3.1" ry="2.9" fill="url(#g16)"/><ellipse cx="460.5" cy="138.5" rx="2.3" ry="2.3" fill="url(#g26)"/><ellipse cx="453.9" cy="192.2" rx="2.5" ry="2.2" fill="url(#g27)"/><ellipse cx="467.8" cy="114.1" rx="2.4" ry="2.2" fill="url(#g29)"/><ellipse cx="383.2" cy="109.9" rx="2.5" ry="2.1" fill="url(#g16)"/><ellipse cx="379.1" cy="156.8" rx="2.8" ry="2.4" fill="url(#g17)"/><ellipse cx="453.3" cy="147.1" rx="2.7" ry="2.8" fill="url(#g22)"/><ellipse cx="385.7" cy="134.1" rx="2.9" ry="3.0" fill="url(#g28)"/><ellipse cx="466.4" cy="175.0" rx="2.8" ry="3.0" fill="url(#g15)"/><ellipse cx="361.6" cy="176.5" rx="2.8" ry="3.1" fill="url(#g27)"/><ellipse cx="347.0" cy="195.5" rx="3.0" ry="3.2" fill="url(#g15)"/><ellipse cx="480.2" cy="203.4" rx="2.7" ry="2.9" fill="url(#g13)"/><ellipse cx="512.1" cy="76.8" rx="2.2" ry="2.3" fill="url(#g26)"/><ellipse cx="376.7" cy="145.4" rx="3.0" ry="2.5" fill="url(#g19)"/><ellipse cx="480.9" cy="154.6" rx="2.9" ry="3.0" fill="url(#g29)"/><ellipse cx="472.1" cy="100.7" rx="3.0" ry="2.8" fill="url(#g18)"/><ellipse cx="360.7" cy="218.3" rx="2.2" ry="1.9" fill="url(#g25)"/><ellipse cx="404.1" cy="114.2" rx="2.5" ry="2.4" fill="url(#g16)"/><ellipse cx="416.3" cy="120.6" rx="2.6" ry="2.6" fill="url(#g27)"/><ellipse cx="492.8" cy="210.0" rx="2.9" ry="2.7" fill="url(#g27)"/><ellipse cx="382.7" cy="168.2" rx="2.7" ry="2.6" fill="url(#g24)"/><ellipse cx="479.3" cy="206.9" rx="2.3" ry="2.3" fill="url(#g13)"/><ellipse cx="496.3" cy="196.3" rx="2.7" ry="2.2" fill="url(#g16)"/><ellipse cx="376.5" cy="99.9" rx="2.7" ry="2.7" fill="url(#g24)"/><ellipse cx="493.7" cy="91.0" rx="3.0" ry="2.4" fill="url(#g16)"/><ellipse cx="353.1" cy="124.3" rx="3.0" ry="2.6" fill="url(#g17)"/><ellipse cx="410.5" cy="147.5" rx="2.7" ry="2.7" fill="url(#g27)"/><ellipse cx="343.9" cy="105.9" rx="2.8" ry="3.0" fill="url(#g16)"/><ellipse cx="362.6" cy="209.9" rx="2.7" ry="2.9" fill="url(#g24)"/><ellipse cx="425.9" cy="129.2" rx="2.7" ry="2.6" fill="url(#g21)"/><ellipse cx="467.2" cy="162.3" rx="2.9" ry="2.5" fill="url(#g17)"/><ellipse cx="415.4" cy="186.9" rx="2.6" ry="2.3" fill="url(#g15)"/><ellipse cx="457.6" cy="181.6" rx="2.3" ry="2.1" fill="url(#g21)"/><ellipse cx="476.6" cy="85.9" rx="3.1" ry="2.8" fill="url(#g21)"/><ellipse cx="469.5" cy="122.5" rx="3.1" ry="2.6" fill="url(#g25)"/><ellipse cx="410.4" cy="128.9" rx="2.6" ry="2.7" fill="url(#g20)"/><ellipse cx="361.4" cy="125.8" rx="2.6" ry="2.1" fill="url(#g29)"/><ellipse cx="369.1" cy="89.6" rx="2.7" ry="2.5" fill="url(#g13)"/><ellipse cx="413.9" cy="152.3" rx="2.6" ry="2.4" fill="url(#g17)"/><ellipse cx="383.5" cy="197.2" rx="2.3" ry="2.2" fill="url(#g22)"/><ellipse cx="427.8" cy="121.7" rx="2.3" ry="2.2" fill="url(#g23)"/><ellipse cx="471.4" cy="145.0" rx="3.1" ry="2.6" fill="url(#g24)"/><ellipse cx="353.6" cy="190.6" rx="2.3" ry="2.3" fill="url(#g17)"/><ellipse cx="500.3" cy="208.6" rx="2.4" ry="2.1" fill="url(#g13)"/><ellipse cx="485.7" cy="139.7" rx="2.4" ry="2.6" fill="url(#g18)"/><ellipse cx="362.6" cy="184.3" rx="2.8" ry="2.4" fill="url(#g28)"/><ellipse cx="372.7" cy="194.4" rx="2.8" ry="2.8" fill="url(#g28)"/><ellipse cx="483.6" cy="113.2" rx="3.0" ry="2.8" fill="url(#g13)"/><ellipse cx="481.2" cy="118.4" rx="2.9" ry="2.6" fill="url(#g22)"/><ellipse cx="482.5" cy="135.7" rx="3.1" ry="2.8" fill="url(#g16)"/><ellipse cx="348.2" cy="87.4" rx="2.3" ry="2.5" fill="url(#g22)"/><ellipse cx="401.4" cy="166.6" rx="2.7" ry="2.6" fill="url(#g13)"/><ellipse cx="523.0" cy="124.3" rx="2.8" ry="2.8" fill="url(#g24)"/><ellipse cx="467.2" cy="213.7" rx="2.4" ry="2.1" fill="url(#g13)"/><ellipse cx="344.6" cy="204.4" rx="2.6" ry="2.4" fill="url(#g24)"/><ellipse cx="518.5" cy="173.4" rx="3.1" ry="2.6" fill="url(#g19)"/><ellipse cx="344.2" cy="182.8" rx="2.3" ry="2.4" fill="url(#g25)"/><ellipse cx="358.5" cy="162.3" rx="2.8" ry="2.3" fill="url(#g25)"/><ellipse cx="347.7" cy="209.2" rx="3.0" ry="2.8" fill="url(#g28)"/><ellipse cx="369.4" cy="111.7" rx="3.0" ry="3.0" fill="url(#g25)"/><ellipse cx="471.9" cy="95.4" rx="2.2" ry="2.2" fill="url(#g29)"/><ellipse cx="495.5" cy="128.8" rx="2.2" ry="2.0" fill="url(#g29)"/><ellipse cx="394.9" cy="124.6" rx="3.0" ry="3.0" fill="url(#g21)"/><ellipse cx="425.7" cy="134.7" rx="3.0" ry="3.1" fill="url(#g17)"/><ellipse cx="520.3" cy="120.4" rx="2.6" ry="2.1" fill="url(#g21)"/><ellipse cx="470.0" cy="89.4" rx="2.7" ry="2.9" fill="url(#g15)"/><ellipse cx="402.7" cy="109.0" rx="2.9" ry="2.9" fill="url(#g14)"/><ellipse cx="448.6" cy="196.0" rx="2.9" ry="2.4" fill="url(#g19)"/><ellipse cx="483.4" cy="170.8" rx="3.2" ry="2.9" fill="url(#g15)"/><ellipse cx="446.8" cy="142.9" rx="2.5" ry="2.2" fill="url(#g23)"/><ellipse cx="481.9" cy="192.1" rx="2.4" ry="2.6" fill="url(#g27)"/><ellipse cx="453.6" cy="100.6" rx="2.4" ry="2.7" fill="url(#g16)"/><ellipse cx="404.7" cy="124.5" rx="2.8" ry="3.0" fill="url(#g22)"/><ellipse cx="369.6" cy="115.8" rx="2.5" ry="2.4" fill="url(#g15)"/><ellipse cx="475.4" cy="177.7" rx="2.6" ry="2.3" fill="url(#g24)"/><ellipse cx="344.5" cy="133.8" rx="2.3" ry="2.6" fill="url(#g27)"/><ellipse cx="502.6" cy="103.3" rx="2.3" ry="2.2" fill="url(#g14)"/><ellipse cx="444.6" cy="128.6" rx="3.1" ry="2.6" fill="url(#g20)"/><ellipse cx="469.2" cy="133.7" rx="2.8" ry="2.9" fill="url(#g21)"/><ellipse cx="434.5" cy="170.3" rx="2.8" ry="2.6" fill="url(#g24)"/><ellipse cx="457.5" cy="172.3" rx="2.4" ry="2.2" fill="url(#g15)"/><ellipse cx="383.0" cy="160.7" rx="2.6" ry="2.2" fill="url(#g28)"/><ellipse cx="503.1" cy="93.8" rx="2.3" ry="2.4" fill="url(#g21)"/><ellipse cx="508.6" cy="128.8" rx="2.6" ry="2.4" fill="url(#g16)"/><ellipse cx="344.1" cy="211.3" rx="2.3" ry="2.2" fill="url(#g25)"/><ellipse cx="371.6" cy="79.8" rx="2.7" ry="2.8" fill="url(#g17)"/><ellipse cx="377.4" cy="79.3" rx="2.3" ry="2.0" fill="url(#g21)"/><ellipse cx="514.3" cy="146.9" rx="2.9" ry="2.4" fill="url(#g26)"/><ellipse cx="351.1" cy="199.6" rx="3.1" ry="2.9" fill="url(#g27)"/><ellipse cx="473.3" cy="218.8" rx="3.1" ry="3.1" fill="url(#g13)"/><ellipse cx="502.5" cy="79.6" rx="2.3" ry="2.0" fill="url(#g29)"/><ellipse cx="522.9" cy="183.3" rx="2.2" ry="2.2" fill="url(#g19)"/><ellipse cx="431.5" cy="98.5" rx="2.9" ry="2.5" fill="url(#g28)"/><ellipse cx="523.0" cy="162.9" rx="3.0" ry="3.1" fill="url(#g13)"/><ellipse cx="510.6" cy="212.1" rx="3.2" ry="2.8" fill="url(#g16)"/><ellipse cx="354.6" cy="112.4" rx="2.8" ry="3.1" fill="url(#g21)"/><ellipse cx="511.7" cy="177.4" rx="2.3" ry="2.4" fill="url(#g27)"/><ellipse cx="375.3" cy="113.8" rx="2.2" ry="2.3" fill="url(#g24)"/><ellipse cx="436.6" cy="101.3" rx="2.3" ry="2.1" fill="url(#g23)"/><ellipse cx="475.6" cy="200.0" rx="2.4" ry="2.3" fill="url(#g27)"/><ellipse cx="498.8" cy="76.2" rx="2.3" ry="2.1" fill="url(#g20)"/><ellipse cx="462.5" cy="81.3" rx="3.0" ry="2.5" fill="url(#g26)"/><ellipse cx="372.4" cy="165.3" rx="3.2" ry="3.2" fill="url(#g16)"/><ellipse cx="400.5" cy="155.8" rx="2.6" ry="2.5" fill="url(#g28)"/><ellipse cx="445.5" cy="219.0" rx="3.2" ry="2.7" fill="url(#g25)"/><ellipse cx="511.4" cy="92.0" rx="2.7" ry="2.9" fill="url(#g14)"/><ellipse cx="521.2" cy="89.1" rx="2.4" ry="2.6" fill="url(#g15)"/><ellipse cx="407.0" cy="172.0" rx="2.3" ry="2.3" fill="url(#g15)"/><ellipse cx="358.3" cy="98.3" rx="2.2" ry="2.0" fill="url(#g19)"/><ellipse cx="474.2" cy="90.3" rx="2.4" ry="2.1" fill="url(#g21)"/><ellipse cx="492.2" cy="144.5" rx="2.8" ry="2.5" fill="url(#g29)"/><ellipse cx="443.2" cy="162.1" rx="3.0" ry="2.6" fill="url(#g17)"/><ellipse cx="361.8" cy="89.2" rx="3.2" ry="3.2" fill="url(#g19)"/><ellipse cx="456.0" cy="218.3" rx="3.2" ry="3.5" fill="url(#g24)"/><ellipse cx="350.5" cy="193.1" rx="2.3" ry="2.0" fill="url(#g15)"/><ellipse cx="375.1" cy="197.9" rx="3.2" ry="2.6" fill="url(#g29)"/><ellipse cx="518.3" cy="217.3" rx="2.3" ry="2.2" fill="url(#g24)"/><ellipse cx="387.8" cy="157.3" rx="2.9" ry="2.8" fill="url(#g14)"/><ellipse cx="398.8" cy="89.6" rx="2.3" ry="2.5" fill="url(#g23)"/><ellipse cx="500.9" cy="84.9" rx="3.1" ry="3.3" fill="url(#g15)"/><ellipse cx="343.2" cy="113.1" rx="2.3" ry="2.1" fill="url(#g17)"/><ellipse cx="350.3" cy="79.9" rx="3.2" ry="2.6" fill="url(#g17)"/><ellipse cx="381.4" cy="100.6" rx="3.1" ry="3.1" fill="url(#g17)"/><ellipse cx="369.8" cy="177.2" rx="2.3" ry="2.2" fill="url(#g27)"/><ellipse cx="440.8" cy="131.1" rx="2.2" ry="2.3" fill="url(#g14)"/><ellipse cx="426.9" cy="200.5" rx="3.0" ry="3.3" fill="url(#g17)"/><ellipse cx="365.6" cy="116.5" rx="2.5" ry="2.6" fill="url(#g24)"/><ellipse cx="435.7" cy="124.5" rx="3.1" ry="2.7" fill="url(#g17)"/><ellipse cx="455.7" cy="175.6" rx="2.7" ry="2.7" fill="url(#g15)"/><ellipse cx="489.6" cy="150.8" rx="3.2" ry="3.5" fill="url(#g21)"/><ellipse cx="512.2" cy="142.0" rx="2.6" ry="2.3" fill="url(#g14)"/><ellipse cx="436.9" cy="191.3" rx="3.2" ry="2.9" fill="url(#g25)"/><ellipse cx="494.9" cy="213.0" rx="3.1" ry="2.7" fill="url(#g17)"/><ellipse cx="444.7" cy="192.9" rx="2.9" ry="2.7" fill="url(#g17)"/><ellipse cx="458.7" cy="86.5" rx="2.6" ry="2.7" fill="url(#g22)"/><ellipse cx="485.2" cy="132.4" rx="2.6" ry="2.3" fill="url(#g23)"/><ellipse cx="428.7" cy="191.6" rx="2.5" ry="2.6" fill="url(#g25)"/><ellipse cx="506.1" cy="115.9" rx="3.2" ry="3.0" fill="url(#g21)"/><ellipse cx="511.1" cy="165.2" rx="2.2" ry="2.4" fill="url(#g14)"/><ellipse cx="492.1" cy="164.7" rx="2.6" ry="2.7" fill="url(#g25)"/><ellipse cx="353.8" cy="76.2" rx="2.9" ry="2.5" fill="url(#g18)"/><ellipse cx="388.0" cy="207.3" rx="3.2" ry="3.0" fill="url(#g17)"/><ellipse cx="474.0" cy="170.8" rx="2.9" ry="2.7" fill="url(#g17)"/><ellipse cx="414.2" cy="109.3" rx="2.6" ry="2.5" fill="url(#g28)"/><ellipse cx="374.2" cy="130.4" rx="2.3" ry="1.9" fill="url(#g24)"/><ellipse cx="521.3" cy="138.6" rx="3.2" ry="3.4" fill="url(#g25)"/><ellipse cx="392.9" cy="164.3" rx="2.6" ry="2.8" fill="url(#g16)"/><ellipse cx="344.0" cy="102.0" rx="2.6" ry="2.1" fill="url(#g13)"/><ellipse cx="475.3" cy="112.1" rx="2.4" ry="2.5" fill="url(#g13)"/><ellipse cx="437.3" cy="138.3" rx="3.2" ry="2.8" fill="url(#g25)"/><ellipse cx="454.2" cy="126.3" rx="3.2" ry="2.9" fill="url(#g26)"/><ellipse cx="507.6" cy="105.4" rx="2.5" ry="2.6" fill="url(#g18)"/><ellipse cx="429.5" cy="146.3" rx="2.8" ry="2.6" fill="url(#g19)"/><ellipse cx="358.8" cy="119.1" rx="2.9" ry="2.6" fill="url(#g20)"/><ellipse cx="473.3" cy="155.9" rx="2.6" ry="2.3" fill="url(#g17)"/><ellipse cx="462.0" cy="128.5" rx="2.8" ry="3.1" fill="url(#g28)"/><ellipse cx="405.0" cy="142.1" rx="2.6" ry="2.1" fill="url(#g23)"/><ellipse cx="495.5" cy="146.3" rx="2.3" ry="2.4" fill="url(#g21)"/><ellipse cx="422.0" cy="132.7" rx="3.0" ry="2.5" fill="url(#g15)"/><ellipse cx="479.2" cy="89.0" rx="3.0" ry="3.1" fill="url(#g22)"/><ellipse cx="463.2" cy="214.7" rx="3.2" ry="2.9" fill="url(#g16)"/><ellipse cx="376.5" cy="122.3" rx="3.0" ry="2.4" fill="url(#g28)"/><ellipse cx="499.1" cy="89.2" rx="2.8" ry="2.4" fill="url(#g24)"/><ellipse cx="522.2" cy="116.4" rx="3.0" ry="3.0" fill="url(#g27)"/><ellipse cx="398.5" cy="192.7" rx="3.1" ry="3.1" fill="url(#g24)"/><ellipse cx="349.9" cy="95.4" rx="2.4" ry="2.3" fill="url(#g24)"/><ellipse cx="360.5" cy="187.5" rx="2.5" ry="2.5" fill="url(#g17)"/><ellipse cx="518.6" cy="186.9" rx="2.8" ry="2.6" fill="url(#g25)"/><ellipse cx="431.9" cy="202.4" rx="2.8" ry="2.6" fill="url(#g17)"/><ellipse cx="343.4" cy="125.1" rx="2.6" ry="2.4" fill="url(#g25)"/><ellipse cx="467.1" cy="190.7" rx="3.2" ry="2.9" fill="url(#g13)"/><ellipse cx="421.3" cy="213.7" rx="2.5" ry="2.3" fill="url(#g17)"/><ellipse cx="413.0" cy="122.9" rx="2.8" ry="2.4" fill="url(#g15)"/><ellipse cx="462.7" cy="176.4" rx="2.5" ry="2.1" fill="url(#g27)"/><ellipse cx="372.5" cy="87.6" rx="2.4" ry="2.4" fill="url(#g19)"/><ellipse cx="413.2" cy="116.2" rx="2.4" ry="2.5" fill="url(#g27)"/><ellipse cx="394.8" cy="100.7" rx="3.0" ry="3.2" fill="url(#g22)"/><ellipse cx="505.1" cy="211.5" rx="2.8" ry="2.9" fill="url(#g19)"/><ellipse cx="366.2" cy="92.0" rx="2.5" ry="2.4" fill="url(#g17)"/><ellipse cx="402.5" cy="88.8" rx="2.7" ry="2.7" fill="url(#g14)"/><ellipse cx="488.9" cy="94.0" rx="2.9" ry="3.1" fill="url(#g21)"/><ellipse cx="365.2" cy="195.5" rx="2.7" ry="2.6" fill="url(#g15)"/><ellipse cx="446.3" cy="202.3" rx="2.4" ry="2.2" fill="url(#g13)"/><ellipse cx="407.5" cy="158.0" rx="2.6" ry="2.6" fill="url(#g15)"/><ellipse cx="365.9" cy="126.8" rx="2.7" ry="2.5" fill="url(#g24)"/><ellipse cx="422.8" cy="110.1" rx="2.7" ry="2.6" fill="url(#g24)"/><ellipse cx="378.1" cy="189.5" rx="2.8" ry="2.3" fill="url(#g21)"/><ellipse cx="468.8" cy="80.5" rx="2.8" ry="2.6" fill="url(#g26)"/><ellipse cx="480.3" cy="177.0" rx="2.3" ry="2.4" fill="url(#g24)"/><ellipse cx="521.2" cy="96.9" rx="3.0" ry="3.1" fill="url(#g19)"/><ellipse cx="487.2" cy="128.7" rx="2.8" ry="2.3" fill="url(#g26)"/><ellipse cx="417.5" cy="148.3" rx="2.5" ry="2.0" fill="url(#g15)"/><ellipse cx="458.3" cy="134.9" rx="2.6" ry="2.7" fill="url(#g22)"/><ellipse cx="399.2" cy="197.5" rx="2.5" ry="2.3" fill="url(#g23)"/><ellipse cx="402.9" cy="104.7" rx="2.7" ry="2.6" fill="url(#g27)"/><ellipse cx="508.7" cy="147.0" rx="2.8" ry="2.9" fill="url(#g21)"/><ellipse cx="353.7" cy="164.2" rx="2.9" ry="2.6" fill="url(#g27)"/><ellipse cx="361.0" cy="107.7" rx="2.7" ry="2.2" fill="url(#g15)"/><ellipse cx="361.2" cy="81.1" rx="2.8" ry="2.8" fill="url(#g19)"/><ellipse cx="517.6" cy="81.8" rx="2.7" ry="2.6" fill="url(#g19)"/><ellipse cx="468.9" cy="187.1" rx="2.3" ry="1.9" fill="url(#g25)"/><ellipse cx="453.4" cy="215.7" rx="2.4" ry="2.0" fill="url(#g13)"/><ellipse cx="390.3" cy="214.1" rx="3.1" ry="3.0" fill="url(#g16)"/><ellipse cx="368.3" cy="203.2" rx="2.4" ry="2.5" fill="url(#g15)"/><ellipse cx="383.6" cy="204.6" rx="2.3" ry="2.1" fill="url(#g13)"/><ellipse cx="386.3" cy="95.8" rx="3.0" ry="2.7" fill="url(#g26)"/><ellipse cx="452.7" cy="166.1" rx="2.3" ry="2.1" fill="url(#g20)"/><ellipse cx="430.0" cy="154.4" rx="3.1" ry="2.9" fill="url(#g24)"/><ellipse cx="501.2" cy="188.8" rx="3.2" ry="3.1" fill="url(#g15)"/><ellipse cx="450.4" cy="109.2" rx="2.7" ry="2.6" fill="url(#g27)"/><ellipse cx="450.6" cy="83.2" rx="2.8" ry="2.8" fill="url(#g13)"/><ellipse cx="359.7" cy="129.8" rx="2.4" ry="2.4" fill="url(#g16)"/><ellipse cx="407.0" cy="79.2" rx="2.8" ry="2.5" fill="url(#g15)"/><ellipse cx="384.3" cy="178.3" rx="2.4" ry="2.3" fill="url(#g27)"/><ellipse cx="358.9" cy="203.7" rx="2.4" ry="2.4" fill="url(#g17)"/><ellipse cx="422.9" cy="192.2" rx="2.8" ry="2.4" fill="url(#g17)"/><ellipse cx="444.0" cy="91.9" rx="3.0" ry="2.5" fill="url(#g24)"/><ellipse cx="487.5" cy="199.9" rx="2.9" ry="3.0" fill="url(#g15)"/><ellipse cx="510.8" cy="107.3" rx="3.1" ry="2.5" fill="url(#g26)"/><ellipse cx="370.9" cy="76.0" rx="2.5" ry="2.4" fill="url(#g27)"/><ellipse cx="373.0" cy="217.6" rx="3.1" ry="2.7" fill="url(#g25)"/><ellipse cx="484.8" cy="213.2" rx="2.5" ry="2.6" fill="url(#g16)"/><ellipse cx="404.4" cy="178.1" rx="2.9" ry="2.4" fill="url(#g15)"/><ellipse cx="372.9" cy="104.8" rx="2.2" ry="1.8" fill="url(#g24)"/><ellipse cx="451.5" cy="172.8" rx="2.7" ry="2.7" fill="url(#g16)"/><ellipse cx="464.7" cy="159.4" rx="2.3" ry="2.1" fill="url(#g24)"/><ellipse cx="457.6" cy="100.8" rx="2.3" ry="1.9" fill="url(#g27)"/><ellipse cx="392.6" cy="93.8" rx="2.9" ry="2.9" fill="url(#g24)"/><ellipse cx="403.0" cy="147.9" rx="3.2" ry="3.3" fill="url(#g22)"/><ellipse cx="431.0" cy="85.1" rx="2.8" ry="2.9" fill="url(#g19)"/><ellipse cx="488.9" cy="192.1" rx="3.0" ry="2.6" fill="url(#g19)"/><ellipse cx="411.1" cy="90.2" rx="2.7" ry="2.8" fill="url(#g17)"/><ellipse cx="512.1" cy="81.3" rx="2.8" ry="2.9" fill="url(#g24)"/><ellipse cx="376.4" cy="75.7" rx="3.1" ry="2.7" fill="url(#g28)"/><ellipse cx="371.2" cy="171.6" rx="2.5" ry="2.2" fill="url(#g16)"/><ellipse cx="416.5" cy="101.6" rx="2.8" ry="2.4" fill="url(#g21)"/><ellipse cx="483.2" cy="179.7" rx="2.5" ry="2.4" fill="url(#g19)"/><ellipse cx="436.9" cy="185.3" rx="2.9" ry="2.4" fill="url(#g25)"/><ellipse cx="354.8" cy="103.9" rx="2.3" ry="2.5" fill="url(#g19)"/><ellipse cx="451.1" cy="150.0" rx="2.5" ry="2.0" fill="url(#g29)"/><ellipse cx="445.7" cy="158.5" rx="2.9" ry="3.1" fill="url(#g27)"/><ellipse cx="514.6" cy="183.7" rx="2.2" ry="2.0" fill="url(#g25)"/><ellipse cx="460.8" cy="97.8" rx="2.7" ry="2.8" fill="url(#g16)"/><ellipse cx="421.6" cy="151.0" rx="2.5" ry="2.4" fill="url(#g16)"/><ellipse cx="468.0" cy="148.9" rx="2.7" ry="2.9" fill="url(#g26)"/><ellipse cx="386.8" cy="174.9" rx="2.4" ry="2.5" fill="url(#g17)"/><ellipse cx="495.6" cy="172.0" rx="2.8" ry="3.1" fill="url(#g19)"/><ellipse cx="522.2" cy="149.3" rx="2.5" ry="2.1" fill="url(#g18)"/><ellipse cx="518.7" cy="164.7" rx="2.9" ry="2.7" fill="url(#g14)"/><ellipse cx="391.3" cy="181.1" rx="3.2" ry="2.9" fill="url(#g19)"/><ellipse cx="395.5" cy="204.8" rx="2.3" ry="2.3" fill="url(#g13)"/><ellipse cx="519.0" cy="190.6" rx="2.5" ry="2.2" fill="url(#g25)"/><ellipse cx="454.4" cy="169.9" rx="2.2" ry="2.1" fill="url(#g19)"/><ellipse cx="426.0" cy="212.5" rx="2.8" ry="2.8" fill="url(#g16)"/><ellipse cx="366.1" cy="101.4" rx="2.6" ry="2.2" fill="url(#g15)"/><ellipse cx="395.6" cy="196.5" rx="3.2" ry="2.8" fill="url(#g27)"/><ellipse cx="376.6" cy="166.5" rx="2.9" ry="2.8" fill="url(#g19)"/><ellipse cx="373.7" cy="214.0" rx="2.8" ry="2.3" fill="url(#g15)"/><ellipse cx="425.1" cy="76.8" rx="3.2" ry="3.2" fill="url(#g25)"/><ellipse cx="446.9" cy="174.0" rx="2.6" ry="2.8" fill="url(#g24)"/><ellipse cx="367.9" cy="185.5" rx="2.4" ry="2.5" fill="url(#g24)"/><ellipse cx="472.8" cy="85.5" rx="2.6" ry="2.8" fill="url(#g14)"/><ellipse cx="401.0" cy="144.0" rx="2.8" ry="3.0" fill="url(#g26)"/><ellipse cx="470.4" cy="139.8" rx="2.3" ry="2.1" fill="url(#g20)"/><ellipse cx="433.6" cy="180.6" rx="3.2" ry="3.2" fill="url(#g17)"/><ellipse cx="480.2" cy="84.0" rx="3.1" ry="2.7" fill="url(#g22)"/><circle cx="370.7" cy="96" r="3.8" fill="url(#g30)"/><circle cx="358" cy="130" r="3.8" fill="url(#g30)"/><circle cx="361" cy="160" r="3.0" fill="url(#g30)"/><circle cx="369" cy="181" r="3.3" fill="url(#g30)"/><circle cx="421" cy="179" r="3.0" fill="url(#g30)"/><circle cx="429" cy="151" r="4.5" fill="url(#g30)"/><circle cx="473" cy="112" r="4.5" fill="url(#g30)"/><circle cx="485" cy="105" r="3.3" fill="url(#g30)"/><circle cx="448" cy="106" r="3.0" fill="url(#g30)"/><circle cx="380" cy="169.5" r="2.7" fill="url(#g30)"/></g></svg>
</body></html>
